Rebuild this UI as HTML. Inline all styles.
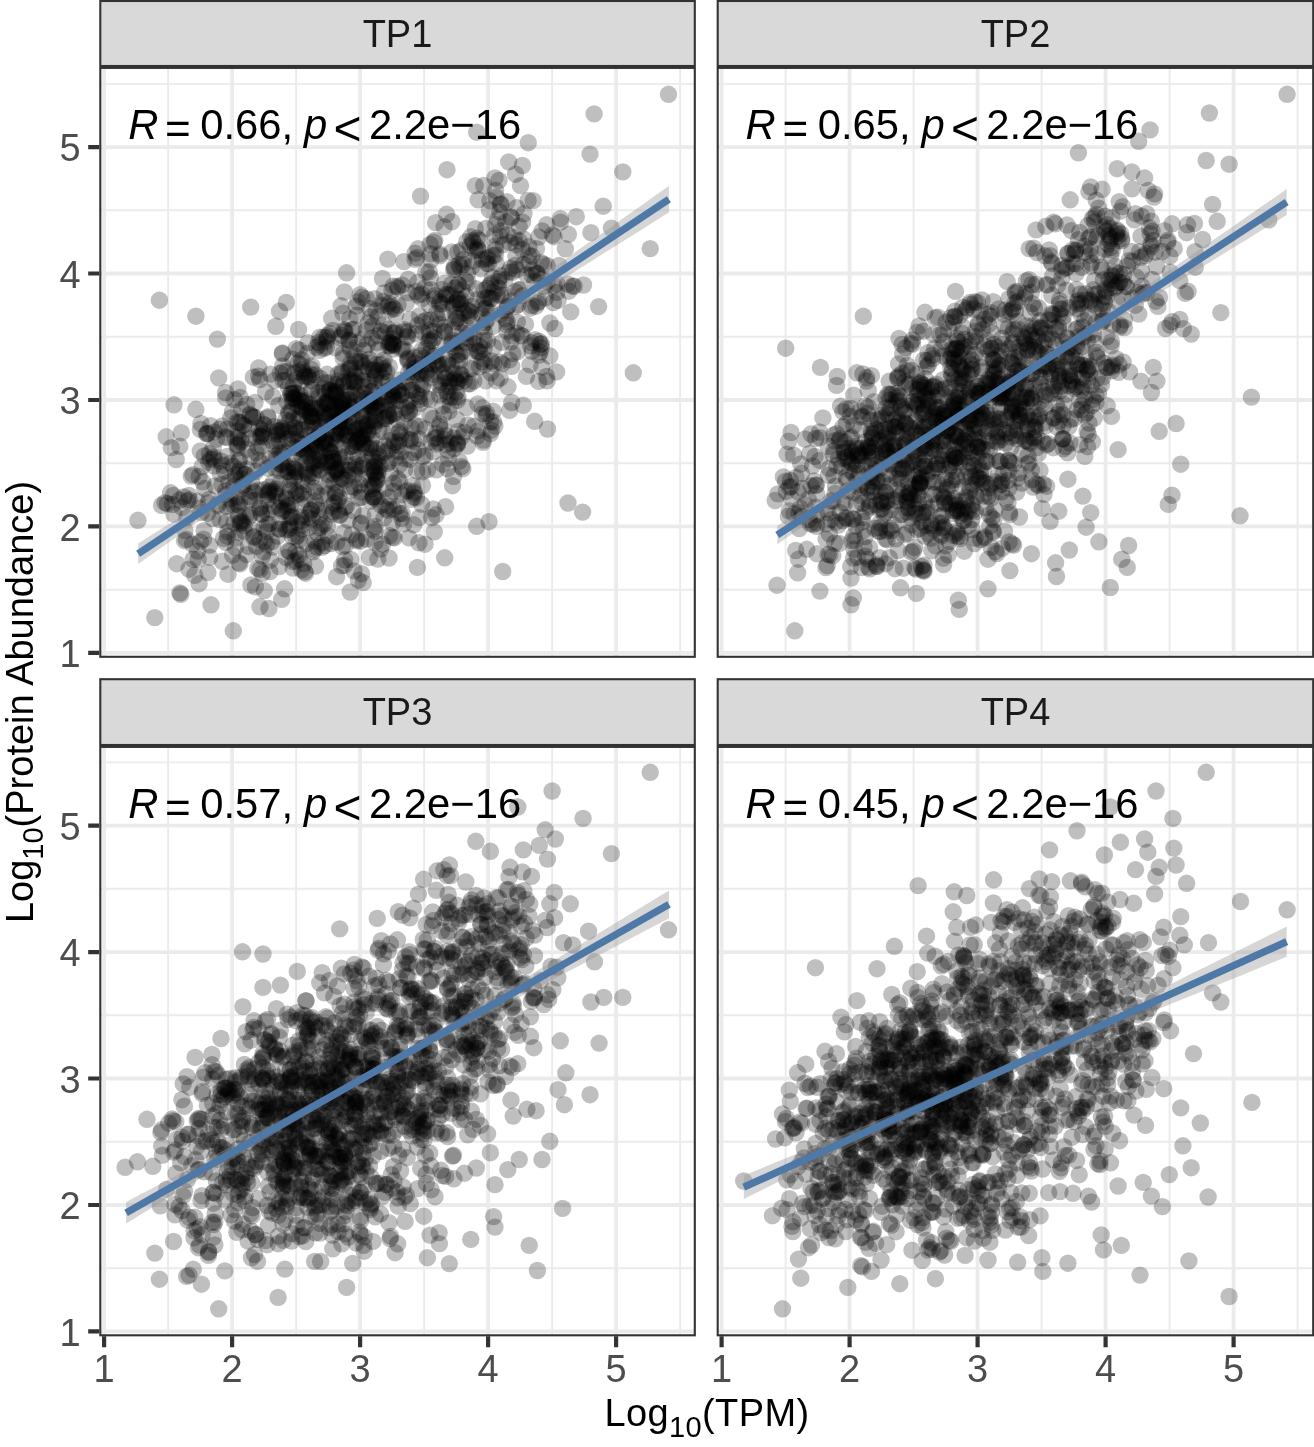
<!DOCTYPE html>
<html lang="en"><head><meta charset="utf-8"><title>Log10(TPM) vs Log10(Protein Abundance)</title>
<style>html,body{margin:0;padding:0;background:#fff}svg{display:block}text{font-family:"Liberation Sans",Arial,Helvetica,sans-serif}.tk{font-size:38px;fill:#4d4d4d}.st{font-size:38px;fill:#1a1a1a}.an{font-size:41.8px;fill:#000}.ti{font-size:38px;fill:#000}.i{font-style:italic}</style></head>
<body>
<svg width="1314" height="1447" viewBox="0 0 1314 1447">
<rect width="1314" height="1447" fill="#fff"/>
<g id="TP1">
<clipPath id="c0"><rect x="100.3" y="67.9" width="594.5" height="588.9"/></clipPath>
<rect x="100.3" y="67.9" width="594.5" height="588.9" fill="#fff"/>
<path d="M168.1 67.9V656.8M100.3 589.7H694.8M296.1 67.9V656.8M100.3 463.2H694.8M424.1 67.9V656.8M100.3 336.8H694.8M552.1 67.9V656.8M100.3 210.3H694.8M680.1 67.9V656.8M100.3 83.9H694.8" stroke="#ebebeb" stroke-width="1.9" fill="none"/>
<path d="M104.1 67.9V656.8M100.3 652.9H694.8M232.1 67.9V656.8M100.3 526.4H694.8M360.1 67.9V656.8M100.3 400H694.8M488.1 67.9V656.8M100.3 273.5H694.8M616.1 67.9V656.8M100.3 147.1H694.8" stroke="#ebebeb" stroke-width="3.8" fill="none"/>
<g clip-path="url(#c0)"><g fill="#000" fill-opacity="0.25">
<circle cx="359.6" cy="484.5" r="8.7"/><circle cx="288.9" cy="429.6" r="8.7"/><circle cx="352.9" cy="406.6" r="8.7"/><circle cx="263.7" cy="551.8" r="8.7"/><circle cx="356.9" cy="399.7" r="8.7"/><circle cx="369.2" cy="448.1" r="8.7"/>
<circle cx="332.7" cy="461.2" r="8.7"/><circle cx="252.3" cy="490.8" r="8.7"/><circle cx="200.3" cy="451" r="8.7"/><circle cx="244.5" cy="474.6" r="8.7"/><circle cx="292.6" cy="401.8" r="8.7"/><circle cx="354.8" cy="391.5" r="8.7"/>
<circle cx="374.6" cy="385.4" r="8.7"/><circle cx="348.6" cy="426.7" r="8.7"/><circle cx="238.2" cy="437.9" r="8.7"/><circle cx="233.8" cy="486" r="8.7"/><circle cx="318.7" cy="509.6" r="8.7"/><circle cx="367.5" cy="424.7" r="8.7"/>
<circle cx="267.6" cy="494.6" r="8.7"/><circle cx="237.5" cy="496.6" r="8.7"/><circle cx="354.7" cy="383.5" r="8.7"/><circle cx="320.2" cy="378.2" r="8.7"/><circle cx="330.4" cy="451.3" r="8.7"/><circle cx="397.2" cy="419.3" r="8.7"/>
<circle cx="389.2" cy="461.7" r="8.7"/><circle cx="261.3" cy="513.8" r="8.7"/><circle cx="293.5" cy="386.1" r="8.7"/><circle cx="270.2" cy="490.4" r="8.7"/><circle cx="230.3" cy="463.2" r="8.7"/><circle cx="374.7" cy="484.7" r="8.7"/>
<circle cx="213.9" cy="457" r="8.7"/><circle cx="419.1" cy="396" r="8.7"/><circle cx="339.3" cy="416.8" r="8.7"/><circle cx="294" cy="466.3" r="8.7"/><circle cx="313.2" cy="420" r="8.7"/><circle cx="327.8" cy="494" r="8.7"/>
<circle cx="279.8" cy="529.1" r="8.7"/><circle cx="438.5" cy="364.1" r="8.7"/><circle cx="279.1" cy="528.9" r="8.7"/><circle cx="263.5" cy="424.2" r="8.7"/><circle cx="272.4" cy="440.8" r="8.7"/><circle cx="361.4" cy="468.2" r="8.7"/>
<circle cx="362.6" cy="380.1" r="8.7"/><circle cx="368.4" cy="432.2" r="8.7"/><circle cx="392.8" cy="445.6" r="8.7"/><circle cx="268" cy="416.7" r="8.7"/><circle cx="249.4" cy="438.1" r="8.7"/><circle cx="328.8" cy="404.3" r="8.7"/>
<circle cx="325.5" cy="438.7" r="8.7"/><circle cx="338.7" cy="380.9" r="8.7"/><circle cx="450.6" cy="397.2" r="8.7"/><circle cx="417.6" cy="325.3" r="8.7"/><circle cx="362.3" cy="436.8" r="8.7"/><circle cx="338.9" cy="428" r="8.7"/>
<circle cx="296.2" cy="399.5" r="8.7"/><circle cx="314.1" cy="468" r="8.7"/><circle cx="348.2" cy="430.9" r="8.7"/><circle cx="295.6" cy="433.5" r="8.7"/><circle cx="344.9" cy="415.3" r="8.7"/><circle cx="274.6" cy="506.4" r="8.7"/>
<circle cx="279.4" cy="440.9" r="8.7"/><circle cx="325" cy="392.8" r="8.7"/><circle cx="311.1" cy="509.8" r="8.7"/><circle cx="261.3" cy="463.3" r="8.7"/><circle cx="381.7" cy="305.2" r="8.7"/><circle cx="316.7" cy="347.1" r="8.7"/>
<circle cx="389" cy="416.1" r="8.7"/><circle cx="378.7" cy="404.3" r="8.7"/><circle cx="332.7" cy="458" r="8.7"/><circle cx="353.6" cy="380.3" r="8.7"/><circle cx="385.7" cy="488.7" r="8.7"/><circle cx="313.5" cy="472.9" r="8.7"/>
<circle cx="319.3" cy="434.5" r="8.7"/><circle cx="308.3" cy="376.2" r="8.7"/><circle cx="412.6" cy="374" r="8.7"/><circle cx="308.3" cy="453.1" r="8.7"/><circle cx="329.5" cy="480.4" r="8.7"/><circle cx="318.8" cy="469.9" r="8.7"/>
<circle cx="388.2" cy="450" r="8.7"/><circle cx="414.1" cy="491.5" r="8.7"/><circle cx="305.7" cy="472.3" r="8.7"/><circle cx="329.5" cy="390.9" r="8.7"/><circle cx="269.2" cy="487.3" r="8.7"/><circle cx="290.1" cy="516.5" r="8.7"/>
<circle cx="276.1" cy="489" r="8.7"/><circle cx="204.4" cy="455.9" r="8.7"/><circle cx="362" cy="414.2" r="8.7"/><circle cx="343.7" cy="403" r="8.7"/><circle cx="339.1" cy="434.8" r="8.7"/><circle cx="249.3" cy="428.8" r="8.7"/>
<circle cx="334.7" cy="404.1" r="8.7"/><circle cx="304.8" cy="453.7" r="8.7"/><circle cx="299.1" cy="349.9" r="8.7"/><circle cx="233.2" cy="466.1" r="8.7"/><circle cx="303.3" cy="372.4" r="8.7"/><circle cx="486.3" cy="259" r="8.7"/>
<circle cx="311.9" cy="444.7" r="8.7"/><circle cx="273.4" cy="482.3" r="8.7"/><circle cx="393.9" cy="345.5" r="8.7"/><circle cx="461" cy="303.3" r="8.7"/><circle cx="320.7" cy="425.9" r="8.7"/><circle cx="311.8" cy="389.9" r="8.7"/>
<circle cx="294.2" cy="393.2" r="8.7"/><circle cx="362.8" cy="515.8" r="8.7"/><circle cx="376.2" cy="407.2" r="8.7"/><circle cx="374.4" cy="472.3" r="8.7"/><circle cx="336.8" cy="492.8" r="8.7"/><circle cx="299.8" cy="394.9" r="8.7"/>
<circle cx="348.8" cy="399.9" r="8.7"/><circle cx="356.6" cy="429.2" r="8.7"/><circle cx="324.5" cy="457" r="8.7"/><circle cx="458.2" cy="431.4" r="8.7"/><circle cx="220" cy="519.6" r="8.7"/><circle cx="372.3" cy="391.4" r="8.7"/>
<circle cx="254.4" cy="492.6" r="8.7"/><circle cx="354" cy="435.8" r="8.7"/><circle cx="340.4" cy="416.3" r="8.7"/><circle cx="337" cy="387.5" r="8.7"/><circle cx="414.8" cy="368.3" r="8.7"/><circle cx="330.8" cy="390.1" r="8.7"/>
<circle cx="336.6" cy="434.1" r="8.7"/><circle cx="240.9" cy="440.3" r="8.7"/><circle cx="334.6" cy="392.1" r="8.7"/><circle cx="416.6" cy="393.6" r="8.7"/><circle cx="325" cy="382.7" r="8.7"/><circle cx="292.3" cy="398" r="8.7"/>
<circle cx="330.4" cy="466.4" r="8.7"/><circle cx="331.7" cy="506.2" r="8.7"/><circle cx="407.1" cy="413.7" r="8.7"/><circle cx="294.3" cy="427.6" r="8.7"/><circle cx="292.7" cy="359.1" r="8.7"/><circle cx="302.6" cy="369.5" r="8.7"/>
<circle cx="289.7" cy="551.5" r="8.7"/><circle cx="292.7" cy="434.3" r="8.7"/><circle cx="405.8" cy="407.8" r="8.7"/><circle cx="220.7" cy="461" r="8.7"/><circle cx="413.8" cy="452.7" r="8.7"/><circle cx="295.3" cy="469.2" r="8.7"/>
<circle cx="334.1" cy="483.1" r="8.7"/><circle cx="333.2" cy="410.2" r="8.7"/><circle cx="221.9" cy="484.5" r="8.7"/><circle cx="470" cy="383.8" r="8.7"/><circle cx="393" cy="344.7" r="8.7"/><circle cx="323.8" cy="337.3" r="8.7"/>
<circle cx="402.2" cy="394.6" r="8.7"/><circle cx="327.5" cy="335.6" r="8.7"/><circle cx="349.3" cy="340.2" r="8.7"/><circle cx="279.5" cy="470.7" r="8.7"/><circle cx="361.7" cy="362.2" r="8.7"/><circle cx="283.8" cy="431.2" r="8.7"/>
<circle cx="325.4" cy="403" r="8.7"/><circle cx="404.3" cy="422.5" r="8.7"/><circle cx="311.1" cy="374.6" r="8.7"/><circle cx="288.2" cy="467.6" r="8.7"/><circle cx="302.2" cy="481.8" r="8.7"/><circle cx="359" cy="466.3" r="8.7"/>
<circle cx="329.5" cy="450.7" r="8.7"/><circle cx="335.1" cy="347.9" r="8.7"/><circle cx="277.7" cy="443.8" r="8.7"/><circle cx="387.8" cy="463.3" r="8.7"/><circle cx="329.6" cy="333.5" r="8.7"/><circle cx="301.6" cy="504.3" r="8.7"/>
<circle cx="334.6" cy="448.6" r="8.7"/><circle cx="252.9" cy="416.7" r="8.7"/><circle cx="356.5" cy="441.2" r="8.7"/><circle cx="236.9" cy="444.5" r="8.7"/><circle cx="238" cy="445.5" r="8.7"/><circle cx="409.9" cy="439.2" r="8.7"/>
<circle cx="339.4" cy="480" r="8.7"/><circle cx="375" cy="473.6" r="8.7"/><circle cx="290.7" cy="445.3" r="8.7"/><circle cx="353.5" cy="418.5" r="8.7"/><circle cx="216.4" cy="439.1" r="8.7"/><circle cx="240.3" cy="397.4" r="8.7"/>
<circle cx="288.6" cy="388" r="8.7"/><circle cx="411.1" cy="367.8" r="8.7"/><circle cx="311.2" cy="369.3" r="8.7"/><circle cx="290.2" cy="490.4" r="8.7"/><circle cx="409.2" cy="410.8" r="8.7"/><circle cx="404.7" cy="469.7" r="8.7"/>
<circle cx="331.7" cy="318.3" r="8.7"/><circle cx="402.2" cy="513.5" r="8.7"/><circle cx="371.1" cy="405.8" r="8.7"/><circle cx="397.8" cy="478.8" r="8.7"/><circle cx="362.7" cy="424.2" r="8.7"/><circle cx="459.2" cy="461.1" r="8.7"/>
<circle cx="322.7" cy="417.9" r="8.7"/><circle cx="344" cy="433.7" r="8.7"/><circle cx="415.2" cy="425.5" r="8.7"/><circle cx="267.5" cy="524.2" r="8.7"/><circle cx="304.9" cy="375.6" r="8.7"/><circle cx="295.8" cy="537" r="8.7"/>
<circle cx="312.5" cy="422.4" r="8.7"/><circle cx="246.7" cy="469.3" r="8.7"/><circle cx="364" cy="430.7" r="8.7"/><circle cx="327.2" cy="403.1" r="8.7"/><circle cx="301.8" cy="401.5" r="8.7"/><circle cx="399.9" cy="513.6" r="8.7"/>
<circle cx="376.8" cy="480.6" r="8.7"/><circle cx="200.4" cy="429.3" r="8.7"/><circle cx="375" cy="466.9" r="8.7"/><circle cx="301.2" cy="364.8" r="8.7"/><circle cx="269.5" cy="523.6" r="8.7"/><circle cx="255" cy="402.5" r="8.7"/>
<circle cx="286.5" cy="498" r="8.7"/><circle cx="369.5" cy="405.8" r="8.7"/><circle cx="281.6" cy="464.8" r="8.7"/><circle cx="299" cy="418.1" r="8.7"/><circle cx="299.3" cy="539.8" r="8.7"/><circle cx="297.3" cy="522" r="8.7"/>
<circle cx="291.4" cy="394" r="8.7"/><circle cx="278.9" cy="434.6" r="8.7"/><circle cx="348.4" cy="420.9" r="8.7"/><circle cx="341.7" cy="465" r="8.7"/><circle cx="306.5" cy="442.7" r="8.7"/><circle cx="341.7" cy="405.6" r="8.7"/>
<circle cx="296.8" cy="378.9" r="8.7"/><circle cx="263" cy="433.1" r="8.7"/><circle cx="297.9" cy="397.6" r="8.7"/><circle cx="321" cy="495.6" r="8.7"/><circle cx="344" cy="532.7" r="8.7"/><circle cx="436.6" cy="437.5" r="8.7"/>
<circle cx="258.9" cy="490.3" r="8.7"/><circle cx="377.5" cy="399.8" r="8.7"/><circle cx="372" cy="338" r="8.7"/><circle cx="319" cy="396.8" r="8.7"/><circle cx="449.2" cy="411.1" r="8.7"/><circle cx="324.7" cy="418.1" r="8.7"/>
<circle cx="259.8" cy="379.6" r="8.7"/><circle cx="288.8" cy="412.1" r="8.7"/><circle cx="373.2" cy="420.3" r="8.7"/><circle cx="261.3" cy="435.7" r="8.7"/><circle cx="336.3" cy="432.9" r="8.7"/><circle cx="315.3" cy="444.1" r="8.7"/>
<circle cx="390.6" cy="342.7" r="8.7"/><circle cx="401.2" cy="394.9" r="8.7"/><circle cx="253.4" cy="377.2" r="8.7"/><circle cx="309.5" cy="513.6" r="8.7"/><circle cx="297" cy="471.4" r="8.7"/><circle cx="342.3" cy="373.2" r="8.7"/>
<circle cx="323.7" cy="388.4" r="8.7"/><circle cx="436.2" cy="313.6" r="8.7"/><circle cx="419.4" cy="438.8" r="8.7"/><circle cx="219.6" cy="429.1" r="8.7"/><circle cx="286.8" cy="401.4" r="8.7"/><circle cx="353.7" cy="329.2" r="8.7"/>
<circle cx="303.8" cy="563.7" r="8.7"/><circle cx="371.5" cy="391.5" r="8.7"/><circle cx="217.8" cy="503.9" r="8.7"/><circle cx="235" cy="437.3" r="8.7"/><circle cx="372.1" cy="439.3" r="8.7"/><circle cx="289.9" cy="485.3" r="8.7"/>
<circle cx="364.2" cy="350.4" r="8.7"/><circle cx="351.9" cy="534.7" r="8.7"/><circle cx="335.4" cy="471" r="8.7"/><circle cx="335.7" cy="390.2" r="8.7"/><circle cx="318.5" cy="392.7" r="8.7"/><circle cx="355.4" cy="464.4" r="8.7"/>
<circle cx="362.9" cy="433.3" r="8.7"/><circle cx="363.7" cy="463.8" r="8.7"/><circle cx="333.2" cy="436.5" r="8.7"/><circle cx="422.2" cy="388" r="8.7"/><circle cx="298.5" cy="371.7" r="8.7"/><circle cx="270.3" cy="458.8" r="8.7"/>
<circle cx="344.9" cy="330" r="8.7"/><circle cx="390.7" cy="472.8" r="8.7"/><circle cx="338.9" cy="423.1" r="8.7"/><circle cx="369.2" cy="363.1" r="8.7"/><circle cx="325.5" cy="440.2" r="8.7"/><circle cx="422.8" cy="332.2" r="8.7"/>
<circle cx="354.6" cy="444.7" r="8.7"/><circle cx="372" cy="456.2" r="8.7"/><circle cx="294.4" cy="373.2" r="8.7"/><circle cx="237.2" cy="422" r="8.7"/><circle cx="414.1" cy="408.6" r="8.7"/><circle cx="376.5" cy="342.5" r="8.7"/>
<circle cx="295.1" cy="428" r="8.7"/><circle cx="406.4" cy="303" r="8.7"/><circle cx="429.8" cy="414.7" r="8.7"/><circle cx="457.1" cy="355.2" r="8.7"/><circle cx="298.1" cy="363.3" r="8.7"/><circle cx="327.2" cy="444.6" r="8.7"/>
<circle cx="300.9" cy="516.7" r="8.7"/><circle cx="332.7" cy="330.4" r="8.7"/><circle cx="281.9" cy="454.2" r="8.7"/><circle cx="179.8" cy="446.3" r="8.7"/><circle cx="297.8" cy="406.1" r="8.7"/><circle cx="394.8" cy="442.4" r="8.7"/>
<circle cx="276.5" cy="459.3" r="8.7"/><circle cx="270.4" cy="509.4" r="8.7"/><circle cx="334.4" cy="503.3" r="8.7"/><circle cx="400.9" cy="452.3" r="8.7"/><circle cx="247.3" cy="449.3" r="8.7"/><circle cx="284.6" cy="452.3" r="8.7"/>
<circle cx="434.8" cy="438.5" r="8.7"/><circle cx="337.7" cy="472.3" r="8.7"/><circle cx="350.1" cy="490.7" r="8.7"/><circle cx="315.9" cy="505.2" r="8.7"/><circle cx="318.5" cy="342.5" r="8.7"/><circle cx="249.6" cy="414.1" r="8.7"/>
<circle cx="322.5" cy="441.8" r="8.7"/><circle cx="330.8" cy="452.9" r="8.7"/><circle cx="324.7" cy="402.8" r="8.7"/><circle cx="374.6" cy="422.4" r="8.7"/><circle cx="291.3" cy="411" r="8.7"/><circle cx="285.4" cy="380.7" r="8.7"/>
<circle cx="326.2" cy="421.3" r="8.7"/><circle cx="312.9" cy="440.1" r="8.7"/><circle cx="317.8" cy="460.6" r="8.7"/><circle cx="325.3" cy="448.7" r="8.7"/><circle cx="366.9" cy="398.5" r="8.7"/><circle cx="289.2" cy="525" r="8.7"/>
<circle cx="328" cy="474.4" r="8.7"/><circle cx="361" cy="397.6" r="8.7"/><circle cx="234.5" cy="399.6" r="8.7"/><circle cx="399.1" cy="380" r="8.7"/><circle cx="265.6" cy="391.9" r="8.7"/><circle cx="446.3" cy="444.5" r="8.7"/>
<circle cx="232.5" cy="411.9" r="8.7"/><circle cx="367.7" cy="430.7" r="8.7"/><circle cx="334.7" cy="421.4" r="8.7"/><circle cx="317.4" cy="418.7" r="8.7"/><circle cx="336.2" cy="432.6" r="8.7"/><circle cx="342" cy="409.2" r="8.7"/>
<circle cx="343.1" cy="400.3" r="8.7"/><circle cx="312.6" cy="427.6" r="8.7"/><circle cx="311.9" cy="407.7" r="8.7"/><circle cx="383.2" cy="301.2" r="8.7"/><circle cx="358.3" cy="439.5" r="8.7"/><circle cx="399" cy="400.4" r="8.7"/>
<circle cx="275" cy="468" r="8.7"/><circle cx="301.7" cy="456.1" r="8.7"/><circle cx="267.8" cy="418" r="8.7"/><circle cx="401.9" cy="494.6" r="8.7"/><circle cx="327.8" cy="405.4" r="8.7"/><circle cx="280.2" cy="373.1" r="8.7"/>
<circle cx="300.5" cy="415.3" r="8.7"/><circle cx="384.6" cy="445.7" r="8.7"/><circle cx="261.8" cy="446.2" r="8.7"/><circle cx="300.5" cy="429.3" r="8.7"/><circle cx="315.2" cy="374.8" r="8.7"/><circle cx="293" cy="454.9" r="8.7"/>
<circle cx="331.5" cy="462.3" r="8.7"/><circle cx="259.3" cy="428.4" r="8.7"/><circle cx="370.6" cy="448" r="8.7"/><circle cx="288.6" cy="529.3" r="8.7"/><circle cx="353.2" cy="427.4" r="8.7"/><circle cx="313" cy="447.8" r="8.7"/>
<circle cx="375" cy="471.8" r="8.7"/><circle cx="493.1" cy="411.2" r="8.7"/><circle cx="339.8" cy="337.6" r="8.7"/><circle cx="342.8" cy="385.4" r="8.7"/><circle cx="334.6" cy="393.6" r="8.7"/><circle cx="315.4" cy="444.9" r="8.7"/>
<circle cx="310.7" cy="464.1" r="8.7"/><circle cx="319.5" cy="433.1" r="8.7"/><circle cx="286.5" cy="499.5" r="8.7"/><circle cx="302.7" cy="448.3" r="8.7"/><circle cx="353" cy="451.9" r="8.7"/><circle cx="310.2" cy="412.8" r="8.7"/>
<circle cx="293.8" cy="398" r="8.7"/><circle cx="319.2" cy="527.5" r="8.7"/><circle cx="441.3" cy="390" r="8.7"/><circle cx="389.6" cy="440.8" r="8.7"/><circle cx="408.1" cy="358" r="8.7"/><circle cx="170.6" cy="492.8" r="8.7"/>
<circle cx="321.2" cy="408" r="8.7"/><circle cx="318.2" cy="452.4" r="8.7"/><circle cx="326.4" cy="341" r="8.7"/><circle cx="280.4" cy="430.4" r="8.7"/><circle cx="255.9" cy="452.5" r="8.7"/><circle cx="445.1" cy="332.4" r="8.7"/>
<circle cx="330.2" cy="443.3" r="8.7"/><circle cx="328.9" cy="382.6" r="8.7"/><circle cx="307.8" cy="455.7" r="8.7"/><circle cx="274.7" cy="380.4" r="8.7"/><circle cx="240.8" cy="422.7" r="8.7"/><circle cx="364.2" cy="393.4" r="8.7"/>
<circle cx="414.3" cy="493.5" r="8.7"/><circle cx="294.5" cy="447.6" r="8.7"/><circle cx="371.8" cy="400.4" r="8.7"/><circle cx="378.9" cy="429.8" r="8.7"/><circle cx="309.9" cy="449.6" r="8.7"/><circle cx="370.9" cy="444.8" r="8.7"/>
<circle cx="283" cy="371.7" r="8.7"/><circle cx="447.5" cy="468.7" r="8.7"/><circle cx="436.4" cy="444" r="8.7"/><circle cx="342" cy="371.5" r="8.7"/><circle cx="274.7" cy="445.9" r="8.7"/><circle cx="339" cy="413.6" r="8.7"/>
<circle cx="362.9" cy="443.1" r="8.7"/><circle cx="279.8" cy="452.5" r="8.7"/><circle cx="237.9" cy="388.9" r="8.7"/><circle cx="435.6" cy="355.5" r="8.7"/><circle cx="348" cy="520.1" r="8.7"/><circle cx="294.5" cy="398.2" r="8.7"/>
<circle cx="348" cy="475.2" r="8.7"/><circle cx="361.7" cy="497.2" r="8.7"/><circle cx="290.7" cy="393.6" r="8.7"/><circle cx="373.8" cy="369.8" r="8.7"/><circle cx="338.7" cy="421.7" r="8.7"/><circle cx="364.5" cy="386.6" r="8.7"/>
<circle cx="253.6" cy="530.5" r="8.7"/><circle cx="407.2" cy="438.9" r="8.7"/><circle cx="292.5" cy="393.3" r="8.7"/><circle cx="319.2" cy="437.3" r="8.7"/><circle cx="363.1" cy="408.7" r="8.7"/><circle cx="306" cy="411.7" r="8.7"/>
<circle cx="302.3" cy="408.7" r="8.7"/><circle cx="327.1" cy="337.5" r="8.7"/><circle cx="296.1" cy="348.6" r="8.7"/><circle cx="395.6" cy="457.6" r="8.7"/><circle cx="291.9" cy="439.3" r="8.7"/><circle cx="209.4" cy="453.8" r="8.7"/>
<circle cx="392" cy="349.4" r="8.7"/><circle cx="282.2" cy="353.7" r="8.7"/><circle cx="399.5" cy="481.5" r="8.7"/><circle cx="283.7" cy="510" r="8.7"/><circle cx="230.8" cy="418" r="8.7"/><circle cx="368.3" cy="384.4" r="8.7"/>
<circle cx="444.2" cy="430.5" r="8.7"/><circle cx="349.7" cy="318.9" r="8.7"/><circle cx="338.3" cy="411.2" r="8.7"/><circle cx="264.5" cy="425.3" r="8.7"/><circle cx="304.2" cy="429.6" r="8.7"/><circle cx="321.5" cy="462.6" r="8.7"/>
<circle cx="344.4" cy="421.7" r="8.7"/><circle cx="272.9" cy="396.6" r="8.7"/><circle cx="324.5" cy="486" r="8.7"/><circle cx="274.9" cy="491.2" r="8.7"/><circle cx="336.3" cy="391.7" r="8.7"/><circle cx="389.6" cy="414.8" r="8.7"/>
<circle cx="208.8" cy="462.2" r="8.7"/><circle cx="319.7" cy="464.9" r="8.7"/><circle cx="339" cy="497.4" r="8.7"/><circle cx="258.7" cy="368" r="8.7"/><circle cx="486" cy="415.7" r="8.7"/><circle cx="388.4" cy="329.1" r="8.7"/>
<circle cx="352.9" cy="510.7" r="8.7"/><circle cx="354.1" cy="382" r="8.7"/><circle cx="363.6" cy="415.6" r="8.7"/><circle cx="409.8" cy="400.7" r="8.7"/><circle cx="349.4" cy="381.9" r="8.7"/><circle cx="346.2" cy="435.8" r="8.7"/>
<circle cx="246.7" cy="404.4" r="8.7"/><circle cx="377.8" cy="474.3" r="8.7"/><circle cx="279.9" cy="483.5" r="8.7"/><circle cx="387.5" cy="410.3" r="8.7"/><circle cx="369.3" cy="359.3" r="8.7"/><circle cx="259.9" cy="508.8" r="8.7"/>
<circle cx="427.5" cy="469.8" r="8.7"/><circle cx="238.9" cy="422.3" r="8.7"/><circle cx="369.4" cy="421.4" r="8.7"/><circle cx="356.2" cy="442.4" r="8.7"/><circle cx="414.4" cy="372.1" r="8.7"/><circle cx="362.6" cy="465.1" r="8.7"/>
<circle cx="285.7" cy="419.7" r="8.7"/><circle cx="305.8" cy="462.2" r="8.7"/><circle cx="361.8" cy="449.2" r="8.7"/><circle cx="375.8" cy="498.5" r="8.7"/><circle cx="368.1" cy="404.3" r="8.7"/><circle cx="278.7" cy="405.4" r="8.7"/>
<circle cx="280.7" cy="427.1" r="8.7"/><circle cx="345" cy="480.2" r="8.7"/><circle cx="354.6" cy="373.5" r="8.7"/><circle cx="485.8" cy="380.8" r="8.7"/><circle cx="357.4" cy="456.6" r="8.7"/><circle cx="288.4" cy="471.6" r="8.7"/>
<circle cx="296.6" cy="431.2" r="8.7"/><circle cx="283.1" cy="380.5" r="8.7"/><circle cx="267.9" cy="499.8" r="8.7"/><circle cx="301.6" cy="359.8" r="8.7"/><circle cx="422.7" cy="385.1" r="8.7"/><circle cx="394.2" cy="392.1" r="8.7"/>
<circle cx="480.8" cy="268.7" r="8.7"/><circle cx="380.2" cy="364.9" r="8.7"/><circle cx="426.4" cy="372" r="8.7"/><circle cx="354.2" cy="408.5" r="8.7"/><circle cx="197.4" cy="501.2" r="8.7"/><circle cx="304.7" cy="402.4" r="8.7"/>
<circle cx="306.5" cy="407.2" r="8.7"/><circle cx="516.8" cy="333.3" r="8.7"/><circle cx="266.7" cy="531.5" r="8.7"/><circle cx="343" cy="313.2" r="8.7"/><circle cx="389.1" cy="506.1" r="8.7"/><circle cx="172.5" cy="504.5" r="8.7"/>
<circle cx="369.5" cy="557.5" r="8.7"/><circle cx="311.7" cy="408.3" r="8.7"/><circle cx="369.9" cy="308.4" r="8.7"/><circle cx="235.5" cy="475.1" r="8.7"/><circle cx="488.5" cy="263.9" r="8.7"/><circle cx="493.8" cy="346.9" r="8.7"/>
<circle cx="453.5" cy="346.8" r="8.7"/><circle cx="429.7" cy="340.2" r="8.7"/><circle cx="357.7" cy="343" r="8.7"/><circle cx="421.9" cy="298.7" r="8.7"/><circle cx="330.8" cy="412.7" r="8.7"/><circle cx="340.7" cy="401.6" r="8.7"/>
<circle cx="487.9" cy="297.4" r="8.7"/><circle cx="382.6" cy="544.2" r="8.7"/><circle cx="266.6" cy="544.3" r="8.7"/><circle cx="408.9" cy="372.2" r="8.7"/><circle cx="319.7" cy="350.3" r="8.7"/><circle cx="347.2" cy="435.3" r="8.7"/>
<circle cx="258.1" cy="447.2" r="8.7"/><circle cx="282.1" cy="428.7" r="8.7"/><circle cx="312.2" cy="380.9" r="8.7"/><circle cx="359.6" cy="428.3" r="8.7"/><circle cx="515.4" cy="291.6" r="8.7"/><circle cx="331.6" cy="514.4" r="8.7"/>
<circle cx="463.9" cy="312.5" r="8.7"/><circle cx="403.7" cy="523.9" r="8.7"/><circle cx="450.6" cy="442.9" r="8.7"/><circle cx="324.1" cy="444.5" r="8.7"/><circle cx="450" cy="294.7" r="8.7"/><circle cx="226.8" cy="437.6" r="8.7"/>
<circle cx="302.8" cy="524.7" r="8.7"/><circle cx="349.4" cy="399.6" r="8.7"/><circle cx="405.5" cy="458.9" r="8.7"/><circle cx="250.4" cy="514.4" r="8.7"/><circle cx="274.9" cy="493.3" r="8.7"/><circle cx="393.4" cy="483.1" r="8.7"/>
<circle cx="388.4" cy="415.8" r="8.7"/><circle cx="409.5" cy="390.1" r="8.7"/><circle cx="241.3" cy="478.7" r="8.7"/><circle cx="373.5" cy="529.3" r="8.7"/><circle cx="349.8" cy="440.5" r="8.7"/><circle cx="326.4" cy="347.1" r="8.7"/>
<circle cx="243.7" cy="425.2" r="8.7"/><circle cx="413.6" cy="441.8" r="8.7"/><circle cx="225.7" cy="542.3" r="8.7"/><circle cx="383.8" cy="324.9" r="8.7"/><circle cx="314.2" cy="488.2" r="8.7"/><circle cx="394.2" cy="308.9" r="8.7"/>
<circle cx="347.1" cy="389" r="8.7"/><circle cx="484.1" cy="349.2" r="8.7"/><circle cx="173.4" cy="495.4" r="8.7"/><circle cx="358.8" cy="498" r="8.7"/><circle cx="201.2" cy="512.6" r="8.7"/><circle cx="471.8" cy="306.2" r="8.7"/>
<circle cx="540.1" cy="351.9" r="8.7"/><circle cx="300.7" cy="406.9" r="8.7"/><circle cx="226.1" cy="494.6" r="8.7"/><circle cx="407.8" cy="359.3" r="8.7"/><circle cx="240.4" cy="523.6" r="8.7"/><circle cx="233.6" cy="505.2" r="8.7"/>
<circle cx="352.2" cy="446.2" r="8.7"/><circle cx="371.3" cy="480.3" r="8.7"/><circle cx="282" cy="511.4" r="8.7"/><circle cx="395.7" cy="314.5" r="8.7"/><circle cx="486.8" cy="319.9" r="8.7"/><circle cx="468.9" cy="310.6" r="8.7"/>
<circle cx="372" cy="488.8" r="8.7"/><circle cx="300.3" cy="448.5" r="8.7"/><circle cx="407.7" cy="406" r="8.7"/><circle cx="308.5" cy="476.9" r="8.7"/><circle cx="378.4" cy="454.2" r="8.7"/><circle cx="490" cy="285.3" r="8.7"/>
<circle cx="336.6" cy="439.8" r="8.7"/><circle cx="410.3" cy="459.6" r="8.7"/><circle cx="309.3" cy="426.9" r="8.7"/><circle cx="405.8" cy="491.4" r="8.7"/><circle cx="204.1" cy="530.6" r="8.7"/><circle cx="511.7" cy="402.5" r="8.7"/>
<circle cx="249.1" cy="516.5" r="8.7"/><circle cx="189.3" cy="499.6" r="8.7"/><circle cx="356.8" cy="395.4" r="8.7"/><circle cx="462.6" cy="333" r="8.7"/><circle cx="501" cy="203.9" r="8.7"/><circle cx="541.4" cy="278.9" r="8.7"/>
<circle cx="377" cy="479.9" r="8.7"/><circle cx="444.9" cy="378.5" r="8.7"/><circle cx="255.4" cy="586.9" r="8.7"/><circle cx="439.6" cy="395" r="8.7"/><circle cx="426.1" cy="320.3" r="8.7"/><circle cx="327.2" cy="403.5" r="8.7"/>
<circle cx="264.3" cy="590.6" r="8.7"/><circle cx="398" cy="304.8" r="8.7"/><circle cx="439.1" cy="442.6" r="8.7"/><circle cx="365.9" cy="447.5" r="8.7"/><circle cx="361.1" cy="438.4" r="8.7"/><circle cx="477.3" cy="238.2" r="8.7"/>
<circle cx="311.2" cy="391.9" r="8.7"/><circle cx="369.3" cy="486.2" r="8.7"/><circle cx="399.7" cy="430.8" r="8.7"/><circle cx="422.5" cy="471.8" r="8.7"/><circle cx="442.7" cy="312.9" r="8.7"/><circle cx="304.8" cy="400.7" r="8.7"/>
<circle cx="296" cy="471.9" r="8.7"/><circle cx="335.8" cy="384.6" r="8.7"/><circle cx="377.2" cy="405.1" r="8.7"/><circle cx="382.6" cy="431.5" r="8.7"/><circle cx="349.2" cy="339.9" r="8.7"/><circle cx="378.6" cy="370.6" r="8.7"/>
<circle cx="378.3" cy="349.6" r="8.7"/><circle cx="389.3" cy="404.1" r="8.7"/><circle cx="431" cy="260.1" r="8.7"/><circle cx="374.3" cy="402.2" r="8.7"/><circle cx="338.2" cy="374.1" r="8.7"/><circle cx="293.5" cy="468.4" r="8.7"/>
<circle cx="378.3" cy="470.8" r="8.7"/><circle cx="337.5" cy="468.3" r="8.7"/><circle cx="341.8" cy="335.4" r="8.7"/><circle cx="398" cy="287.6" r="8.7"/><circle cx="352.2" cy="329.8" r="8.7"/><circle cx="456.1" cy="302.6" r="8.7"/>
<circle cx="319.9" cy="337.1" r="8.7"/><circle cx="409.6" cy="412" r="8.7"/><circle cx="300.2" cy="494.3" r="8.7"/><circle cx="452.5" cy="485.7" r="8.7"/><circle cx="454.7" cy="269.2" r="8.7"/><circle cx="426.5" cy="398.3" r="8.7"/>
<circle cx="469.2" cy="332.9" r="8.7"/><circle cx="315.5" cy="409" r="8.7"/><circle cx="419.4" cy="315.6" r="8.7"/><circle cx="349.7" cy="368.5" r="8.7"/><circle cx="393" cy="413.9" r="8.7"/><circle cx="228" cy="574.2" r="8.7"/>
<circle cx="448.5" cy="458.4" r="8.7"/><circle cx="507.3" cy="321.8" r="8.7"/><circle cx="382.4" cy="363.9" r="8.7"/><circle cx="360.3" cy="358.7" r="8.7"/><circle cx="420.2" cy="403.4" r="8.7"/><circle cx="457.2" cy="360.9" r="8.7"/>
<circle cx="327.4" cy="420" r="8.7"/><circle cx="207.9" cy="572.6" r="8.7"/><circle cx="376.2" cy="420.7" r="8.7"/><circle cx="417.8" cy="374.2" r="8.7"/><circle cx="298" cy="441.5" r="8.7"/><circle cx="326.7" cy="433.8" r="8.7"/>
<circle cx="297.9" cy="535.4" r="8.7"/><circle cx="477.4" cy="299.6" r="8.7"/><circle cx="440" cy="423.6" r="8.7"/><circle cx="397.7" cy="506.4" r="8.7"/><circle cx="290.2" cy="479.9" r="8.7"/><circle cx="446.9" cy="391.3" r="8.7"/>
<circle cx="277.5" cy="536.1" r="8.7"/><circle cx="338.3" cy="510.8" r="8.7"/><circle cx="394.5" cy="413.6" r="8.7"/><circle cx="457.7" cy="252.3" r="8.7"/><circle cx="336" cy="469.3" r="8.7"/><circle cx="243.5" cy="425.5" r="8.7"/>
<circle cx="307.7" cy="474.1" r="8.7"/><circle cx="444.1" cy="372.8" r="8.7"/><circle cx="340.6" cy="401.9" r="8.7"/><circle cx="465.5" cy="337.8" r="8.7"/><circle cx="546.7" cy="224.7" r="8.7"/><circle cx="376.6" cy="448.6" r="8.7"/>
<circle cx="360.1" cy="294.7" r="8.7"/><circle cx="237.3" cy="448.1" r="8.7"/><circle cx="445.7" cy="435.7" r="8.7"/><circle cx="301.9" cy="444.2" r="8.7"/><circle cx="448" cy="450.6" r="8.7"/><circle cx="453.6" cy="269.3" r="8.7"/>
<circle cx="202.1" cy="466.7" r="8.7"/><circle cx="225.7" cy="397.9" r="8.7"/><circle cx="350.1" cy="364.1" r="8.7"/><circle cx="404.4" cy="381.6" r="8.7"/><circle cx="375.9" cy="374.1" r="8.7"/><circle cx="279.2" cy="566.5" r="8.7"/>
<circle cx="384.1" cy="371.5" r="8.7"/><circle cx="507.9" cy="386.8" r="8.7"/><circle cx="209.6" cy="545.1" r="8.7"/><circle cx="406.2" cy="382.7" r="8.7"/><circle cx="477.9" cy="430.9" r="8.7"/><circle cx="538.9" cy="341.2" r="8.7"/>
<circle cx="269.2" cy="492.7" r="8.7"/><circle cx="543.5" cy="264.3" r="8.7"/><circle cx="207.1" cy="433.6" r="8.7"/><circle cx="350.2" cy="446.6" r="8.7"/><circle cx="387.8" cy="259.1" r="8.7"/><circle cx="492.6" cy="277.4" r="8.7"/>
<circle cx="298.4" cy="493" r="8.7"/><circle cx="277.4" cy="431.5" r="8.7"/><circle cx="357.8" cy="301.8" r="8.7"/><circle cx="409" cy="537.9" r="8.7"/><circle cx="389" cy="342.6" r="8.7"/><circle cx="457.4" cy="381.9" r="8.7"/>
<circle cx="484.3" cy="332.2" r="8.7"/><circle cx="439.8" cy="324.2" r="8.7"/><circle cx="320.2" cy="470" r="8.7"/><circle cx="453.6" cy="437.9" r="8.7"/><circle cx="256.3" cy="436.8" r="8.7"/><circle cx="286.4" cy="371.7" r="8.7"/>
<circle cx="373.9" cy="496.8" r="8.7"/><circle cx="377.7" cy="496.9" r="8.7"/><circle cx="401.6" cy="349.3" r="8.7"/><circle cx="387.8" cy="399.7" r="8.7"/><circle cx="267.9" cy="468" r="8.7"/><circle cx="308.5" cy="435.1" r="8.7"/>
<circle cx="335.3" cy="495.6" r="8.7"/><circle cx="374.9" cy="531.3" r="8.7"/><circle cx="373.4" cy="497.6" r="8.7"/><circle cx="356.4" cy="306.2" r="8.7"/><circle cx="371.6" cy="404.8" r="8.7"/><circle cx="436.5" cy="469.8" r="8.7"/>
<circle cx="454.1" cy="397" r="8.7"/><circle cx="279.6" cy="523.3" r="8.7"/><circle cx="239.2" cy="505.6" r="8.7"/><circle cx="202.8" cy="481.8" r="8.7"/><circle cx="368.4" cy="369.1" r="8.7"/><circle cx="483.4" cy="304.2" r="8.7"/>
<circle cx="310" cy="404.2" r="8.7"/><circle cx="362.7" cy="372.5" r="8.7"/><circle cx="388.3" cy="345.8" r="8.7"/><circle cx="412.5" cy="485.4" r="8.7"/><circle cx="217.7" cy="505.7" r="8.7"/><circle cx="350.3" cy="486.5" r="8.7"/>
<circle cx="407.9" cy="360.7" r="8.7"/><circle cx="336.6" cy="576.7" r="8.7"/><circle cx="398.1" cy="390.1" r="8.7"/><circle cx="325" cy="510.6" r="8.7"/><circle cx="510.7" cy="301.1" r="8.7"/><circle cx="332.8" cy="420.7" r="8.7"/>
<circle cx="411.4" cy="428" r="8.7"/><circle cx="277.9" cy="430.6" r="8.7"/><circle cx="414.5" cy="357.3" r="8.7"/><circle cx="375.3" cy="415.8" r="8.7"/><circle cx="410.4" cy="440.4" r="8.7"/><circle cx="375.5" cy="364.8" r="8.7"/>
<circle cx="237.8" cy="431.1" r="8.7"/><circle cx="446.2" cy="377.8" r="8.7"/><circle cx="366" cy="425.9" r="8.7"/><circle cx="361.4" cy="492" r="8.7"/><circle cx="390.2" cy="345.4" r="8.7"/><circle cx="463.1" cy="264.5" r="8.7"/>
<circle cx="341.8" cy="448.9" r="8.7"/><circle cx="188.8" cy="495.4" r="8.7"/><circle cx="241.2" cy="442.2" r="8.7"/><circle cx="343.2" cy="353.6" r="8.7"/><circle cx="418" cy="282.2" r="8.7"/><circle cx="398.5" cy="445.2" r="8.7"/>
<circle cx="436" cy="514.8" r="8.7"/><circle cx="308.1" cy="342.7" r="8.7"/><circle cx="392.9" cy="396.6" r="8.7"/><circle cx="314.9" cy="459.8" r="8.7"/><circle cx="324.1" cy="524.1" r="8.7"/><circle cx="323.4" cy="412.9" r="8.7"/>
<circle cx="374.2" cy="465.8" r="8.7"/><circle cx="363.2" cy="582.6" r="8.7"/><circle cx="288.8" cy="414" r="8.7"/><circle cx="340.6" cy="417.9" r="8.7"/><circle cx="445.5" cy="506.7" r="8.7"/><circle cx="439.8" cy="426.3" r="8.7"/>
<circle cx="376.4" cy="477.3" r="8.7"/><circle cx="416.4" cy="497.9" r="8.7"/><circle cx="355.6" cy="430.5" r="8.7"/><circle cx="392.3" cy="394.1" r="8.7"/><circle cx="419.4" cy="371.7" r="8.7"/><circle cx="369.2" cy="402.1" r="8.7"/>
<circle cx="432.1" cy="340.8" r="8.7"/><circle cx="330.9" cy="543.5" r="8.7"/><circle cx="254.9" cy="500.3" r="8.7"/><circle cx="392.7" cy="343.4" r="8.7"/><circle cx="434.1" cy="337.9" r="8.7"/><circle cx="411.3" cy="499.4" r="8.7"/>
<circle cx="343.2" cy="358.2" r="8.7"/><circle cx="399.7" cy="464.7" r="8.7"/><circle cx="354.1" cy="487" r="8.7"/><circle cx="302.1" cy="529.4" r="8.7"/><circle cx="377.7" cy="462.5" r="8.7"/><circle cx="393.2" cy="338.8" r="8.7"/>
<circle cx="319.9" cy="344.7" r="8.7"/><circle cx="311.9" cy="365.9" r="8.7"/><circle cx="305.1" cy="499.3" r="8.7"/><circle cx="372.2" cy="469.6" r="8.7"/><circle cx="382" cy="377.3" r="8.7"/><circle cx="420.4" cy="355.6" r="8.7"/>
<circle cx="453.1" cy="304.2" r="8.7"/><circle cx="464.4" cy="432.1" r="8.7"/><circle cx="393.8" cy="395.9" r="8.7"/><circle cx="473.4" cy="242.2" r="8.7"/><circle cx="398.8" cy="441.3" r="8.7"/><circle cx="384.8" cy="418.3" r="8.7"/>
<circle cx="227.2" cy="456.4" r="8.7"/><circle cx="386.3" cy="418.6" r="8.7"/><circle cx="507.8" cy="234.8" r="8.7"/><circle cx="511.8" cy="366.3" r="8.7"/><circle cx="451.7" cy="343.2" r="8.7"/><circle cx="294" cy="478.3" r="8.7"/>
<circle cx="241.6" cy="409.7" r="8.7"/><circle cx="345.3" cy="456.9" r="8.7"/><circle cx="343.3" cy="405.5" r="8.7"/><circle cx="226.5" cy="521.8" r="8.7"/><circle cx="408.1" cy="331.4" r="8.7"/><circle cx="430.8" cy="319.9" r="8.7"/>
<circle cx="295" cy="476.1" r="8.7"/><circle cx="439.1" cy="384.9" r="8.7"/><circle cx="293.4" cy="418.4" r="8.7"/><circle cx="295.9" cy="490.6" r="8.7"/><circle cx="307.7" cy="484.3" r="8.7"/><circle cx="397.2" cy="450.9" r="8.7"/>
<circle cx="355.5" cy="376.1" r="8.7"/><circle cx="445.4" cy="344.6" r="8.7"/><circle cx="493" cy="326.2" r="8.7"/><circle cx="422.6" cy="456.2" r="8.7"/><circle cx="318.9" cy="438" r="8.7"/><circle cx="424.8" cy="287.9" r="8.7"/>
<circle cx="312.9" cy="462.4" r="8.7"/><circle cx="362.7" cy="479.2" r="8.7"/><circle cx="327" cy="374.3" r="8.7"/><circle cx="466.1" cy="296.1" r="8.7"/><circle cx="324" cy="348.3" r="8.7"/><circle cx="528.8" cy="255.1" r="8.7"/>
<circle cx="446.6" cy="214.3" r="8.7"/><circle cx="400.9" cy="435" r="8.7"/><circle cx="340.5" cy="477.3" r="8.7"/><circle cx="380.7" cy="405.3" r="8.7"/><circle cx="187.6" cy="501" r="8.7"/><circle cx="222.4" cy="425.9" r="8.7"/>
<circle cx="425.1" cy="428.9" r="8.7"/><circle cx="360" cy="436.6" r="8.7"/><circle cx="384.9" cy="332.6" r="8.7"/><circle cx="494.8" cy="235.1" r="8.7"/><circle cx="263.4" cy="437.2" r="8.7"/><circle cx="384.4" cy="292.6" r="8.7"/>
<circle cx="418.1" cy="248.6" r="8.7"/><circle cx="238.8" cy="516.4" r="8.7"/><circle cx="276.1" cy="456" r="8.7"/><circle cx="364.1" cy="366.4" r="8.7"/><circle cx="457.7" cy="444.2" r="8.7"/><circle cx="199.1" cy="476.5" r="8.7"/>
<circle cx="428.1" cy="363.8" r="8.7"/><circle cx="482.3" cy="326.9" r="8.7"/><circle cx="354.7" cy="469" r="8.7"/><circle cx="421.4" cy="364.9" r="8.7"/><circle cx="286.9" cy="471.5" r="8.7"/><circle cx="444.7" cy="439.4" r="8.7"/>
<circle cx="195.8" cy="409.3" r="8.7"/><circle cx="375.4" cy="377.2" r="8.7"/><circle cx="416.8" cy="257.5" r="8.7"/><circle cx="264.4" cy="541.2" r="8.7"/><circle cx="439.6" cy="304" r="8.7"/><circle cx="457.4" cy="299" r="8.7"/>
<circle cx="325.8" cy="441.9" r="8.7"/><circle cx="314.5" cy="416.5" r="8.7"/><circle cx="301" cy="381.4" r="8.7"/><circle cx="250.7" cy="456.9" r="8.7"/><circle cx="179.6" cy="500" r="8.7"/><circle cx="384.6" cy="452.2" r="8.7"/>
<circle cx="394.6" cy="333" r="8.7"/><circle cx="376.1" cy="310.9" r="8.7"/><circle cx="373.1" cy="456.9" r="8.7"/><circle cx="191.2" cy="476.1" r="8.7"/><circle cx="434.8" cy="295.6" r="8.7"/><circle cx="328.1" cy="415.1" r="8.7"/>
<circle cx="319.1" cy="453.6" r="8.7"/><circle cx="307.7" cy="353.1" r="8.7"/><circle cx="509.6" cy="410.4" r="8.7"/><circle cx="310.4" cy="415.4" r="8.7"/><circle cx="351.2" cy="367.7" r="8.7"/><circle cx="384.1" cy="360.2" r="8.7"/>
<circle cx="343.3" cy="408.6" r="8.7"/><circle cx="402.8" cy="347.9" r="8.7"/><circle cx="327.8" cy="462.5" r="8.7"/><circle cx="560.3" cy="218.7" r="8.7"/><circle cx="343.9" cy="382.3" r="8.7"/><circle cx="452.3" cy="340.6" r="8.7"/>
<circle cx="320.2" cy="459.9" r="8.7"/><circle cx="239.7" cy="459.7" r="8.7"/><circle cx="540.4" cy="344.3" r="8.7"/><circle cx="303.4" cy="492.4" r="8.7"/><circle cx="404.1" cy="329.5" r="8.7"/><circle cx="568.8" cy="291.2" r="8.7"/>
<circle cx="455" cy="351.1" r="8.7"/><circle cx="384.6" cy="398.9" r="8.7"/><circle cx="384.6" cy="391.8" r="8.7"/><circle cx="333.5" cy="473.7" r="8.7"/><circle cx="312.1" cy="476.8" r="8.7"/><circle cx="389.2" cy="303.3" r="8.7"/>
<circle cx="315.1" cy="500.9" r="8.7"/><circle cx="335.6" cy="416.3" r="8.7"/><circle cx="250" cy="415.5" r="8.7"/><circle cx="282.6" cy="352.9" r="8.7"/><circle cx="344.6" cy="331.6" r="8.7"/><circle cx="340" cy="421.2" r="8.7"/>
<circle cx="395" cy="386.3" r="8.7"/><circle cx="229.8" cy="499" r="8.7"/><circle cx="512.1" cy="335.8" r="8.7"/><circle cx="339.4" cy="456.1" r="8.7"/><circle cx="412.1" cy="389.9" r="8.7"/><circle cx="227.6" cy="428.9" r="8.7"/>
<circle cx="296.8" cy="392.9" r="8.7"/><circle cx="344.8" cy="507.4" r="8.7"/><circle cx="362.7" cy="338.9" r="8.7"/><circle cx="554" cy="285.7" r="8.7"/><circle cx="182.3" cy="507.5" r="8.7"/><circle cx="270.4" cy="374.1" r="8.7"/>
<circle cx="333.5" cy="458.8" r="8.7"/><circle cx="183.9" cy="496.9" r="8.7"/><circle cx="422.6" cy="321.8" r="8.7"/><circle cx="348.2" cy="465.4" r="8.7"/><circle cx="380.9" cy="331.1" r="8.7"/><circle cx="533.2" cy="200.6" r="8.7"/>
<circle cx="354.5" cy="355.9" r="8.7"/><circle cx="346.5" cy="470.4" r="8.7"/><circle cx="554.9" cy="328.5" r="8.7"/><circle cx="397.1" cy="286.3" r="8.7"/><circle cx="442.6" cy="464.2" r="8.7"/><circle cx="383.7" cy="368.9" r="8.7"/>
<circle cx="354" cy="570.9" r="8.7"/><circle cx="374.6" cy="410.6" r="8.7"/><circle cx="558.1" cy="300.3" r="8.7"/><circle cx="477" cy="350.5" r="8.7"/><circle cx="491.3" cy="430.2" r="8.7"/><circle cx="317.6" cy="437.7" r="8.7"/>
<circle cx="391.1" cy="389.1" r="8.7"/><circle cx="363.5" cy="443" r="8.7"/><circle cx="341.1" cy="305.8" r="8.7"/><circle cx="391.9" cy="434.1" r="8.7"/><circle cx="361.2" cy="416" r="8.7"/><circle cx="348.8" cy="411.5" r="8.7"/>
<circle cx="372.8" cy="325.8" r="8.7"/><circle cx="439.8" cy="253.9" r="8.7"/><circle cx="426.8" cy="373.7" r="8.7"/><circle cx="387.7" cy="381.7" r="8.7"/><circle cx="491.6" cy="361" r="8.7"/><circle cx="311.1" cy="416.4" r="8.7"/>
<circle cx="350.9" cy="350" r="8.7"/><circle cx="343.5" cy="329.9" r="8.7"/><circle cx="484.8" cy="298.3" r="8.7"/><circle cx="334" cy="461.5" r="8.7"/><circle cx="440.9" cy="382" r="8.7"/><circle cx="272.9" cy="547" r="8.7"/>
<circle cx="350.1" cy="406" r="8.7"/><circle cx="262.8" cy="430.1" r="8.7"/><circle cx="370.3" cy="380.6" r="8.7"/><circle cx="304.7" cy="376.8" r="8.7"/><circle cx="257.7" cy="568.4" r="8.7"/><circle cx="457.4" cy="400.3" r="8.7"/>
<circle cx="318.1" cy="407.5" r="8.7"/><circle cx="374.7" cy="408" r="8.7"/><circle cx="433.9" cy="242.1" r="8.7"/><circle cx="382.5" cy="278.5" r="8.7"/><circle cx="387.8" cy="510.3" r="8.7"/><circle cx="418.1" cy="295.1" r="8.7"/>
<circle cx="469.1" cy="339.2" r="8.7"/><circle cx="345.3" cy="545.5" r="8.7"/><circle cx="374.6" cy="462" r="8.7"/><circle cx="346.4" cy="506.2" r="8.7"/><circle cx="349.5" cy="346.7" r="8.7"/><circle cx="227.9" cy="531.8" r="8.7"/>
<circle cx="282.7" cy="365.9" r="8.7"/><circle cx="412" cy="390" r="8.7"/><circle cx="454.1" cy="448.7" r="8.7"/><circle cx="457.6" cy="442.5" r="8.7"/><circle cx="289.4" cy="421.4" r="8.7"/><circle cx="322" cy="547.3" r="8.7"/>
<circle cx="276.7" cy="434.1" r="8.7"/><circle cx="398.7" cy="390.9" r="8.7"/><circle cx="306.6" cy="410.5" r="8.7"/><circle cx="491.7" cy="298.5" r="8.7"/><circle cx="329.3" cy="389.9" r="8.7"/><circle cx="430.5" cy="377.8" r="8.7"/>
<circle cx="410.2" cy="319.3" r="8.7"/><circle cx="414.9" cy="363.3" r="8.7"/><circle cx="317" cy="547.1" r="8.7"/><circle cx="258.7" cy="376.1" r="8.7"/><circle cx="367.2" cy="344.9" r="8.7"/><circle cx="461.9" cy="436.7" r="8.7"/>
<circle cx="365.8" cy="434.9" r="8.7"/><circle cx="373.3" cy="496.8" r="8.7"/><circle cx="312.1" cy="518.9" r="8.7"/><circle cx="395.7" cy="401.3" r="8.7"/><circle cx="342.8" cy="398.9" r="8.7"/><circle cx="340.9" cy="432.6" r="8.7"/>
<circle cx="254.4" cy="536.4" r="8.7"/><circle cx="260.7" cy="436.5" r="8.7"/><circle cx="274.1" cy="426.4" r="8.7"/><circle cx="335.9" cy="469.9" r="8.7"/><circle cx="399" cy="432.6" r="8.7"/><circle cx="251.6" cy="481.8" r="8.7"/>
<circle cx="171.3" cy="447.6" r="8.7"/><circle cx="356.9" cy="382.3" r="8.7"/><circle cx="370.8" cy="317" r="8.7"/><circle cx="389" cy="558" r="8.7"/><circle cx="379.7" cy="456.6" r="8.7"/><circle cx="317.6" cy="533" r="8.7"/>
<circle cx="477.9" cy="403.9" r="8.7"/><circle cx="444.5" cy="327.5" r="8.7"/><circle cx="386.7" cy="371.8" r="8.7"/><circle cx="545.4" cy="297.9" r="8.7"/><circle cx="283.1" cy="463.1" r="8.7"/><circle cx="306.9" cy="421.7" r="8.7"/>
<circle cx="394.3" cy="537.8" r="8.7"/><circle cx="263.8" cy="433.9" r="8.7"/><circle cx="378.2" cy="335.6" r="8.7"/><circle cx="204.7" cy="488.4" r="8.7"/><circle cx="308.2" cy="377.1" r="8.7"/><circle cx="303.2" cy="449.7" r="8.7"/>
<circle cx="311.2" cy="416.6" r="8.7"/><circle cx="393" cy="344.3" r="8.7"/><circle cx="260.2" cy="507.4" r="8.7"/><circle cx="313.1" cy="551.9" r="8.7"/><circle cx="433.2" cy="418.5" r="8.7"/><circle cx="429.3" cy="369.6" r="8.7"/>
<circle cx="485.4" cy="322.8" r="8.7"/><circle cx="439.9" cy="301.9" r="8.7"/><circle cx="253.1" cy="417.1" r="8.7"/><circle cx="351.3" cy="393.6" r="8.7"/><circle cx="385.8" cy="508.7" r="8.7"/><circle cx="308.1" cy="517.5" r="8.7"/>
<circle cx="242.8" cy="485.4" r="8.7"/><circle cx="429.7" cy="399.3" r="8.7"/><circle cx="393" cy="399.4" r="8.7"/><circle cx="356.9" cy="540.8" r="8.7"/><circle cx="532.1" cy="351.3" r="8.7"/><circle cx="430.9" cy="441.7" r="8.7"/>
<circle cx="342.1" cy="478.4" r="8.7"/><circle cx="225.1" cy="436.8" r="8.7"/><circle cx="277.1" cy="496" r="8.7"/><circle cx="335.2" cy="406.3" r="8.7"/><circle cx="518.1" cy="304.6" r="8.7"/><circle cx="264.1" cy="528" r="8.7"/>
<circle cx="418" cy="449.7" r="8.7"/><circle cx="370.3" cy="419.2" r="8.7"/><circle cx="456.4" cy="392.1" r="8.7"/><circle cx="319.3" cy="516.9" r="8.7"/><circle cx="279.7" cy="508" r="8.7"/><circle cx="340" cy="515.4" r="8.7"/>
<circle cx="259.3" cy="460.3" r="8.7"/><circle cx="393.4" cy="332.9" r="8.7"/><circle cx="350.1" cy="380.3" r="8.7"/><circle cx="290.2" cy="527.6" r="8.7"/><circle cx="373.9" cy="426.4" r="8.7"/><circle cx="419.4" cy="399.6" r="8.7"/>
<circle cx="355" cy="474.7" r="8.7"/><circle cx="486.8" cy="413.5" r="8.7"/><circle cx="448" cy="396.1" r="8.7"/><circle cx="327.6" cy="401.7" r="8.7"/><circle cx="255.8" cy="471.6" r="8.7"/><circle cx="352.7" cy="422.3" r="8.7"/>
<circle cx="381.7" cy="382.4" r="8.7"/><circle cx="268.5" cy="492" r="8.7"/><circle cx="348.5" cy="369.9" r="8.7"/><circle cx="336.2" cy="395.4" r="8.7"/><circle cx="222.4" cy="465.2" r="8.7"/><circle cx="520.9" cy="335.4" r="8.7"/>
<circle cx="458.7" cy="284.8" r="8.7"/><circle cx="299.9" cy="559.1" r="8.7"/><circle cx="547.2" cy="265.7" r="8.7"/><circle cx="510.5" cy="268.3" r="8.7"/><circle cx="403.8" cy="261.6" r="8.7"/><circle cx="495.2" cy="246.1" r="8.7"/>
<circle cx="355.9" cy="362" r="8.7"/><circle cx="475.3" cy="250.2" r="8.7"/><circle cx="455.6" cy="314.5" r="8.7"/><circle cx="432.9" cy="356.5" r="8.7"/><circle cx="408.2" cy="279.2" r="8.7"/><circle cx="505" cy="279.6" r="8.7"/>
<circle cx="462.2" cy="351.7" r="8.7"/><circle cx="430.6" cy="253.8" r="8.7"/><circle cx="465.6" cy="280.7" r="8.7"/><circle cx="437.7" cy="319" r="8.7"/><circle cx="440.1" cy="255.7" r="8.7"/><circle cx="391.4" cy="309.7" r="8.7"/>
<circle cx="526.6" cy="274.9" r="8.7"/><circle cx="498.5" cy="288" r="8.7"/><circle cx="469.1" cy="315.5" r="8.7"/><circle cx="519.2" cy="226.3" r="8.7"/><circle cx="368.4" cy="323.1" r="8.7"/><circle cx="495.4" cy="255.1" r="8.7"/>
<circle cx="389.3" cy="366.7" r="8.7"/><circle cx="460.2" cy="267.3" r="8.7"/><circle cx="500.3" cy="236.4" r="8.7"/><circle cx="478.3" cy="249.8" r="8.7"/><circle cx="407.4" cy="337.3" r="8.7"/><circle cx="497" cy="294.8" r="8.7"/>
<circle cx="472.5" cy="240.4" r="8.7"/><circle cx="484.2" cy="340.4" r="8.7"/><circle cx="522.5" cy="295.6" r="8.7"/><circle cx="392" cy="290.2" r="8.7"/><circle cx="496.2" cy="263.3" r="8.7"/><circle cx="556.7" cy="283.5" r="8.7"/>
<circle cx="437.7" cy="365.9" r="8.7"/><circle cx="509" cy="271.9" r="8.7"/><circle cx="483.7" cy="185.5" r="8.7"/><circle cx="467.8" cy="310.4" r="8.7"/><circle cx="507" cy="201.8" r="8.7"/><circle cx="463.5" cy="259.1" r="8.7"/>
<circle cx="445.4" cy="297.1" r="8.7"/><circle cx="498.7" cy="278.9" r="8.7"/><circle cx="500.1" cy="378.1" r="8.7"/><circle cx="434.4" cy="374.2" r="8.7"/><circle cx="554.1" cy="236.7" r="8.7"/><circle cx="522.3" cy="249.5" r="8.7"/>
<circle cx="470.3" cy="245.4" r="8.7"/><circle cx="448.1" cy="361.2" r="8.7"/><circle cx="541.4" cy="343.8" r="8.7"/><circle cx="436.3" cy="361.3" r="8.7"/><circle cx="430.4" cy="277.8" r="8.7"/><circle cx="510.3" cy="242.5" r="8.7"/>
<circle cx="473" cy="261" r="8.7"/><circle cx="523.6" cy="238.9" r="8.7"/><circle cx="444.6" cy="283.2" r="8.7"/><circle cx="434.8" cy="240.4" r="8.7"/><circle cx="462.1" cy="290" r="8.7"/><circle cx="516.1" cy="244.7" r="8.7"/>
<circle cx="498.8" cy="281.5" r="8.7"/><circle cx="469.9" cy="352.1" r="8.7"/><circle cx="388" cy="305.9" r="8.7"/><circle cx="395.6" cy="331.2" r="8.7"/><circle cx="483.7" cy="290.1" r="8.7"/><circle cx="429.2" cy="271.8" r="8.7"/>
<circle cx="511.4" cy="217.8" r="8.7"/><circle cx="560.5" cy="222.2" r="8.7"/><circle cx="489.3" cy="209.9" r="8.7"/><circle cx="472" cy="266.3" r="8.7"/><circle cx="515.2" cy="306.4" r="8.7"/><circle cx="507.6" cy="307.1" r="8.7"/>
<circle cx="416" cy="291.5" r="8.7"/><circle cx="366.3" cy="298.6" r="8.7"/><circle cx="505.8" cy="318.8" r="8.7"/><circle cx="501" cy="295.5" r="8.7"/><circle cx="451.5" cy="284.4" r="8.7"/><circle cx="359.5" cy="361.1" r="8.7"/>
<circle cx="515.2" cy="265.3" r="8.7"/><circle cx="476.1" cy="288.8" r="8.7"/><circle cx="574.2" cy="286.2" r="8.7"/><circle cx="541.2" cy="347.6" r="8.7"/><circle cx="475.3" cy="228.7" r="8.7"/><circle cx="517" cy="269.5" r="8.7"/>
<circle cx="459.8" cy="322.3" r="8.7"/><circle cx="470.3" cy="312.4" r="8.7"/><circle cx="559.1" cy="265.4" r="8.7"/><circle cx="553.3" cy="302.5" r="8.7"/><circle cx="366.6" cy="330" r="8.7"/><circle cx="534.8" cy="281.6" r="8.7"/>
<circle cx="542.2" cy="230.9" r="8.7"/><circle cx="536.5" cy="248.7" r="8.7"/><circle cx="453.7" cy="372.7" r="8.7"/><circle cx="501" cy="314.5" r="8.7"/><circle cx="361.9" cy="297.3" r="8.7"/><circle cx="449.4" cy="386.9" r="8.7"/>
<circle cx="490.8" cy="283.4" r="8.7"/><circle cx="532.1" cy="275.2" r="8.7"/><circle cx="444.4" cy="331.2" r="8.7"/><circle cx="481.3" cy="314.9" r="8.7"/><circle cx="300.9" cy="401" r="8.7"/><circle cx="497.8" cy="219.2" r="8.7"/>
<circle cx="520.1" cy="289.8" r="8.7"/><circle cx="377.9" cy="316.8" r="8.7"/><circle cx="499" cy="180.4" r="8.7"/><circle cx="536.6" cy="273.6" r="8.7"/><circle cx="530.3" cy="308.1" r="8.7"/><circle cx="512.8" cy="353.6" r="8.7"/>
<circle cx="485.8" cy="228.5" r="8.7"/><circle cx="406.2" cy="351.5" r="8.7"/><circle cx="523.4" cy="264.4" r="8.7"/><circle cx="408.1" cy="292.5" r="8.7"/><circle cx="458" cy="284.4" r="8.7"/><circle cx="503.6" cy="295" r="8.7"/>
<circle cx="443" cy="364.4" r="8.7"/><circle cx="565.4" cy="248.8" r="8.7"/><circle cx="460" cy="374" r="8.7"/><circle cx="570.7" cy="311.9" r="8.7"/><circle cx="477.6" cy="247.8" r="8.7"/><circle cx="461.6" cy="250.1" r="8.7"/>
<circle cx="495.6" cy="190.5" r="8.7"/><circle cx="458.3" cy="318.1" r="8.7"/><circle cx="442" cy="289.5" r="8.7"/><circle cx="482.4" cy="259.4" r="8.7"/><circle cx="496.1" cy="197.2" r="8.7"/><circle cx="455.4" cy="377.6" r="8.7"/>
<circle cx="470.8" cy="236.8" r="8.7"/><circle cx="484" cy="358.8" r="8.7"/><circle cx="503.4" cy="244.6" r="8.7"/><circle cx="528.1" cy="200.5" r="8.7"/><circle cx="356.7" cy="315.2" r="8.7"/><circle cx="420.9" cy="373.9" r="8.7"/>
<circle cx="415.1" cy="253.1" r="8.7"/><circle cx="482.3" cy="414.1" r="8.7"/><circle cx="457.5" cy="341.7" r="8.7"/><circle cx="446.1" cy="294.3" r="8.7"/><circle cx="442.4" cy="406.1" r="8.7"/><circle cx="568.4" cy="234.3" r="8.7"/>
<circle cx="478" cy="250.7" r="8.7"/><circle cx="524" cy="213.8" r="8.7"/><circle cx="490.2" cy="298.4" r="8.7"/><circle cx="372.9" cy="370.1" r="8.7"/><circle cx="454.4" cy="266.8" r="8.7"/><circle cx="522.6" cy="222.1" r="8.7"/>
<circle cx="458.9" cy="264.6" r="8.7"/><circle cx="447.1" cy="295" r="8.7"/><circle cx="499.8" cy="211.9" r="8.7"/><circle cx="538.7" cy="301.3" r="8.7"/><circle cx="492.7" cy="255.6" r="8.7"/><circle cx="426" cy="271.9" r="8.7"/>
<circle cx="465.7" cy="342.6" r="8.7"/><circle cx="487.9" cy="257.8" r="8.7"/><circle cx="470.2" cy="368.5" r="8.7"/><circle cx="535.1" cy="339.8" r="8.7"/><circle cx="466.7" cy="241.7" r="8.7"/><circle cx="522.6" cy="336" r="8.7"/>
<circle cx="529.1" cy="262.7" r="8.7"/><circle cx="538.7" cy="237" r="8.7"/><circle cx="516.7" cy="207.6" r="8.7"/><circle cx="505.8" cy="221.9" r="8.7"/><circle cx="392.2" cy="306.8" r="8.7"/><circle cx="493.4" cy="292.5" r="8.7"/>
<circle cx="456.2" cy="318.4" r="8.7"/><circle cx="393.3" cy="286.2" r="8.7"/><circle cx="466.2" cy="327.5" r="8.7"/><circle cx="429.2" cy="330.2" r="8.7"/><circle cx="507.7" cy="306.1" r="8.7"/><circle cx="421.6" cy="294.1" r="8.7"/>
<circle cx="514.2" cy="237.4" r="8.7"/><circle cx="495.6" cy="249.3" r="8.7"/><circle cx="518.5" cy="289.7" r="8.7"/><circle cx="451.9" cy="221.7" r="8.7"/><circle cx="453.2" cy="306.6" r="8.7"/><circle cx="468" cy="282.4" r="8.7"/>
<circle cx="482" cy="361.5" r="8.7"/><circle cx="515.9" cy="256.3" r="8.7"/><circle cx="452.7" cy="329.9" r="8.7"/><circle cx="583.5" cy="285" r="8.7"/><circle cx="420.4" cy="384" r="8.7"/><circle cx="531.6" cy="305.6" r="8.7"/>
<circle cx="450.3" cy="382.2" r="8.7"/><circle cx="519.1" cy="240.8" r="8.7"/><circle cx="506.9" cy="331.1" r="8.7"/><circle cx="552.4" cy="235" r="8.7"/><circle cx="442.4" cy="303.9" r="8.7"/><circle cx="567.4" cy="284" r="8.7"/>
<circle cx="382.2" cy="420" r="8.7"/><circle cx="485" cy="308.7" r="8.7"/><circle cx="487.7" cy="340.6" r="8.7"/><circle cx="494.1" cy="363.6" r="8.7"/><circle cx="506.6" cy="324.5" r="8.7"/><circle cx="556.6" cy="292.4" r="8.7"/>
<circle cx="510.9" cy="216.9" r="8.7"/><circle cx="500.3" cy="204.5" r="8.7"/><circle cx="455.3" cy="287.9" r="8.7"/><circle cx="434.2" cy="298.8" r="8.7"/><circle cx="537.6" cy="302.9" r="8.7"/><circle cx="501.2" cy="230.7" r="8.7"/>
<circle cx="479.5" cy="366.8" r="8.7"/><circle cx="479.4" cy="240.1" r="8.7"/><circle cx="486.7" cy="263.3" r="8.7"/><circle cx="430.1" cy="244.4" r="8.7"/><circle cx="428.7" cy="342" r="8.7"/><circle cx="402.1" cy="284.9" r="8.7"/>
<circle cx="374.9" cy="298.7" r="8.7"/><circle cx="455.5" cy="321.5" r="8.7"/><circle cx="501.9" cy="342.3" r="8.7"/><circle cx="489.9" cy="200.7" r="8.7"/><circle cx="532" cy="256.2" r="8.7"/><circle cx="529" cy="246.7" r="8.7"/>
<circle cx="537.2" cy="273.3" r="8.7"/><circle cx="495.7" cy="224.6" r="8.7"/><circle cx="429.4" cy="304.9" r="8.7"/><circle cx="422.1" cy="349.9" r="8.7"/><circle cx="429.7" cy="353.5" r="8.7"/><circle cx="490.2" cy="312.1" r="8.7"/>
<circle cx="407" cy="336.3" r="8.7"/><circle cx="501.5" cy="275.8" r="8.7"/><circle cx="541.1" cy="262.8" r="8.7"/><circle cx="520.5" cy="185.6" r="8.7"/><circle cx="415.1" cy="259.4" r="8.7"/><circle cx="544.1" cy="286.4" r="8.7"/>
<circle cx="447.5" cy="363.7" r="8.7"/><circle cx="467.5" cy="273.8" r="8.7"/><circle cx="332.4" cy="395.1" r="8.7"/><circle cx="444.1" cy="226.8" r="8.7"/><circle cx="403.9" cy="331.7" r="8.7"/><circle cx="401.9" cy="518.3" r="8.7"/>
<circle cx="305.6" cy="469.9" r="8.7"/><circle cx="339.1" cy="458.9" r="8.7"/><circle cx="373.3" cy="485.5" r="8.7"/><circle cx="360.7" cy="523.8" r="8.7"/><circle cx="301.6" cy="569.7" r="8.7"/><circle cx="324.7" cy="545.5" r="8.7"/>
<circle cx="192.5" cy="544.1" r="8.7"/><circle cx="315.5" cy="566.1" r="8.7"/><circle cx="336.7" cy="542.2" r="8.7"/><circle cx="298.6" cy="555" r="8.7"/><circle cx="263.5" cy="489.7" r="8.7"/><circle cx="240" cy="563.9" r="8.7"/>
<circle cx="186.8" cy="517.7" r="8.7"/><circle cx="301.4" cy="520.8" r="8.7"/><circle cx="356.9" cy="539.2" r="8.7"/><circle cx="198.2" cy="559.3" r="8.7"/><circle cx="344.5" cy="565.4" r="8.7"/><circle cx="421.7" cy="504.3" r="8.7"/>
<circle cx="223.5" cy="538.5" r="8.7"/><circle cx="286.3" cy="529.8" r="8.7"/><circle cx="174" cy="514.2" r="8.7"/><circle cx="287.6" cy="505.1" r="8.7"/><circle cx="314.9" cy="541.1" r="8.7"/><circle cx="393.3" cy="491.3" r="8.7"/>
<circle cx="309.4" cy="527.3" r="8.7"/><circle cx="291.6" cy="517.4" r="8.7"/><circle cx="269.9" cy="571.6" r="8.7"/><circle cx="286.7" cy="510.7" r="8.7"/><circle cx="422.4" cy="485.5" r="8.7"/><circle cx="239" cy="532.4" r="8.7"/>
<circle cx="392.6" cy="537.2" r="8.7"/><circle cx="261.7" cy="514.6" r="8.7"/><circle cx="239.6" cy="501.7" r="8.7"/><circle cx="306.5" cy="543.7" r="8.7"/><circle cx="408" cy="490.5" r="8.7"/><circle cx="227.3" cy="536.2" r="8.7"/>
<circle cx="235.5" cy="547.7" r="8.7"/><circle cx="250.9" cy="585" r="8.7"/><circle cx="262.3" cy="556" r="8.7"/><circle cx="370.5" cy="501.2" r="8.7"/><circle cx="256.5" cy="546.3" r="8.7"/><circle cx="414" cy="497.1" r="8.7"/>
<circle cx="232.6" cy="555" r="8.7"/><circle cx="366.6" cy="539.2" r="8.7"/><circle cx="358.4" cy="580.1" r="8.7"/><circle cx="419.1" cy="517.6" r="8.7"/><circle cx="305.5" cy="573.2" r="8.7"/><circle cx="339.6" cy="514.5" r="8.7"/>
<circle cx="361.6" cy="573.7" r="8.7"/><circle cx="338" cy="500.8" r="8.7"/><circle cx="194.8" cy="575.3" r="8.7"/><circle cx="244.3" cy="531.1" r="8.7"/><circle cx="248.4" cy="546.6" r="8.7"/><circle cx="304.7" cy="571.6" r="8.7"/>
<circle cx="253.6" cy="537.2" r="8.7"/><circle cx="286.3" cy="557.5" r="8.7"/><circle cx="425" cy="544.2" r="8.7"/><circle cx="292.2" cy="536.7" r="8.7"/><circle cx="335.1" cy="492.6" r="8.7"/><circle cx="259.9" cy="606.8" r="8.7"/>
<circle cx="350.7" cy="559.4" r="8.7"/><circle cx="311.3" cy="510.5" r="8.7"/><circle cx="179.9" cy="592.9" r="8.7"/><circle cx="184.5" cy="540.7" r="8.7"/><circle cx="184.9" cy="530.5" r="8.7"/><circle cx="193.1" cy="559.3" r="8.7"/>
<circle cx="418.9" cy="542.8" r="8.7"/><circle cx="322" cy="542.8" r="8.7"/><circle cx="431.7" cy="517.6" r="8.7"/><circle cx="375.4" cy="514.2" r="8.7"/><circle cx="309.8" cy="446.5" r="8.7"/><circle cx="295.5" cy="560.8" r="8.7"/>
<circle cx="380" cy="465.9" r="8.7"/><circle cx="293.1" cy="568" r="8.7"/><circle cx="413.8" cy="524.8" r="8.7"/><circle cx="270.2" cy="560.2" r="8.7"/><circle cx="384.1" cy="517.8" r="8.7"/><circle cx="349.3" cy="470.3" r="8.7"/>
<circle cx="200.3" cy="541.9" r="8.7"/><circle cx="315.9" cy="491.9" r="8.7"/><circle cx="209.8" cy="557.3" r="8.7"/><circle cx="235.3" cy="538.1" r="8.7"/><circle cx="292.9" cy="561.7" r="8.7"/><circle cx="244.2" cy="525.6" r="8.7"/>
<circle cx="321.4" cy="525.8" r="8.7"/><circle cx="344.8" cy="559.8" r="8.7"/><circle cx="288.5" cy="550.8" r="8.7"/><circle cx="341.6" cy="565.8" r="8.7"/><circle cx="284.6" cy="588.8" r="8.7"/><circle cx="342.5" cy="546.7" r="8.7"/>
<circle cx="281.5" cy="501.3" r="8.7"/><circle cx="374.9" cy="542.4" r="8.7"/><circle cx="296.1" cy="495.2" r="8.7"/><circle cx="375.2" cy="526.4" r="8.7"/><circle cx="392.3" cy="522.9" r="8.7"/><circle cx="377.8" cy="559.1" r="8.7"/>
<circle cx="222.4" cy="561.3" r="8.7"/><circle cx="393.4" cy="509.3" r="8.7"/><circle cx="361.2" cy="522.9" r="8.7"/><circle cx="280.5" cy="463.7" r="8.7"/><circle cx="295.9" cy="551.8" r="8.7"/><circle cx="239" cy="562.7" r="8.7"/>
<circle cx="259.9" cy="539.3" r="8.7"/><circle cx="225.6" cy="490.8" r="8.7"/><circle cx="360.5" cy="541.2" r="8.7"/><circle cx="249.8" cy="499.6" r="8.7"/><circle cx="240.1" cy="469.5" r="8.7"/><circle cx="340.6" cy="428.5" r="8.7"/>
<circle cx="389.4" cy="497.1" r="8.7"/><circle cx="207.5" cy="513.2" r="8.7"/><circle cx="380.4" cy="549.1" r="8.7"/><circle cx="271.7" cy="541.6" r="8.7"/><circle cx="292" cy="516.1" r="8.7"/><circle cx="246.7" cy="554.6" r="8.7"/>
<circle cx="313.6" cy="549.5" r="8.7"/><circle cx="267.2" cy="513" r="8.7"/><circle cx="286.9" cy="507.3" r="8.7"/><circle cx="333.3" cy="511.5" r="8.7"/><circle cx="327.7" cy="526.8" r="8.7"/><circle cx="381.1" cy="505.2" r="8.7"/>
<circle cx="443.6" cy="414.3" r="8.7"/><circle cx="328.2" cy="535.7" r="8.7"/><circle cx="199.1" cy="583.7" r="8.7"/><circle cx="249.2" cy="496.6" r="8.7"/><circle cx="389.6" cy="535.7" r="8.7"/><circle cx="259.9" cy="569.7" r="8.7"/>
<circle cx="290.5" cy="505.1" r="8.7"/><circle cx="197.6" cy="551.1" r="8.7"/><circle cx="241.4" cy="520.9" r="8.7"/><circle cx="200.9" cy="423.5" r="8.7"/><circle cx="237.5" cy="504" r="8.7"/><circle cx="256.4" cy="417.6" r="8.7"/>
<circle cx="234.2" cy="522.9" r="8.7"/><circle cx="186.4" cy="539.3" r="8.7"/><circle cx="213.9" cy="459.1" r="8.7"/><circle cx="210.3" cy="459.2" r="8.7"/><circle cx="164.9" cy="502.6" r="8.7"/><circle cx="224.6" cy="471" r="8.7"/>
<circle cx="226.8" cy="506" r="8.7"/><circle cx="239.2" cy="471.8" r="8.7"/><circle cx="203.5" cy="539.2" r="8.7"/><circle cx="206.5" cy="433.8" r="8.7"/><circle cx="209.3" cy="499.2" r="8.7"/><circle cx="262.3" cy="573.3" r="8.7"/>
<circle cx="230.7" cy="506.6" r="8.7"/><circle cx="228.9" cy="482" r="8.7"/><circle cx="242.6" cy="522.8" r="8.7"/><circle cx="198.9" cy="508.3" r="8.7"/><circle cx="287.1" cy="438.6" r="8.7"/><circle cx="176.2" cy="459.5" r="8.7"/>
<circle cx="192.9" cy="474.7" r="8.7"/><circle cx="238.7" cy="461.1" r="8.7"/><circle cx="212.8" cy="518.6" r="8.7"/><circle cx="213.3" cy="448" r="8.7"/><circle cx="235.8" cy="478.2" r="8.7"/><circle cx="220.2" cy="473.6" r="8.7"/>
<circle cx="210.6" cy="425.7" r="8.7"/><circle cx="243.2" cy="485" r="8.7"/><circle cx="240.1" cy="521.7" r="8.7"/><circle cx="283.9" cy="469.4" r="8.7"/><circle cx="214.1" cy="431.9" r="8.7"/><circle cx="215.1" cy="485.9" r="8.7"/>
<circle cx="167.4" cy="503.7" r="8.7"/><circle cx="245.7" cy="515.3" r="8.7"/><circle cx="245.4" cy="474.4" r="8.7"/><circle cx="208.1" cy="433.1" r="8.7"/><circle cx="213.8" cy="465.8" r="8.7"/><circle cx="242.2" cy="488.9" r="8.7"/>
<circle cx="208.3" cy="503" r="8.7"/><circle cx="482.5" cy="407.7" r="8.7"/><circle cx="415.9" cy="333.8" r="8.7"/><circle cx="460" cy="304.1" r="8.7"/><circle cx="419.4" cy="426.3" r="8.7"/><circle cx="457.6" cy="300.2" r="8.7"/>
<circle cx="517.7" cy="351.7" r="8.7"/><circle cx="525.5" cy="324.4" r="8.7"/><circle cx="509.4" cy="359.9" r="8.7"/><circle cx="467.4" cy="446.1" r="8.7"/><circle cx="461.5" cy="375.2" r="8.7"/><circle cx="483.3" cy="440" r="8.7"/>
<circle cx="431.1" cy="289.7" r="8.7"/><circle cx="535.9" cy="306.2" r="8.7"/><circle cx="517.3" cy="322.1" r="8.7"/><circle cx="484.7" cy="364.6" r="8.7"/><circle cx="474.2" cy="343.7" r="8.7"/><circle cx="549.8" cy="323" r="8.7"/>
<circle cx="451.7" cy="252" r="8.7"/><circle cx="429.7" cy="335.9" r="8.7"/><circle cx="496.4" cy="380.8" r="8.7"/><circle cx="532.2" cy="270.1" r="8.7"/><circle cx="434.2" cy="364.6" r="8.7"/><circle cx="479.5" cy="352" r="8.7"/>
<circle cx="473.8" cy="337" r="8.7"/><circle cx="457.4" cy="382.1" r="8.7"/><circle cx="505.2" cy="310.5" r="8.7"/><circle cx="499.4" cy="361.9" r="8.7"/><circle cx="493.6" cy="422" r="8.7"/><circle cx="541.7" cy="367.1" r="8.7"/>
<circle cx="526.4" cy="376.3" r="8.7"/><circle cx="490.5" cy="433.6" r="8.7"/><circle cx="466.4" cy="407.5" r="8.7"/><circle cx="460.9" cy="299.8" r="8.7"/><circle cx="468" cy="424.9" r="8.7"/><circle cx="453.6" cy="476.5" r="8.7"/>
<circle cx="490.8" cy="372.7" r="8.7"/><circle cx="451.3" cy="365.6" r="8.7"/><circle cx="416.6" cy="470.7" r="8.7"/><circle cx="490.6" cy="421.7" r="8.7"/><circle cx="530" cy="364.9" r="8.7"/><circle cx="474.3" cy="426.1" r="8.7"/>
<circle cx="426.1" cy="348.5" r="8.7"/><circle cx="424.2" cy="358.1" r="8.7"/><circle cx="461.6" cy="466.7" r="8.7"/><circle cx="538.6" cy="381.4" r="8.7"/><circle cx="460.8" cy="378.2" r="8.7"/><circle cx="472.5" cy="368.9" r="8.7"/>
<circle cx="547.2" cy="281.7" r="8.7"/><circle cx="424.9" cy="455.7" r="8.7"/><circle cx="510.8" cy="342" r="8.7"/><circle cx="479.7" cy="346.3" r="8.7"/><circle cx="456.9" cy="419.6" r="8.7"/><circle cx="433.2" cy="451.8" r="8.7"/>
<circle cx="502.2" cy="363.9" r="8.7"/><circle cx="467.9" cy="383.9" r="8.7"/><circle cx="450.4" cy="405.1" r="8.7"/><circle cx="456.8" cy="444.3" r="8.7"/><circle cx="458" cy="397" r="8.7"/><circle cx="487.3" cy="288.2" r="8.7"/>
<circle cx="547.1" cy="380.9" r="8.7"/><circle cx="471.5" cy="317.3" r="8.7"/><circle cx="448.9" cy="380.9" r="8.7"/><circle cx="464.3" cy="380.7" r="8.7"/><circle cx="530.6" cy="345.9" r="8.7"/><circle cx="459.5" cy="361.2" r="8.7"/>
<circle cx="539" cy="355.1" r="8.7"/><circle cx="477.2" cy="436.1" r="8.7"/><circle cx="512.2" cy="272.3" r="8.7"/><circle cx="367.8" cy="401" r="8.7"/><circle cx="478.2" cy="352" r="8.7"/><circle cx="473.8" cy="381" r="8.7"/>
<circle cx="462.9" cy="468.7" r="8.7"/><circle cx="483" cy="442.3" r="8.7"/><circle cx="436.5" cy="433.6" r="8.7"/><circle cx="494.9" cy="426.1" r="8.7"/><circle cx="486.2" cy="308.3" r="8.7"/><circle cx="459.8" cy="354.4" r="8.7"/>
<circle cx="455" cy="380.2" r="8.7"/><circle cx="531.2" cy="342.6" r="8.7"/><circle cx="434" cy="331" r="8.7"/><circle cx="668.5" cy="94.3" r="8.7"/><circle cx="594.1" cy="113.9" r="8.7"/><circle cx="476.7" cy="132.2" r="8.7"/>
<circle cx="528.3" cy="142.7" r="8.7"/><circle cx="590" cy="154.1" r="8.7"/><circle cx="508.7" cy="161.9" r="8.7"/><circle cx="522.4" cy="165.5" r="8.7"/><circle cx="515.5" cy="174.2" r="8.7"/><circle cx="447" cy="169.7" r="8.7"/>
<circle cx="622.8" cy="171.9" r="8.7"/><circle cx="495" cy="177.9" r="8.7"/><circle cx="475.3" cy="185.6" r="8.7"/><circle cx="420.5" cy="196.1" r="8.7"/><circle cx="478.1" cy="199.8" r="8.7"/><circle cx="603.2" cy="206.2" r="8.7"/>
<circle cx="435.6" cy="222.6" r="8.7"/><circle cx="611.4" cy="228.1" r="8.7"/><circle cx="590.9" cy="232.7" r="8.7"/><circle cx="650.2" cy="248.6" r="8.7"/><circle cx="576.3" cy="216.7" r="8.7"/><circle cx="572.6" cy="286.1" r="8.7"/>
<circle cx="598.6" cy="306.6" r="8.7"/><circle cx="633.3" cy="372.8" r="8.7"/><circle cx="568" cy="503" r="8.7"/><circle cx="582.6" cy="512.1" r="8.7"/><circle cx="502.7" cy="571.5" r="8.7"/><circle cx="489" cy="521.7" r="8.7"/>
<circle cx="476.7" cy="526.3" r="8.7"/><circle cx="523.3" cy="405.3" r="8.7"/><circle cx="534.7" cy="421.3" r="8.7"/><circle cx="547.5" cy="429" r="8.7"/><circle cx="556.6" cy="371.9" r="8.7"/><circle cx="546.6" cy="376.5" r="8.7"/>
<circle cx="549.8" cy="356" r="8.7"/><circle cx="159.4" cy="300.2" r="8.7"/><circle cx="195.9" cy="316.2" r="8.7"/><circle cx="217.4" cy="339.1" r="8.7"/><circle cx="250.7" cy="307.1" r="8.7"/><circle cx="286.3" cy="302.5" r="8.7"/>
<circle cx="279.5" cy="311.2" r="8.7"/><circle cx="275.8" cy="326.3" r="8.7"/><circle cx="298.6" cy="329.5" r="8.7"/><circle cx="346.6" cy="272.8" r="8.7"/><circle cx="344.3" cy="292" r="8.7"/><circle cx="174" cy="404.8" r="8.7"/>
<circle cx="218.7" cy="377.9" r="8.7"/><circle cx="225.6" cy="392.5" r="8.7"/><circle cx="166.2" cy="436.8" r="8.7"/><circle cx="181.3" cy="432.7" r="8.7"/><circle cx="137.9" cy="520.3" r="8.7"/><circle cx="161.6" cy="505.3" r="8.7"/>
<circle cx="154.8" cy="617.6" r="8.7"/><circle cx="233.3" cy="630.8" r="8.7"/><circle cx="180.8" cy="594.3" r="8.7"/><circle cx="211" cy="604.8" r="8.7"/><circle cx="268.9" cy="608.5" r="8.7"/><circle cx="281.7" cy="599.3" r="8.7"/>
<circle cx="176.7" cy="563.7" r="8.7"/><circle cx="189" cy="569.2" r="8.7"/><circle cx="350.2" cy="592" r="8.7"/><circle cx="444.7" cy="557.8" r="8.7"/><circle cx="417.4" cy="567.4" r="8.7"/><circle cx="433.3" cy="508.9" r="8.7"/>
<circle cx="434.2" cy="531.8" r="8.7"/>
</g>
<polygon points="138.2,543.4 151.5,535.1 164.7,526.7 178,518.4 191.3,510 204.5,501.6 217.8,493.3 231.1,484.9 244.3,476.5 257.6,468.1 270.9,459.6 284.1,451.2 297.4,442.7 310.7,434.1 323.9,425.5 337.2,416.9 350.5,408.2 363.7,399.4 377,390.5 390.3,381.5 403.6,372.5 416.8,363.3 430.1,354.2 443.4,345 456.6,335.7 469.9,326.4 483.2,317.1 496.4,307.8 509.7,298.5 523,289.1 536.2,279.8 549.5,270.4 562.8,261 576,251.6 589.3,242.3 602.6,232.9 615.8,223.5 629.1,214.1 642.4,204.7 655.6,195.3 668.9,185.9 668.9,212.5 655.6,220.8 642.4,229.2 629.1,237.5 615.8,245.8 602.6,254.1 589.3,262.5 576,270.8 562.8,279.2 549.5,287.5 536.2,295.9 523,304.3 509.7,312.6 496.4,321 483.2,329.4 469.9,337.9 456.6,346.3 443.4,354.8 430.1,363.3 416.8,371.8 403.6,380.4 390.3,389.1 377,397.9 363.7,406.7 350.5,415.6 337.2,424.6 323.9,433.7 310.7,442.8 297.4,452 284.1,461.3 270.9,470.5 257.6,479.8 244.3,489.1 231.1,498.4 217.8,507.8 204.5,517.1 191.3,526.5 178,535.9 164.7,545.2 151.5,554.6 138.2,564" fill="#999" fill-opacity="0.4"/>
<line x1="138.2" y1="553.7" x2="668.9" y2="199.2" stroke="#4e79a7" stroke-width="7.3"/>
</g>
<text class="an"><tspan x="128.2" y="139" class="i">R</tspan><tspan x="165" y="143.8" font-size="44px">=</tspan><tspan x="200.2" y="139">0.66,</tspan><tspan x="304" y="139" class="i">p</tspan><tspan x="333.6" y="144.8" font-size="48px">&lt;</tspan><tspan x="368.9" y="139">2.2e−16</tspan></text>
<rect x="100.3" y="67.9" width="594.5" height="588.9" fill="none" stroke="#333" stroke-width="2.1"/>
<rect x="100.3" y="1" width="594.5" height="65" fill="#d9d9d9" stroke="#333" stroke-width="2.1"/>
<text class="st" x="397.5" y="46.5" text-anchor="middle">TP1</text>
<text class="tk" x="80.6" y="667.2" text-anchor="end">1</text>
<text class="tk" x="80.6" y="540.7" text-anchor="end">2</text>
<text class="tk" x="80.6" y="414.3" text-anchor="end">3</text>
<text class="tk" x="80.6" y="287.8" text-anchor="end">4</text>
<text class="tk" x="80.6" y="161.4" text-anchor="end">5</text>
<path d="M99.2 652.9h-11M99.2 526.4h-11M99.2 400h-11M99.2 273.5h-11M99.2 147.1h-11" stroke="#333" stroke-width="4.2" fill="none"/>
</g>
<g id="TP2">
<clipPath id="c1"><rect x="717.7" y="67.9" width="595.5" height="588.9"/></clipPath>
<rect x="717.7" y="67.9" width="595.5" height="588.9" fill="#fff"/>
<path d="M785.6 67.9V656.8M717.7 589.7H1313.2M913.6 67.9V656.8M717.7 463.2H1313.2M1041.6 67.9V656.8M717.7 336.8H1313.2M1169.6 67.9V656.8M717.7 210.3H1313.2M1297.6 67.9V656.8M717.7 83.9H1313.2" stroke="#ebebeb" stroke-width="1.9" fill="none"/>
<path d="M721.6 67.9V656.8M717.7 652.9H1313.2M849.6 67.9V656.8M717.7 526.4H1313.2M977.6 67.9V656.8M717.7 400H1313.2M1105.6 67.9V656.8M717.7 273.5H1313.2M1233.6 67.9V656.8M717.7 147.1H1313.2" stroke="#ebebeb" stroke-width="3.8" fill="none"/>
<g clip-path="url(#c1)"><g fill="#000" fill-opacity="0.25">
<circle cx="973.7" cy="309" r="8.7"/><circle cx="997" cy="367.9" r="8.7"/><circle cx="997" cy="460.4" r="8.7"/><circle cx="1029.1" cy="462.7" r="8.7"/><circle cx="926" cy="444.6" r="8.7"/><circle cx="980.2" cy="393.3" r="8.7"/>
<circle cx="953.3" cy="535.3" r="8.7"/><circle cx="867.5" cy="413.5" r="8.7"/><circle cx="941.1" cy="493.9" r="8.7"/><circle cx="853.6" cy="558.1" r="8.7"/><circle cx="926.3" cy="466.1" r="8.7"/><circle cx="943.2" cy="379.7" r="8.7"/>
<circle cx="1067.6" cy="452.9" r="8.7"/><circle cx="1068.8" cy="385.5" r="8.7"/><circle cx="985.2" cy="428.7" r="8.7"/><circle cx="841.6" cy="466.9" r="8.7"/><circle cx="791" cy="432.5" r="8.7"/><circle cx="925.6" cy="455.6" r="8.7"/>
<circle cx="881.1" cy="430.8" r="8.7"/><circle cx="914.4" cy="451.2" r="8.7"/><circle cx="1001.8" cy="481.6" r="8.7"/><circle cx="999.5" cy="421.9" r="8.7"/><circle cx="970.2" cy="423.4" r="8.7"/><circle cx="994.7" cy="424.4" r="8.7"/>
<circle cx="921.5" cy="476.6" r="8.7"/><circle cx="1005.9" cy="397.1" r="8.7"/><circle cx="980.5" cy="471.7" r="8.7"/><circle cx="1020.2" cy="415" r="8.7"/><circle cx="928.1" cy="405.6" r="8.7"/><circle cx="971.5" cy="364.7" r="8.7"/>
<circle cx="1006.4" cy="420.6" r="8.7"/><circle cx="954.6" cy="456.2" r="8.7"/><circle cx="937.8" cy="417.6" r="8.7"/><circle cx="954.5" cy="379" r="8.7"/><circle cx="820" cy="437.6" r="8.7"/><circle cx="935" cy="468.4" r="8.7"/>
<circle cx="876.9" cy="478.2" r="8.7"/><circle cx="870.3" cy="476.8" r="8.7"/><circle cx="887.2" cy="413.9" r="8.7"/><circle cx="888.1" cy="438" r="8.7"/><circle cx="1025.5" cy="440.6" r="8.7"/><circle cx="1010.1" cy="398.2" r="8.7"/>
<circle cx="981.2" cy="367.3" r="8.7"/><circle cx="934.4" cy="450" r="8.7"/><circle cx="925.3" cy="394.5" r="8.7"/><circle cx="887.8" cy="457.1" r="8.7"/><circle cx="894.2" cy="499.8" r="8.7"/><circle cx="937.3" cy="429.6" r="8.7"/>
<circle cx="853.9" cy="492.6" r="8.7"/><circle cx="900.2" cy="472.7" r="8.7"/><circle cx="924.7" cy="501.3" r="8.7"/><circle cx="947.1" cy="415.6" r="8.7"/><circle cx="896.4" cy="401.5" r="8.7"/><circle cx="964.7" cy="379.7" r="8.7"/>
<circle cx="889" cy="415.2" r="8.7"/><circle cx="885.1" cy="512.2" r="8.7"/><circle cx="991.2" cy="498.1" r="8.7"/><circle cx="934.8" cy="348.5" r="8.7"/><circle cx="969.5" cy="390.6" r="8.7"/><circle cx="868.3" cy="488.8" r="8.7"/>
<circle cx="982.3" cy="413.7" r="8.7"/><circle cx="955.7" cy="458.1" r="8.7"/><circle cx="898.6" cy="469.3" r="8.7"/><circle cx="942.2" cy="455.8" r="8.7"/><circle cx="987.4" cy="383.5" r="8.7"/><circle cx="931.6" cy="451.2" r="8.7"/>
<circle cx="898.7" cy="400.8" r="8.7"/><circle cx="993.2" cy="530.9" r="8.7"/><circle cx="940" cy="414.1" r="8.7"/><circle cx="1033.9" cy="350.5" r="8.7"/><circle cx="950.7" cy="367.5" r="8.7"/><circle cx="888" cy="394.2" r="8.7"/>
<circle cx="974.8" cy="433.1" r="8.7"/><circle cx="950" cy="387.3" r="8.7"/><circle cx="942.6" cy="439.1" r="8.7"/><circle cx="905.5" cy="423.5" r="8.7"/><circle cx="964.8" cy="367" r="8.7"/><circle cx="946.2" cy="397" r="8.7"/>
<circle cx="868.1" cy="445.4" r="8.7"/><circle cx="989.5" cy="394.2" r="8.7"/><circle cx="901.5" cy="478.3" r="8.7"/><circle cx="874.3" cy="428.4" r="8.7"/><circle cx="885.9" cy="408" r="8.7"/><circle cx="969.6" cy="389" r="8.7"/>
<circle cx="852" cy="451.4" r="8.7"/><circle cx="1009.8" cy="382.4" r="8.7"/><circle cx="974.5" cy="429.2" r="8.7"/><circle cx="865.4" cy="441.7" r="8.7"/><circle cx="958.9" cy="356.9" r="8.7"/><circle cx="1022.3" cy="436.2" r="8.7"/>
<circle cx="917.5" cy="389.8" r="8.7"/><circle cx="907" cy="370.8" r="8.7"/><circle cx="939.6" cy="441.6" r="8.7"/><circle cx="988.2" cy="496" r="8.7"/><circle cx="890.8" cy="408.5" r="8.7"/><circle cx="950.9" cy="426.8" r="8.7"/>
<circle cx="965.4" cy="427.8" r="8.7"/><circle cx="953.6" cy="322.3" r="8.7"/><circle cx="950.6" cy="462.9" r="8.7"/><circle cx="933.7" cy="414.6" r="8.7"/><circle cx="1048.2" cy="443.7" r="8.7"/><circle cx="1017.8" cy="478.2" r="8.7"/>
<circle cx="840.1" cy="438.7" r="8.7"/><circle cx="944.9" cy="388.4" r="8.7"/><circle cx="956.2" cy="505.2" r="8.7"/><circle cx="1015" cy="389.1" r="8.7"/><circle cx="1088.3" cy="434.4" r="8.7"/><circle cx="882.3" cy="415.1" r="8.7"/>
<circle cx="1035.3" cy="426.7" r="8.7"/><circle cx="1069.2" cy="307.5" r="8.7"/><circle cx="844.1" cy="451.9" r="8.7"/><circle cx="969.9" cy="346.2" r="8.7"/><circle cx="954.8" cy="311.3" r="8.7"/><circle cx="880.4" cy="501.8" r="8.7"/>
<circle cx="981.7" cy="371.1" r="8.7"/><circle cx="899.1" cy="395.8" r="8.7"/><circle cx="873.5" cy="433.9" r="8.7"/><circle cx="951.9" cy="480.2" r="8.7"/><circle cx="953.7" cy="349.5" r="8.7"/><circle cx="1039.4" cy="415.7" r="8.7"/>
<circle cx="980" cy="311.2" r="8.7"/><circle cx="964" cy="398.4" r="8.7"/><circle cx="943.8" cy="413" r="8.7"/><circle cx="998.1" cy="364.4" r="8.7"/><circle cx="894.7" cy="450" r="8.7"/><circle cx="1012.4" cy="309.7" r="8.7"/>
<circle cx="959.3" cy="437.3" r="8.7"/><circle cx="934.1" cy="439.6" r="8.7"/><circle cx="902.9" cy="430.8" r="8.7"/><circle cx="1010.1" cy="311.5" r="8.7"/><circle cx="988.2" cy="314.5" r="8.7"/><circle cx="1018.5" cy="381.8" r="8.7"/>
<circle cx="1017.6" cy="370.5" r="8.7"/><circle cx="871.1" cy="431" r="8.7"/><circle cx="983.7" cy="496.1" r="8.7"/><circle cx="906.7" cy="502.1" r="8.7"/><circle cx="964" cy="406.6" r="8.7"/><circle cx="953.3" cy="510.5" r="8.7"/>
<circle cx="963.6" cy="439.6" r="8.7"/><circle cx="886.5" cy="435.5" r="8.7"/><circle cx="822.9" cy="417.9" r="8.7"/><circle cx="941.3" cy="348.6" r="8.7"/><circle cx="846.9" cy="457.2" r="8.7"/><circle cx="859.9" cy="410.9" r="8.7"/>
<circle cx="918.6" cy="399.9" r="8.7"/><circle cx="1011.2" cy="437.1" r="8.7"/><circle cx="863.6" cy="530" r="8.7"/><circle cx="993.4" cy="419.2" r="8.7"/><circle cx="995.2" cy="372.7" r="8.7"/><circle cx="905.8" cy="424.1" r="8.7"/>
<circle cx="899" cy="422.1" r="8.7"/><circle cx="1003.7" cy="344.1" r="8.7"/><circle cx="997.2" cy="369.7" r="8.7"/><circle cx="972.5" cy="457.8" r="8.7"/><circle cx="1021.3" cy="420.8" r="8.7"/><circle cx="922.1" cy="413.7" r="8.7"/>
<circle cx="917.3" cy="394.9" r="8.7"/><circle cx="959.4" cy="414.8" r="8.7"/><circle cx="1069.6" cy="374.5" r="8.7"/><circle cx="954.8" cy="434.3" r="8.7"/><circle cx="923.9" cy="385.3" r="8.7"/><circle cx="974.5" cy="439.7" r="8.7"/>
<circle cx="917" cy="404.4" r="8.7"/><circle cx="986.6" cy="449.1" r="8.7"/><circle cx="967.4" cy="374" r="8.7"/><circle cx="886.4" cy="500.4" r="8.7"/><circle cx="1015.7" cy="406.4" r="8.7"/><circle cx="913.7" cy="461.1" r="8.7"/>
<circle cx="828.4" cy="475.2" r="8.7"/><circle cx="861.4" cy="567.5" r="8.7"/><circle cx="1070.8" cy="419.5" r="8.7"/><circle cx="905.6" cy="446.2" r="8.7"/><circle cx="925.2" cy="435.7" r="8.7"/><circle cx="979.8" cy="479" r="8.7"/>
<circle cx="1038.4" cy="453.4" r="8.7"/><circle cx="968.8" cy="428.6" r="8.7"/><circle cx="1068.8" cy="369.1" r="8.7"/><circle cx="1028" cy="455.6" r="8.7"/><circle cx="890" cy="463.8" r="8.7"/><circle cx="840.5" cy="406.1" r="8.7"/>
<circle cx="916.5" cy="421.4" r="8.7"/><circle cx="853.7" cy="425.4" r="8.7"/><circle cx="952.8" cy="470.7" r="8.7"/><circle cx="862.3" cy="503.2" r="8.7"/><circle cx="919.5" cy="435.2" r="8.7"/><circle cx="861.2" cy="485" r="8.7"/>
<circle cx="958.1" cy="436.6" r="8.7"/><circle cx="883.1" cy="503.2" r="8.7"/><circle cx="954.2" cy="403" r="8.7"/><circle cx="1006.5" cy="433.2" r="8.7"/><circle cx="846.5" cy="423.7" r="8.7"/><circle cx="963.6" cy="410.6" r="8.7"/>
<circle cx="919.8" cy="482.6" r="8.7"/><circle cx="915.8" cy="487.6" r="8.7"/><circle cx="902.2" cy="373.4" r="8.7"/><circle cx="998.9" cy="475" r="8.7"/><circle cx="912" cy="387.6" r="8.7"/><circle cx="869.7" cy="505.6" r="8.7"/>
<circle cx="853.7" cy="395.1" r="8.7"/><circle cx="957.1" cy="409.3" r="8.7"/><circle cx="966.4" cy="497.5" r="8.7"/><circle cx="971.8" cy="519.6" r="8.7"/><circle cx="955.5" cy="501.9" r="8.7"/><circle cx="912.5" cy="344.2" r="8.7"/>
<circle cx="1026" cy="416.8" r="8.7"/><circle cx="954.6" cy="446.7" r="8.7"/><circle cx="868.4" cy="447.9" r="8.7"/><circle cx="1056.4" cy="344.8" r="8.7"/><circle cx="943.1" cy="419.1" r="8.7"/><circle cx="897.6" cy="489.5" r="8.7"/>
<circle cx="1105" cy="289.8" r="8.7"/><circle cx="861.2" cy="448.2" r="8.7"/><circle cx="968.9" cy="471.7" r="8.7"/><circle cx="910.8" cy="343.3" r="8.7"/><circle cx="815.9" cy="507.2" r="8.7"/><circle cx="947.3" cy="430.8" r="8.7"/>
<circle cx="875.7" cy="465.4" r="8.7"/><circle cx="944.3" cy="424.1" r="8.7"/><circle cx="866.3" cy="465.1" r="8.7"/><circle cx="980.6" cy="383.3" r="8.7"/><circle cx="989.2" cy="391.3" r="8.7"/><circle cx="957.7" cy="510.3" r="8.7"/>
<circle cx="919.1" cy="389.6" r="8.7"/><circle cx="889.8" cy="399.9" r="8.7"/><circle cx="932.2" cy="416.9" r="8.7"/><circle cx="960.2" cy="538.5" r="8.7"/><circle cx="861.3" cy="455.4" r="8.7"/><circle cx="1003.6" cy="393.1" r="8.7"/>
<circle cx="968.1" cy="435.9" r="8.7"/><circle cx="965.7" cy="476.7" r="8.7"/><circle cx="905.3" cy="387.3" r="8.7"/><circle cx="993.9" cy="344.5" r="8.7"/><circle cx="1059.6" cy="376.3" r="8.7"/><circle cx="910" cy="494.9" r="8.7"/>
<circle cx="881" cy="492.8" r="8.7"/><circle cx="1069" cy="426.5" r="8.7"/><circle cx="960.7" cy="512.5" r="8.7"/><circle cx="1012.3" cy="409.2" r="8.7"/><circle cx="958.7" cy="363.2" r="8.7"/><circle cx="905.5" cy="347.9" r="8.7"/>
<circle cx="916.6" cy="433.5" r="8.7"/><circle cx="850.3" cy="416.1" r="8.7"/><circle cx="902.1" cy="344.4" r="8.7"/><circle cx="981.6" cy="413" r="8.7"/><circle cx="834.5" cy="440.7" r="8.7"/><circle cx="874.7" cy="491.9" r="8.7"/>
<circle cx="919.8" cy="383.6" r="8.7"/><circle cx="977.5" cy="447" r="8.7"/><circle cx="925.4" cy="434.1" r="8.7"/><circle cx="1018.6" cy="351.4" r="8.7"/><circle cx="870.1" cy="450.9" r="8.7"/><circle cx="955.7" cy="396.9" r="8.7"/>
<circle cx="973.4" cy="465.7" r="8.7"/><circle cx="962.2" cy="383.2" r="8.7"/><circle cx="943" cy="427.1" r="8.7"/><circle cx="999.4" cy="398.1" r="8.7"/><circle cx="991.3" cy="348.7" r="8.7"/><circle cx="974.9" cy="301.8" r="8.7"/>
<circle cx="975.1" cy="414.9" r="8.7"/><circle cx="889.3" cy="485.7" r="8.7"/><circle cx="856.3" cy="465.1" r="8.7"/><circle cx="920.7" cy="383.4" r="8.7"/><circle cx="849.2" cy="448.2" r="8.7"/><circle cx="957" cy="479.4" r="8.7"/>
<circle cx="880.2" cy="509.7" r="8.7"/><circle cx="914.9" cy="420.8" r="8.7"/><circle cx="956" cy="462.5" r="8.7"/><circle cx="959.3" cy="414.8" r="8.7"/><circle cx="1009" cy="488" r="8.7"/><circle cx="859.9" cy="458.3" r="8.7"/>
<circle cx="932.4" cy="440.5" r="8.7"/><circle cx="878.4" cy="420.8" r="8.7"/><circle cx="896.4" cy="433.3" r="8.7"/><circle cx="942.2" cy="423.5" r="8.7"/><circle cx="983.2" cy="482.5" r="8.7"/><circle cx="924" cy="445.5" r="8.7"/>
<circle cx="909" cy="507.8" r="8.7"/><circle cx="972.7" cy="484.3" r="8.7"/><circle cx="898.1" cy="377.9" r="8.7"/><circle cx="859.9" cy="487.5" r="8.7"/><circle cx="903.3" cy="439.6" r="8.7"/><circle cx="994.7" cy="481.8" r="8.7"/>
<circle cx="902.1" cy="514.3" r="8.7"/><circle cx="998.5" cy="384.1" r="8.7"/><circle cx="945.6" cy="478.6" r="8.7"/><circle cx="1012.4" cy="405.7" r="8.7"/><circle cx="990.5" cy="397.5" r="8.7"/><circle cx="872" cy="491.6" r="8.7"/>
<circle cx="960" cy="461.8" r="8.7"/><circle cx="1025.1" cy="398" r="8.7"/><circle cx="926.9" cy="366.6" r="8.7"/><circle cx="884.8" cy="429.5" r="8.7"/><circle cx="893.7" cy="426.9" r="8.7"/><circle cx="865.4" cy="406.1" r="8.7"/>
<circle cx="958.9" cy="395.5" r="8.7"/><circle cx="970" cy="462.9" r="8.7"/><circle cx="954.4" cy="400.8" r="8.7"/><circle cx="920" cy="426.5" r="8.7"/><circle cx="968.4" cy="444.3" r="8.7"/><circle cx="953.5" cy="419.2" r="8.7"/>
<circle cx="1052.8" cy="314.1" r="8.7"/><circle cx="990.9" cy="484.4" r="8.7"/><circle cx="987.3" cy="340.8" r="8.7"/><circle cx="929.6" cy="420.9" r="8.7"/><circle cx="936.7" cy="420.4" r="8.7"/><circle cx="974.9" cy="411.9" r="8.7"/>
<circle cx="1023.3" cy="409.2" r="8.7"/><circle cx="1012.2" cy="363.2" r="8.7"/><circle cx="892" cy="394.1" r="8.7"/><circle cx="956.2" cy="439.6" r="8.7"/><circle cx="977.9" cy="418.4" r="8.7"/><circle cx="926.4" cy="440.5" r="8.7"/>
<circle cx="885.8" cy="442.8" r="8.7"/><circle cx="931.5" cy="390.4" r="8.7"/><circle cx="954" cy="362.8" r="8.7"/><circle cx="1003.4" cy="384" r="8.7"/><circle cx="979.8" cy="443.1" r="8.7"/><circle cx="921.7" cy="431.7" r="8.7"/>
<circle cx="972.1" cy="504.5" r="8.7"/><circle cx="943.1" cy="440.5" r="8.7"/><circle cx="1010.9" cy="447.8" r="8.7"/><circle cx="895.9" cy="426.7" r="8.7"/><circle cx="975.1" cy="354.4" r="8.7"/><circle cx="979.7" cy="417.7" r="8.7"/>
<circle cx="951.3" cy="373.7" r="8.7"/><circle cx="996.8" cy="435.8" r="8.7"/><circle cx="913.1" cy="401.7" r="8.7"/><circle cx="946.9" cy="430.6" r="8.7"/><circle cx="1022.2" cy="396.8" r="8.7"/><circle cx="889.7" cy="407.3" r="8.7"/>
<circle cx="861.1" cy="417.1" r="8.7"/><circle cx="869.4" cy="500.4" r="8.7"/><circle cx="996.5" cy="441" r="8.7"/><circle cx="913.8" cy="476" r="8.7"/><circle cx="850.4" cy="438.1" r="8.7"/><circle cx="958.6" cy="403.7" r="8.7"/>
<circle cx="906.8" cy="467.2" r="8.7"/><circle cx="934.7" cy="494.1" r="8.7"/><circle cx="857.5" cy="464.3" r="8.7"/><circle cx="1000.5" cy="439.8" r="8.7"/><circle cx="967.2" cy="416.3" r="8.7"/><circle cx="915.3" cy="509.1" r="8.7"/>
<circle cx="932.2" cy="471.1" r="8.7"/><circle cx="872.2" cy="481.2" r="8.7"/><circle cx="1004.7" cy="326" r="8.7"/><circle cx="835.5" cy="486.1" r="8.7"/><circle cx="917.8" cy="513.3" r="8.7"/><circle cx="846.8" cy="480.4" r="8.7"/>
<circle cx="978.2" cy="464.5" r="8.7"/><circle cx="948.8" cy="454.8" r="8.7"/><circle cx="1035.4" cy="420.7" r="8.7"/><circle cx="934.4" cy="432.1" r="8.7"/><circle cx="811.1" cy="434" r="8.7"/><circle cx="893.2" cy="419.7" r="8.7"/>
<circle cx="931" cy="448.1" r="8.7"/><circle cx="924.3" cy="408.7" r="8.7"/><circle cx="963.6" cy="380.9" r="8.7"/><circle cx="980" cy="406.9" r="8.7"/><circle cx="944.1" cy="526.8" r="8.7"/><circle cx="964.8" cy="339.2" r="8.7"/>
<circle cx="956.1" cy="348.5" r="8.7"/><circle cx="811" cy="485.9" r="8.7"/><circle cx="965.4" cy="441.1" r="8.7"/><circle cx="971.3" cy="370" r="8.7"/><circle cx="931.8" cy="387" r="8.7"/><circle cx="801.5" cy="473.3" r="8.7"/>
<circle cx="940.4" cy="407.3" r="8.7"/><circle cx="924.1" cy="388.3" r="8.7"/><circle cx="936.1" cy="444" r="8.7"/><circle cx="850.9" cy="408.4" r="8.7"/><circle cx="950.6" cy="465.8" r="8.7"/><circle cx="1026.9" cy="395.7" r="8.7"/>
<circle cx="918.7" cy="458.9" r="8.7"/><circle cx="944.5" cy="450.1" r="8.7"/><circle cx="933.6" cy="334.4" r="8.7"/><circle cx="886.3" cy="454.7" r="8.7"/><circle cx="976.2" cy="391.5" r="8.7"/><circle cx="952.2" cy="407" r="8.7"/>
<circle cx="1019.8" cy="402.8" r="8.7"/><circle cx="872.2" cy="437" r="8.7"/><circle cx="908.2" cy="465.3" r="8.7"/><circle cx="916.1" cy="569.1" r="8.7"/><circle cx="898.1" cy="423.5" r="8.7"/><circle cx="888.8" cy="474" r="8.7"/>
<circle cx="907.2" cy="434.2" r="8.7"/><circle cx="994.3" cy="366.1" r="8.7"/><circle cx="867.8" cy="447.4" r="8.7"/><circle cx="1005.7" cy="443" r="8.7"/><circle cx="890" cy="528.2" r="8.7"/><circle cx="919.7" cy="483" r="8.7"/>
<circle cx="883.8" cy="445.1" r="8.7"/><circle cx="903.5" cy="468.9" r="8.7"/><circle cx="862.6" cy="416.1" r="8.7"/><circle cx="847.8" cy="490.9" r="8.7"/><circle cx="947.7" cy="359.2" r="8.7"/><circle cx="1004.5" cy="314.4" r="8.7"/>
<circle cx="1019.1" cy="419" r="8.7"/><circle cx="956.8" cy="348.6" r="8.7"/><circle cx="990.1" cy="419.7" r="8.7"/><circle cx="954.7" cy="408.2" r="8.7"/><circle cx="874" cy="401.7" r="8.7"/><circle cx="886.9" cy="451.8" r="8.7"/>
<circle cx="976.9" cy="409.5" r="8.7"/><circle cx="1010.8" cy="380" r="8.7"/><circle cx="1021.7" cy="453.7" r="8.7"/><circle cx="938" cy="414.3" r="8.7"/><circle cx="931.5" cy="525.5" r="8.7"/><circle cx="984.5" cy="346.3" r="8.7"/>
<circle cx="977" cy="386.8" r="8.7"/><circle cx="978.2" cy="323.3" r="8.7"/><circle cx="999.2" cy="461.6" r="8.7"/><circle cx="941.2" cy="536.1" r="8.7"/><circle cx="898.4" cy="446.6" r="8.7"/><circle cx="953.4" cy="408.6" r="8.7"/>
<circle cx="981.3" cy="447.4" r="8.7"/><circle cx="924.9" cy="466" r="8.7"/><circle cx="858.1" cy="455.8" r="8.7"/><circle cx="978.8" cy="438.8" r="8.7"/><circle cx="931.9" cy="441.5" r="8.7"/><circle cx="988.2" cy="404" r="8.7"/>
<circle cx="1018.8" cy="409" r="8.7"/><circle cx="892" cy="465" r="8.7"/><circle cx="919.8" cy="381.8" r="8.7"/><circle cx="987" cy="431" r="8.7"/><circle cx="887.7" cy="433.8" r="8.7"/><circle cx="981.4" cy="406.2" r="8.7"/>
<circle cx="889.9" cy="394.3" r="8.7"/><circle cx="944.9" cy="503.6" r="8.7"/><circle cx="1008.4" cy="327.7" r="8.7"/><circle cx="881.3" cy="418.2" r="8.7"/><circle cx="860.1" cy="429.8" r="8.7"/><circle cx="1014.5" cy="357.8" r="8.7"/>
<circle cx="1008.5" cy="460.2" r="8.7"/><circle cx="932.1" cy="355.4" r="8.7"/><circle cx="1010.6" cy="462.6" r="8.7"/><circle cx="936.5" cy="409.7" r="8.7"/><circle cx="997.2" cy="442.7" r="8.7"/><circle cx="983.5" cy="436.7" r="8.7"/>
<circle cx="924.4" cy="466.4" r="8.7"/><circle cx="935.2" cy="317.8" r="8.7"/><circle cx="1034.3" cy="328.4" r="8.7"/><circle cx="923.9" cy="461" r="8.7"/><circle cx="962.3" cy="422.6" r="8.7"/><circle cx="936.1" cy="407.3" r="8.7"/>
<circle cx="978.5" cy="427.6" r="8.7"/><circle cx="909.6" cy="427.1" r="8.7"/><circle cx="843.8" cy="448.8" r="8.7"/><circle cx="889.2" cy="381.3" r="8.7"/><circle cx="1079.8" cy="444.6" r="8.7"/><circle cx="929.1" cy="401.5" r="8.7"/>
<circle cx="882.8" cy="452.6" r="8.7"/><circle cx="953" cy="455.9" r="8.7"/><circle cx="953.6" cy="423.2" r="8.7"/><circle cx="949.9" cy="392.7" r="8.7"/><circle cx="951.9" cy="376.3" r="8.7"/><circle cx="925.4" cy="378.8" r="8.7"/>
<circle cx="1008.6" cy="348.6" r="8.7"/><circle cx="969.6" cy="398.3" r="8.7"/><circle cx="988.9" cy="440.9" r="8.7"/><circle cx="913.2" cy="443.2" r="8.7"/><circle cx="927.3" cy="399" r="8.7"/><circle cx="961" cy="391.2" r="8.7"/>
<circle cx="1000.3" cy="408.2" r="8.7"/><circle cx="962.9" cy="369.8" r="8.7"/><circle cx="915.4" cy="453.9" r="8.7"/><circle cx="950.7" cy="485.8" r="8.7"/><circle cx="1058.3" cy="373" r="8.7"/><circle cx="961.8" cy="443.2" r="8.7"/>
<circle cx="1068.7" cy="358.2" r="8.7"/><circle cx="882.3" cy="461" r="8.7"/><circle cx="1095.9" cy="395.5" r="8.7"/><circle cx="913.3" cy="499.7" r="8.7"/><circle cx="957.1" cy="341.1" r="8.7"/><circle cx="1120.3" cy="325.1" r="8.7"/>
<circle cx="954.8" cy="316.8" r="8.7"/><circle cx="1079.5" cy="368.7" r="8.7"/><circle cx="1081.9" cy="405.5" r="8.7"/><circle cx="1096.6" cy="355.4" r="8.7"/><circle cx="816.8" cy="514.5" r="8.7"/><circle cx="852.5" cy="518.8" r="8.7"/>
<circle cx="900.5" cy="587.8" r="8.7"/><circle cx="870.3" cy="420.1" r="8.7"/><circle cx="924.2" cy="411.7" r="8.7"/><circle cx="851.5" cy="436.8" r="8.7"/><circle cx="1114.7" cy="287.9" r="8.7"/><circle cx="995.8" cy="393.4" r="8.7"/>
<circle cx="1008.6" cy="470.7" r="8.7"/><circle cx="1090.4" cy="265.8" r="8.7"/><circle cx="865.3" cy="511.4" r="8.7"/><circle cx="894.8" cy="456" r="8.7"/><circle cx="931.2" cy="523.4" r="8.7"/><circle cx="1009.3" cy="512.3" r="8.7"/>
<circle cx="834.1" cy="475.9" r="8.7"/><circle cx="826.7" cy="523.9" r="8.7"/><circle cx="942.6" cy="459.8" r="8.7"/><circle cx="1040.6" cy="400.8" r="8.7"/><circle cx="993.7" cy="381.6" r="8.7"/><circle cx="866.5" cy="381" r="8.7"/>
<circle cx="1026.6" cy="402" r="8.7"/><circle cx="802.6" cy="488.4" r="8.7"/><circle cx="928.6" cy="364.3" r="8.7"/><circle cx="938.3" cy="395.4" r="8.7"/><circle cx="869.6" cy="547.7" r="8.7"/><circle cx="1026.3" cy="440.7" r="8.7"/>
<circle cx="1000.2" cy="419.2" r="8.7"/><circle cx="1080.1" cy="294" r="8.7"/><circle cx="1019.4" cy="517" r="8.7"/><circle cx="967.2" cy="308.1" r="8.7"/><circle cx="1040.1" cy="320.8" r="8.7"/><circle cx="1038.7" cy="308" r="8.7"/>
<circle cx="1011.5" cy="377.2" r="8.7"/><circle cx="968.3" cy="526.2" r="8.7"/><circle cx="942.6" cy="484.7" r="8.7"/><circle cx="937" cy="482.2" r="8.7"/><circle cx="897" cy="417.9" r="8.7"/><circle cx="920.9" cy="467.6" r="8.7"/>
<circle cx="898.4" cy="496.8" r="8.7"/><circle cx="1024.7" cy="297.1" r="8.7"/><circle cx="943" cy="527.9" r="8.7"/><circle cx="1029" cy="345.5" r="8.7"/><circle cx="909.4" cy="384" r="8.7"/><circle cx="1033.2" cy="437" r="8.7"/>
<circle cx="1091.7" cy="405.5" r="8.7"/><circle cx="1012.7" cy="373.8" r="8.7"/><circle cx="1029" cy="334.2" r="8.7"/><circle cx="1026.8" cy="414.9" r="8.7"/><circle cx="982.4" cy="449.8" r="8.7"/><circle cx="934.3" cy="386.9" r="8.7"/>
<circle cx="1119.9" cy="281.9" r="8.7"/><circle cx="994.4" cy="359.6" r="8.7"/><circle cx="959.1" cy="378.9" r="8.7"/><circle cx="876.4" cy="429.6" r="8.7"/><circle cx="918.8" cy="474.3" r="8.7"/><circle cx="1088.9" cy="191.6" r="8.7"/>
<circle cx="1108.8" cy="280" r="8.7"/><circle cx="791.5" cy="498.6" r="8.7"/><circle cx="943" cy="514.7" r="8.7"/><circle cx="852.5" cy="463.4" r="8.7"/><circle cx="1072.7" cy="249.7" r="8.7"/><circle cx="944.7" cy="502.1" r="8.7"/>
<circle cx="876.2" cy="566.4" r="8.7"/><circle cx="1116.8" cy="301.3" r="8.7"/><circle cx="1049.7" cy="394.2" r="8.7"/><circle cx="1122.7" cy="297.3" r="8.7"/><circle cx="959.7" cy="501.3" r="8.7"/><circle cx="911.4" cy="370.5" r="8.7"/>
<circle cx="1009.6" cy="432.3" r="8.7"/><circle cx="1073.3" cy="349" r="8.7"/><circle cx="869.7" cy="507.4" r="8.7"/><circle cx="1031.3" cy="398.3" r="8.7"/><circle cx="938" cy="317.3" r="8.7"/><circle cx="947.6" cy="430" r="8.7"/>
<circle cx="908.2" cy="492.6" r="8.7"/><circle cx="853.6" cy="473.5" r="8.7"/><circle cx="890.6" cy="509.5" r="8.7"/><circle cx="1044" cy="391.1" r="8.7"/><circle cx="982.3" cy="479.5" r="8.7"/><circle cx="827.3" cy="565.6" r="8.7"/>
<circle cx="982.1" cy="464.4" r="8.7"/><circle cx="952.5" cy="412.2" r="8.7"/><circle cx="871.5" cy="473.8" r="8.7"/><circle cx="1170" cy="325.1" r="8.7"/><circle cx="846.1" cy="408.9" r="8.7"/><circle cx="976.5" cy="496.6" r="8.7"/>
<circle cx="978.5" cy="477.9" r="8.7"/><circle cx="1010.6" cy="362" r="8.7"/><circle cx="1031.3" cy="292.3" r="8.7"/><circle cx="941.3" cy="523" r="8.7"/><circle cx="1000.3" cy="461.3" r="8.7"/><circle cx="954.2" cy="454.6" r="8.7"/>
<circle cx="1103.9" cy="362.9" r="8.7"/><circle cx="868.2" cy="390.2" r="8.7"/><circle cx="1062.2" cy="438.7" r="8.7"/><circle cx="1087.4" cy="340.3" r="8.7"/><circle cx="871.7" cy="433.6" r="8.7"/><circle cx="1014" cy="463.7" r="8.7"/>
<circle cx="914.9" cy="513.7" r="8.7"/><circle cx="953" cy="404.6" r="8.7"/><circle cx="856.5" cy="504.1" r="8.7"/><circle cx="966.1" cy="500.5" r="8.7"/><circle cx="1001.3" cy="393.1" r="8.7"/><circle cx="1032.3" cy="373.7" r="8.7"/>
<circle cx="978.5" cy="325" r="8.7"/><circle cx="1007.1" cy="384.9" r="8.7"/><circle cx="919" cy="451" r="8.7"/><circle cx="1016.8" cy="492.1" r="8.7"/><circle cx="986" cy="393.7" r="8.7"/><circle cx="955" cy="316.4" r="8.7"/>
<circle cx="1011.3" cy="412.9" r="8.7"/><circle cx="862.9" cy="374" r="8.7"/><circle cx="1037.5" cy="336.9" r="8.7"/><circle cx="927.9" cy="352.7" r="8.7"/><circle cx="969.1" cy="451.2" r="8.7"/><circle cx="924.9" cy="396.5" r="8.7"/>
<circle cx="1064.1" cy="404.4" r="8.7"/><circle cx="1006.9" cy="417.6" r="8.7"/><circle cx="948.7" cy="328.8" r="8.7"/><circle cx="1052.3" cy="339.6" r="8.7"/><circle cx="908.1" cy="508.3" r="8.7"/><circle cx="1068.3" cy="347.1" r="8.7"/>
<circle cx="1031.5" cy="335.6" r="8.7"/><circle cx="998.9" cy="393.5" r="8.7"/><circle cx="868.4" cy="407.2" r="8.7"/><circle cx="1034.5" cy="308.1" r="8.7"/><circle cx="958.1" cy="457.1" r="8.7"/><circle cx="924.9" cy="312.3" r="8.7"/>
<circle cx="869.5" cy="473.2" r="8.7"/><circle cx="1065.5" cy="394.5" r="8.7"/><circle cx="805.1" cy="439" r="8.7"/><circle cx="873.7" cy="477.1" r="8.7"/><circle cx="889.2" cy="432" r="8.7"/><circle cx="928.4" cy="480.8" r="8.7"/>
<circle cx="969.2" cy="420.2" r="8.7"/><circle cx="1054" cy="417.8" r="8.7"/><circle cx="1104.2" cy="320.7" r="8.7"/><circle cx="955.5" cy="291.4" r="8.7"/><circle cx="1037" cy="437" r="8.7"/><circle cx="889" cy="428.9" r="8.7"/>
<circle cx="1066" cy="446.6" r="8.7"/><circle cx="935.4" cy="545.9" r="8.7"/><circle cx="858.8" cy="452.9" r="8.7"/><circle cx="1031.2" cy="398.5" r="8.7"/><circle cx="844.5" cy="442.3" r="8.7"/><circle cx="869.8" cy="568.9" r="8.7"/>
<circle cx="960.6" cy="403.7" r="8.7"/><circle cx="977.2" cy="407.1" r="8.7"/><circle cx="1022.5" cy="358.2" r="8.7"/><circle cx="897.5" cy="377.9" r="8.7"/><circle cx="974.3" cy="393.8" r="8.7"/><circle cx="1082" cy="377.7" r="8.7"/>
<circle cx="879.8" cy="557.7" r="8.7"/><circle cx="1008.6" cy="460.6" r="8.7"/><circle cx="1018.9" cy="473.1" r="8.7"/><circle cx="1003.6" cy="405.2" r="8.7"/><circle cx="904" cy="422.3" r="8.7"/><circle cx="1143.7" cy="292.5" r="8.7"/>
<circle cx="859.1" cy="474.3" r="8.7"/><circle cx="897.2" cy="478.8" r="8.7"/><circle cx="957.2" cy="509.3" r="8.7"/><circle cx="876.5" cy="444" r="8.7"/><circle cx="985.9" cy="461.2" r="8.7"/><circle cx="950.8" cy="503.2" r="8.7"/>
<circle cx="906.6" cy="496.9" r="8.7"/><circle cx="912.1" cy="461.7" r="8.7"/><circle cx="1037.5" cy="366.4" r="8.7"/><circle cx="1014.2" cy="429.4" r="8.7"/><circle cx="1032.1" cy="479.7" r="8.7"/><circle cx="836.5" cy="385.4" r="8.7"/>
<circle cx="1111.1" cy="345.9" r="8.7"/><circle cx="1015.2" cy="291.8" r="8.7"/><circle cx="1146.6" cy="292.8" r="8.7"/><circle cx="1057.6" cy="285.2" r="8.7"/><circle cx="794.4" cy="514" r="8.7"/><circle cx="998.8" cy="378.8" r="8.7"/>
<circle cx="893.4" cy="446.4" r="8.7"/><circle cx="1124.4" cy="327.6" r="8.7"/><circle cx="1080.7" cy="303.5" r="8.7"/><circle cx="1044" cy="494.3" r="8.7"/><circle cx="922.7" cy="414.2" r="8.7"/><circle cx="982.5" cy="329.5" r="8.7"/>
<circle cx="1008.9" cy="298.7" r="8.7"/><circle cx="1003.5" cy="389.9" r="8.7"/><circle cx="1003.2" cy="429.8" r="8.7"/><circle cx="1076.5" cy="329.1" r="8.7"/><circle cx="943.7" cy="341.7" r="8.7"/><circle cx="913.5" cy="404.5" r="8.7"/>
<circle cx="927.1" cy="360.5" r="8.7"/><circle cx="851.9" cy="540.9" r="8.7"/><circle cx="993.3" cy="301.7" r="8.7"/><circle cx="978.3" cy="393.3" r="8.7"/><circle cx="872.4" cy="437.8" r="8.7"/><circle cx="968.4" cy="420.9" r="8.7"/>
<circle cx="1059.2" cy="421.2" r="8.7"/><circle cx="884.5" cy="477" r="8.7"/><circle cx="1031.9" cy="373.4" r="8.7"/><circle cx="954.1" cy="358.1" r="8.7"/><circle cx="1054.3" cy="392.8" r="8.7"/><circle cx="856.1" cy="526" r="8.7"/>
<circle cx="936.4" cy="464.4" r="8.7"/><circle cx="921.6" cy="486.2" r="8.7"/><circle cx="958.2" cy="398" r="8.7"/><circle cx="946.2" cy="410" r="8.7"/><circle cx="985.9" cy="383.1" r="8.7"/><circle cx="946" cy="441.3" r="8.7"/>
<circle cx="916.9" cy="374.3" r="8.7"/><circle cx="1030.1" cy="312.7" r="8.7"/><circle cx="1031.8" cy="284.5" r="8.7"/><circle cx="923.3" cy="411.3" r="8.7"/><circle cx="788.5" cy="441.3" r="8.7"/><circle cx="938.4" cy="407.8" r="8.7"/>
<circle cx="963" cy="444.8" r="8.7"/><circle cx="893.5" cy="444.7" r="8.7"/><circle cx="1048.3" cy="366.1" r="8.7"/><circle cx="844.6" cy="458.5" r="8.7"/><circle cx="924.9" cy="426.8" r="8.7"/><circle cx="1050.2" cy="255.7" r="8.7"/>
<circle cx="1026.5" cy="374.4" r="8.7"/><circle cx="936" cy="384.2" r="8.7"/><circle cx="960.8" cy="417.2" r="8.7"/><circle cx="833.9" cy="450.9" r="8.7"/><circle cx="850.8" cy="566.5" r="8.7"/><circle cx="1041" cy="368.7" r="8.7"/>
<circle cx="798.9" cy="512.8" r="8.7"/><circle cx="970" cy="488.1" r="8.7"/><circle cx="977.6" cy="386.6" r="8.7"/><circle cx="1078.1" cy="328.2" r="8.7"/><circle cx="992.3" cy="333" r="8.7"/><circle cx="970.1" cy="302.4" r="8.7"/>
<circle cx="916.9" cy="476.7" r="8.7"/><circle cx="990.8" cy="380.7" r="8.7"/><circle cx="1062.1" cy="308.8" r="8.7"/><circle cx="989.2" cy="379.2" r="8.7"/><circle cx="901.2" cy="406" r="8.7"/><circle cx="964.2" cy="346.1" r="8.7"/>
<circle cx="874.8" cy="528.3" r="8.7"/><circle cx="1040.3" cy="409.3" r="8.7"/><circle cx="954.2" cy="359.5" r="8.7"/><circle cx="1013" cy="394" r="8.7"/><circle cx="872.9" cy="486.8" r="8.7"/><circle cx="1027.6" cy="464" r="8.7"/>
<circle cx="1000.2" cy="484.7" r="8.7"/><circle cx="1089" cy="423.1" r="8.7"/><circle cx="829.4" cy="533.8" r="8.7"/><circle cx="932.8" cy="358.6" r="8.7"/><circle cx="907.2" cy="439.2" r="8.7"/><circle cx="977.6" cy="302.4" r="8.7"/>
<circle cx="1040.4" cy="384.1" r="8.7"/><circle cx="1001.5" cy="491.8" r="8.7"/><circle cx="1053.2" cy="418.1" r="8.7"/><circle cx="941" cy="390" r="8.7"/><circle cx="982.7" cy="357.6" r="8.7"/><circle cx="1053.2" cy="447.7" r="8.7"/>
<circle cx="867.8" cy="452.8" r="8.7"/><circle cx="970.5" cy="451.5" r="8.7"/><circle cx="955.5" cy="457.9" r="8.7"/><circle cx="975" cy="538.3" r="8.7"/><circle cx="986.5" cy="412.5" r="8.7"/><circle cx="1012.3" cy="343.6" r="8.7"/>
<circle cx="1033" cy="415.7" r="8.7"/><circle cx="994.8" cy="509.9" r="8.7"/><circle cx="934" cy="386" r="8.7"/><circle cx="871.6" cy="453.3" r="8.7"/><circle cx="956.7" cy="476.9" r="8.7"/><circle cx="895.2" cy="427" r="8.7"/>
<circle cx="1027.2" cy="397.7" r="8.7"/><circle cx="1009.1" cy="542" r="8.7"/><circle cx="871.3" cy="446.7" r="8.7"/><circle cx="1111.5" cy="416.4" r="8.7"/><circle cx="956.8" cy="338.3" r="8.7"/><circle cx="945.9" cy="545.5" r="8.7"/>
<circle cx="903.1" cy="455.8" r="8.7"/><circle cx="864" cy="546.6" r="8.7"/><circle cx="1053.9" cy="314.9" r="8.7"/><circle cx="959.2" cy="365.3" r="8.7"/><circle cx="911.5" cy="428.6" r="8.7"/><circle cx="944.4" cy="415.6" r="8.7"/>
<circle cx="1036.1" cy="229.9" r="8.7"/><circle cx="1063.2" cy="342" r="8.7"/><circle cx="959.8" cy="351.6" r="8.7"/><circle cx="896.6" cy="500.9" r="8.7"/><circle cx="943.2" cy="356" r="8.7"/><circle cx="971.2" cy="476.6" r="8.7"/>
<circle cx="1058.7" cy="330.3" r="8.7"/><circle cx="1068.3" cy="253.8" r="8.7"/><circle cx="835.8" cy="522.1" r="8.7"/><circle cx="912.5" cy="340" r="8.7"/><circle cx="898.6" cy="363.9" r="8.7"/><circle cx="1019" cy="357.2" r="8.7"/>
<circle cx="966.8" cy="396.4" r="8.7"/><circle cx="1016.9" cy="438.9" r="8.7"/><circle cx="898.6" cy="375.9" r="8.7"/><circle cx="1009.8" cy="358.7" r="8.7"/><circle cx="812.6" cy="465.9" r="8.7"/><circle cx="1052.8" cy="389.1" r="8.7"/>
<circle cx="907.3" cy="365.5" r="8.7"/><circle cx="1057.7" cy="414.7" r="8.7"/><circle cx="923.6" cy="360.2" r="8.7"/><circle cx="906.9" cy="533.2" r="8.7"/><circle cx="937.4" cy="463.8" r="8.7"/><circle cx="1021.8" cy="373.2" r="8.7"/>
<circle cx="1081.3" cy="389.8" r="8.7"/><circle cx="810.3" cy="523.7" r="8.7"/><circle cx="816.5" cy="526.4" r="8.7"/><circle cx="959.6" cy="342.7" r="8.7"/><circle cx="904.2" cy="459.8" r="8.7"/><circle cx="1012" cy="406.1" r="8.7"/>
<circle cx="887.1" cy="450.6" r="8.7"/><circle cx="941.9" cy="464.9" r="8.7"/><circle cx="1096" cy="402.7" r="8.7"/><circle cx="977.2" cy="455.8" r="8.7"/><circle cx="938" cy="468.3" r="8.7"/><circle cx="997.6" cy="418.5" r="8.7"/>
<circle cx="1049.7" cy="333.8" r="8.7"/><circle cx="1055.1" cy="223.8" r="8.7"/><circle cx="948.8" cy="422.6" r="8.7"/><circle cx="951.2" cy="440.6" r="8.7"/><circle cx="1077.4" cy="342.9" r="8.7"/><circle cx="950.7" cy="357.9" r="8.7"/>
<circle cx="1048.1" cy="368.3" r="8.7"/><circle cx="1110.9" cy="280.4" r="8.7"/><circle cx="955.6" cy="436" r="8.7"/><circle cx="981.8" cy="419.1" r="8.7"/><circle cx="982" cy="300" r="8.7"/><circle cx="951.3" cy="353.8" r="8.7"/>
<circle cx="917.4" cy="405.4" r="8.7"/><circle cx="885.8" cy="492.7" r="8.7"/><circle cx="1077.5" cy="364.3" r="8.7"/><circle cx="900.8" cy="407.7" r="8.7"/><circle cx="885.9" cy="397.8" r="8.7"/><circle cx="1042.1" cy="508.4" r="8.7"/>
<circle cx="843" cy="426.8" r="8.7"/><circle cx="1020.7" cy="401.4" r="8.7"/><circle cx="1024.2" cy="342.8" r="8.7"/><circle cx="1063.1" cy="439.1" r="8.7"/><circle cx="944.1" cy="498.2" r="8.7"/><circle cx="1013" cy="364.3" r="8.7"/>
<circle cx="896.7" cy="396.8" r="8.7"/><circle cx="854" cy="549.3" r="8.7"/><circle cx="828.3" cy="446.4" r="8.7"/><circle cx="909.2" cy="492.3" r="8.7"/><circle cx="947.3" cy="487.4" r="8.7"/><circle cx="932" cy="494.3" r="8.7"/>
<circle cx="1089.6" cy="373.2" r="8.7"/><circle cx="957" cy="533.1" r="8.7"/><circle cx="894.9" cy="451.7" r="8.7"/><circle cx="919.1" cy="325.9" r="8.7"/><circle cx="1043.3" cy="484.2" r="8.7"/><circle cx="946.1" cy="322.2" r="8.7"/>
<circle cx="1092.9" cy="399.2" r="8.7"/><circle cx="860.1" cy="495.4" r="8.7"/><circle cx="1041" cy="326.9" r="8.7"/><circle cx="881.3" cy="499.9" r="8.7"/><circle cx="1017" cy="378.7" r="8.7"/><circle cx="1013.6" cy="342.4" r="8.7"/>
<circle cx="903.9" cy="411.3" r="8.7"/><circle cx="1006" cy="498.7" r="8.7"/><circle cx="1084.7" cy="365.9" r="8.7"/><circle cx="1101.6" cy="384.4" r="8.7"/><circle cx="998.8" cy="309" r="8.7"/><circle cx="914.9" cy="445.8" r="8.7"/>
<circle cx="1053.7" cy="222.2" r="8.7"/><circle cx="879.6" cy="440.5" r="8.7"/><circle cx="1087.1" cy="431.1" r="8.7"/><circle cx="977.4" cy="446.6" r="8.7"/><circle cx="912.5" cy="401.6" r="8.7"/><circle cx="923.5" cy="331.2" r="8.7"/>
<circle cx="976.8" cy="480.3" r="8.7"/><circle cx="904.6" cy="443.7" r="8.7"/><circle cx="992.9" cy="359.4" r="8.7"/><circle cx="1045.7" cy="425.9" r="8.7"/><circle cx="1037.2" cy="393.2" r="8.7"/><circle cx="928.1" cy="426.5" r="8.7"/>
<circle cx="1035" cy="430" r="8.7"/><circle cx="933.5" cy="482.3" r="8.7"/><circle cx="865.1" cy="536.6" r="8.7"/><circle cx="1030" cy="420.2" r="8.7"/><circle cx="971" cy="420.2" r="8.7"/><circle cx="1104.6" cy="302.9" r="8.7"/>
<circle cx="1068" cy="338.5" r="8.7"/><circle cx="930.6" cy="507.6" r="8.7"/><circle cx="978.3" cy="398.6" r="8.7"/><circle cx="905" cy="381.8" r="8.7"/><circle cx="866.7" cy="377.8" r="8.7"/><circle cx="1031.5" cy="470.1" r="8.7"/>
<circle cx="984.8" cy="319.2" r="8.7"/><circle cx="909.2" cy="463" r="8.7"/><circle cx="1053.3" cy="385.9" r="8.7"/><circle cx="1074.5" cy="388.5" r="8.7"/><circle cx="933.6" cy="397.2" r="8.7"/><circle cx="842.1" cy="503" r="8.7"/>
<circle cx="1109" cy="235.3" r="8.7"/><circle cx="1029" cy="332" r="8.7"/><circle cx="995" cy="390.8" r="8.7"/><circle cx="1008.4" cy="480.2" r="8.7"/><circle cx="1174.2" cy="248.6" r="8.7"/><circle cx="991.7" cy="428.9" r="8.7"/>
<circle cx="959.7" cy="315.5" r="8.7"/><circle cx="1001.5" cy="396.5" r="8.7"/><circle cx="1057" cy="426.8" r="8.7"/><circle cx="1012.8" cy="333.5" r="8.7"/><circle cx="815.7" cy="438.5" r="8.7"/><circle cx="1044.9" cy="407.2" r="8.7"/>
<circle cx="1012.1" cy="411.8" r="8.7"/><circle cx="956.3" cy="511.1" r="8.7"/><circle cx="1027.6" cy="429.5" r="8.7"/><circle cx="1027.9" cy="350.1" r="8.7"/><circle cx="989.1" cy="450.8" r="8.7"/><circle cx="1026.4" cy="280.9" r="8.7"/>
<circle cx="966.8" cy="447.8" r="8.7"/><circle cx="1042.6" cy="328.4" r="8.7"/><circle cx="943.5" cy="332.8" r="8.7"/><circle cx="991.2" cy="348.5" r="8.7"/><circle cx="997.9" cy="347.4" r="8.7"/><circle cx="902.3" cy="468.4" r="8.7"/>
<circle cx="1084.9" cy="398.7" r="8.7"/><circle cx="961.3" cy="377.7" r="8.7"/><circle cx="952.3" cy="434.7" r="8.7"/><circle cx="1028.6" cy="442" r="8.7"/><circle cx="1007.9" cy="392.7" r="8.7"/><circle cx="1056.5" cy="404.5" r="8.7"/>
<circle cx="908.6" cy="483" r="8.7"/><circle cx="962.9" cy="326.9" r="8.7"/><circle cx="1033.5" cy="427" r="8.7"/><circle cx="934.4" cy="422.6" r="8.7"/><circle cx="1007.2" cy="281.6" r="8.7"/><circle cx="1051.1" cy="313.8" r="8.7"/>
<circle cx="1022.9" cy="336.8" r="8.7"/><circle cx="939" cy="455.8" r="8.7"/><circle cx="1085.7" cy="293.7" r="8.7"/><circle cx="1001.8" cy="484.2" r="8.7"/><circle cx="952.5" cy="369.6" r="8.7"/><circle cx="999" cy="437.3" r="8.7"/>
<circle cx="1044.8" cy="334.1" r="8.7"/><circle cx="927.2" cy="387.8" r="8.7"/><circle cx="960.4" cy="453.1" r="8.7"/><circle cx="1040" cy="470.4" r="8.7"/><circle cx="1078.5" cy="364.8" r="8.7"/><circle cx="842.9" cy="411.7" r="8.7"/>
<circle cx="1027.4" cy="425.8" r="8.7"/><circle cx="1187.5" cy="224.8" r="8.7"/><circle cx="959.5" cy="383.8" r="8.7"/><circle cx="954" cy="498.6" r="8.7"/><circle cx="988.1" cy="350.1" r="8.7"/><circle cx="1108.3" cy="311.4" r="8.7"/>
<circle cx="978.1" cy="393.7" r="8.7"/><circle cx="998.9" cy="355.8" r="8.7"/><circle cx="970.1" cy="304.5" r="8.7"/><circle cx="1030.4" cy="443.2" r="8.7"/><circle cx="987.2" cy="461.5" r="8.7"/><circle cx="1015.1" cy="385.9" r="8.7"/>
<circle cx="1063.3" cy="448.9" r="8.7"/><circle cx="1097.8" cy="293.6" r="8.7"/><circle cx="872.6" cy="459.4" r="8.7"/><circle cx="961.4" cy="368.2" r="8.7"/><circle cx="1025.7" cy="342.6" r="8.7"/><circle cx="956.7" cy="348.7" r="8.7"/>
<circle cx="929.3" cy="398.9" r="8.7"/><circle cx="1042.8" cy="364.3" r="8.7"/><circle cx="909.7" cy="499.8" r="8.7"/><circle cx="902.7" cy="354.1" r="8.7"/><circle cx="968.6" cy="362" r="8.7"/><circle cx="936.7" cy="421.8" r="8.7"/>
<circle cx="1011.8" cy="393.3" r="8.7"/><circle cx="923.4" cy="427.9" r="8.7"/><circle cx="989.2" cy="384.7" r="8.7"/><circle cx="910.2" cy="436.9" r="8.7"/><circle cx="1082.2" cy="365.2" r="8.7"/><circle cx="993.6" cy="374.8" r="8.7"/>
<circle cx="855.2" cy="446.5" r="8.7"/><circle cx="989.3" cy="514.6" r="8.7"/><circle cx="905.8" cy="412.4" r="8.7"/><circle cx="971.6" cy="360.1" r="8.7"/><circle cx="1017.6" cy="384.1" r="8.7"/><circle cx="882.5" cy="482.2" r="8.7"/>
<circle cx="1156.6" cy="266.3" r="8.7"/><circle cx="1066.4" cy="290.1" r="8.7"/><circle cx="949.1" cy="428.1" r="8.7"/><circle cx="1005.1" cy="310.2" r="8.7"/><circle cx="1111.9" cy="275.6" r="8.7"/><circle cx="982.2" cy="390" r="8.7"/>
<circle cx="900" cy="479.8" r="8.7"/><circle cx="969.3" cy="373.9" r="8.7"/><circle cx="985.4" cy="483.2" r="8.7"/><circle cx="956.8" cy="531" r="8.7"/><circle cx="1024.7" cy="338.3" r="8.7"/><circle cx="897" cy="393.1" r="8.7"/>
<circle cx="894.6" cy="463.6" r="8.7"/><circle cx="847.1" cy="518.6" r="8.7"/><circle cx="895.1" cy="444.5" r="8.7"/><circle cx="871.5" cy="457.6" r="8.7"/><circle cx="1074.2" cy="418.3" r="8.7"/><circle cx="996" cy="381" r="8.7"/>
<circle cx="951.7" cy="348.7" r="8.7"/><circle cx="880" cy="531.6" r="8.7"/><circle cx="993.3" cy="371.9" r="8.7"/><circle cx="840.3" cy="512.6" r="8.7"/><circle cx="1162.1" cy="251.5" r="8.7"/><circle cx="809.1" cy="519.6" r="8.7"/>
<circle cx="1165.6" cy="328.5" r="8.7"/><circle cx="1046.8" cy="444.8" r="8.7"/><circle cx="972.6" cy="369.1" r="8.7"/><circle cx="1077.1" cy="304.2" r="8.7"/><circle cx="1095.6" cy="306.4" r="8.7"/><circle cx="832.9" cy="501.1" r="8.7"/>
<circle cx="948.9" cy="469.2" r="8.7"/><circle cx="978.1" cy="447.5" r="8.7"/><circle cx="1021.7" cy="371.3" r="8.7"/><circle cx="963.6" cy="508.7" r="8.7"/><circle cx="975.4" cy="494.9" r="8.7"/><circle cx="993.6" cy="360.1" r="8.7"/>
<circle cx="953.8" cy="421.7" r="8.7"/><circle cx="964.3" cy="551.2" r="8.7"/><circle cx="842.7" cy="520.7" r="8.7"/><circle cx="922.4" cy="404.6" r="8.7"/><circle cx="1049.9" cy="320.5" r="8.7"/><circle cx="1155.7" cy="301.2" r="8.7"/>
<circle cx="1017.8" cy="321.1" r="8.7"/><circle cx="905.3" cy="409.7" r="8.7"/><circle cx="922.4" cy="447.8" r="8.7"/><circle cx="836.9" cy="465.3" r="8.7"/><circle cx="1004.5" cy="531.2" r="8.7"/><circle cx="1056.7" cy="364.9" r="8.7"/>
<circle cx="816.6" cy="493.8" r="8.7"/><circle cx="1044" cy="422.9" r="8.7"/><circle cx="920.2" cy="386.1" r="8.7"/><circle cx="898.3" cy="550.6" r="8.7"/><circle cx="800.2" cy="508.1" r="8.7"/><circle cx="885.6" cy="450" r="8.7"/>
<circle cx="926.2" cy="512.3" r="8.7"/><circle cx="975.7" cy="336.6" r="8.7"/><circle cx="1038.2" cy="417.4" r="8.7"/><circle cx="1090.3" cy="248.9" r="8.7"/><circle cx="957.6" cy="414.8" r="8.7"/><circle cx="1044.9" cy="255.8" r="8.7"/>
<circle cx="831" cy="500.8" r="8.7"/><circle cx="1008" cy="502.4" r="8.7"/><circle cx="831.3" cy="519.6" r="8.7"/><circle cx="877.3" cy="481.5" r="8.7"/><circle cx="1070.9" cy="347.7" r="8.7"/><circle cx="990.9" cy="415.2" r="8.7"/>
<circle cx="1142" cy="294" r="8.7"/><circle cx="1112.9" cy="365.2" r="8.7"/><circle cx="809.5" cy="453.7" r="8.7"/><circle cx="1057.3" cy="369.8" r="8.7"/><circle cx="998.6" cy="432.1" r="8.7"/><circle cx="1050.1" cy="521.4" r="8.7"/>
<circle cx="997.2" cy="383.3" r="8.7"/><circle cx="1096.2" cy="352.1" r="8.7"/><circle cx="1028.4" cy="388.2" r="8.7"/><circle cx="917.1" cy="332.2" r="8.7"/><circle cx="1026" cy="362.5" r="8.7"/><circle cx="1017.4" cy="328.7" r="8.7"/>
<circle cx="900" cy="514.9" r="8.7"/><circle cx="1015.6" cy="411" r="8.7"/><circle cx="965.4" cy="310.7" r="8.7"/><circle cx="1047.5" cy="284.9" r="8.7"/><circle cx="998.8" cy="397" r="8.7"/><circle cx="925.9" cy="448.7" r="8.7"/>
<circle cx="918.5" cy="495.1" r="8.7"/><circle cx="877.5" cy="419.1" r="8.7"/><circle cx="1072.9" cy="384.7" r="8.7"/><circle cx="1111.8" cy="283.8" r="8.7"/><circle cx="1051.2" cy="261.8" r="8.7"/><circle cx="1000.5" cy="364.9" r="8.7"/>
<circle cx="1051.2" cy="373.4" r="8.7"/><circle cx="1075.8" cy="250" r="8.7"/><circle cx="1155" cy="252.2" r="8.7"/><circle cx="1104.2" cy="227.3" r="8.7"/><circle cx="1048.7" cy="358.2" r="8.7"/><circle cx="1063.1" cy="322.4" r="8.7"/>
<circle cx="1062.7" cy="367.5" r="8.7"/><circle cx="1094.3" cy="294.7" r="8.7"/><circle cx="1078.7" cy="300.1" r="8.7"/><circle cx="1066.8" cy="337.8" r="8.7"/><circle cx="1037" cy="252.5" r="8.7"/><circle cx="1035.1" cy="385.6" r="8.7"/>
<circle cx="1091.2" cy="301.2" r="8.7"/><circle cx="1058.7" cy="382.6" r="8.7"/><circle cx="1131.6" cy="251.5" r="8.7"/><circle cx="1065.7" cy="268.2" r="8.7"/><circle cx="1139.4" cy="251.6" r="8.7"/><circle cx="1025.6" cy="293.5" r="8.7"/>
<circle cx="1126.8" cy="286.6" r="8.7"/><circle cx="1150.7" cy="244.2" r="8.7"/><circle cx="988.4" cy="324.5" r="8.7"/><circle cx="1122.6" cy="206.6" r="8.7"/><circle cx="1063.3" cy="438.6" r="8.7"/><circle cx="1105.2" cy="216.3" r="8.7"/>
<circle cx="1140.7" cy="257.3" r="8.7"/><circle cx="1037.5" cy="352" r="8.7"/><circle cx="1153.9" cy="197" r="8.7"/><circle cx="1112.3" cy="250.1" r="8.7"/><circle cx="1092.3" cy="218.7" r="8.7"/><circle cx="1132.4" cy="261.1" r="8.7"/>
<circle cx="1019.6" cy="346.9" r="8.7"/><circle cx="1067.2" cy="267.2" r="8.7"/><circle cx="1088.8" cy="238.2" r="8.7"/><circle cx="1076.9" cy="302" r="8.7"/><circle cx="1070.6" cy="379.9" r="8.7"/><circle cx="1076.6" cy="289.5" r="8.7"/>
<circle cx="1152.1" cy="231.1" r="8.7"/><circle cx="1104.4" cy="229.6" r="8.7"/><circle cx="1035.8" cy="349.4" r="8.7"/><circle cx="990.4" cy="316.5" r="8.7"/><circle cx="1138" cy="292.6" r="8.7"/><circle cx="962.8" cy="307.2" r="8.7"/>
<circle cx="1090.3" cy="236.8" r="8.7"/><circle cx="1167.7" cy="242.2" r="8.7"/><circle cx="1106.3" cy="296.9" r="8.7"/><circle cx="1002" cy="338.1" r="8.7"/><circle cx="1028.9" cy="279.6" r="8.7"/><circle cx="1106.4" cy="367.6" r="8.7"/>
<circle cx="1114.4" cy="276.1" r="8.7"/><circle cx="1106.7" cy="336.9" r="8.7"/><circle cx="1096.2" cy="200.2" r="8.7"/><circle cx="1051.9" cy="263.5" r="8.7"/><circle cx="1032.4" cy="303.7" r="8.7"/><circle cx="1060.6" cy="309.3" r="8.7"/>
<circle cx="1003.8" cy="398.1" r="8.7"/><circle cx="991.2" cy="312.8" r="8.7"/><circle cx="1016.9" cy="421.4" r="8.7"/><circle cx="1073" cy="375.8" r="8.7"/><circle cx="1079.7" cy="232.5" r="8.7"/><circle cx="1083.7" cy="336.7" r="8.7"/>
<circle cx="1049.2" cy="249.9" r="8.7"/><circle cx="1051.8" cy="295.3" r="8.7"/><circle cx="1044.4" cy="366.1" r="8.7"/><circle cx="1029.2" cy="248.6" r="8.7"/><circle cx="1090.1" cy="255.2" r="8.7"/><circle cx="1153.2" cy="240.4" r="8.7"/>
<circle cx="1084.5" cy="320.7" r="8.7"/><circle cx="1063.2" cy="316.5" r="8.7"/><circle cx="1098.7" cy="208.2" r="8.7"/><circle cx="976" cy="341.4" r="8.7"/><circle cx="1015.1" cy="303.2" r="8.7"/><circle cx="1108.1" cy="244" r="8.7"/>
<circle cx="1058.6" cy="326.6" r="8.7"/><circle cx="1195" cy="251.6" r="8.7"/><circle cx="1067.7" cy="253.5" r="8.7"/><circle cx="1115.5" cy="272" r="8.7"/><circle cx="1119.2" cy="282.3" r="8.7"/><circle cx="1059.8" cy="313.8" r="8.7"/>
<circle cx="1188.1" cy="291.3" r="8.7"/><circle cx="1091.3" cy="263" r="8.7"/><circle cx="1120.4" cy="211.1" r="8.7"/><circle cx="975.4" cy="331.4" r="8.7"/><circle cx="1034" cy="339.9" r="8.7"/><circle cx="1059.7" cy="391.2" r="8.7"/>
<circle cx="1110.9" cy="238.1" r="8.7"/><circle cx="1101" cy="303.8" r="8.7"/><circle cx="1110.7" cy="255.9" r="8.7"/><circle cx="1039.9" cy="376.8" r="8.7"/><circle cx="1121.6" cy="240.9" r="8.7"/><circle cx="1076.2" cy="386.6" r="8.7"/>
<circle cx="1059.5" cy="300.5" r="8.7"/><circle cx="1075.9" cy="263.7" r="8.7"/><circle cx="1017.8" cy="301.6" r="8.7"/><circle cx="1089.9" cy="299.8" r="8.7"/><circle cx="1116.3" cy="233.6" r="8.7"/><circle cx="1048.6" cy="354.9" r="8.7"/>
<circle cx="1110.3" cy="287.5" r="8.7"/><circle cx="1135.3" cy="305.2" r="8.7"/><circle cx="1097.2" cy="255" r="8.7"/><circle cx="962.1" cy="348.4" r="8.7"/><circle cx="1118.3" cy="240.7" r="8.7"/><circle cx="1141.9" cy="286.3" r="8.7"/>
<circle cx="1077.6" cy="308.7" r="8.7"/><circle cx="1073.1" cy="263.5" r="8.7"/><circle cx="1123.2" cy="282.3" r="8.7"/><circle cx="1172.1" cy="223.8" r="8.7"/><circle cx="1151.2" cy="221.3" r="8.7"/><circle cx="1027.6" cy="349.1" r="8.7"/>
<circle cx="1071.5" cy="230.7" r="8.7"/><circle cx="1093.6" cy="304" r="8.7"/><circle cx="1094.3" cy="216.8" r="8.7"/><circle cx="1015.4" cy="293.5" r="8.7"/><circle cx="1134.3" cy="219.8" r="8.7"/><circle cx="1127.5" cy="265.8" r="8.7"/>
<circle cx="1135.5" cy="213.7" r="8.7"/><circle cx="1015.2" cy="371.5" r="8.7"/><circle cx="1119.2" cy="201.6" r="8.7"/><circle cx="1107.3" cy="224.8" r="8.7"/><circle cx="1075.6" cy="250.6" r="8.7"/><circle cx="1040.4" cy="328.2" r="8.7"/>
<circle cx="1094.6" cy="280.5" r="8.7"/><circle cx="1106" cy="291.9" r="8.7"/><circle cx="1145.1" cy="255.6" r="8.7"/><circle cx="1015.5" cy="312" r="8.7"/><circle cx="1120" cy="327.1" r="8.7"/><circle cx="1168" cy="240.2" r="8.7"/>
<circle cx="1061.8" cy="277.9" r="8.7"/><circle cx="1141.4" cy="271.1" r="8.7"/><circle cx="1071.5" cy="356.5" r="8.7"/><circle cx="1116.9" cy="230" r="8.7"/><circle cx="1109.8" cy="240.6" r="8.7"/><circle cx="1110" cy="228.3" r="8.7"/>
<circle cx="1125.9" cy="286.9" r="8.7"/><circle cx="1111.9" cy="217.4" r="8.7"/><circle cx="1164.5" cy="230.6" r="8.7"/><circle cx="1111.6" cy="370.9" r="8.7"/><circle cx="1097.8" cy="234.9" r="8.7"/><circle cx="1047.1" cy="339" r="8.7"/>
<circle cx="1146.8" cy="213.6" r="8.7"/><circle cx="1146.3" cy="253.3" r="8.7"/><circle cx="1129.2" cy="260.5" r="8.7"/><circle cx="1150.2" cy="233.9" r="8.7"/><circle cx="1149.3" cy="227.8" r="8.7"/><circle cx="1116.8" cy="236.5" r="8.7"/>
<circle cx="1169.8" cy="256.2" r="8.7"/><circle cx="1096.5" cy="214.4" r="8.7"/><circle cx="1013.1" cy="308.4" r="8.7"/><circle cx="1033.8" cy="248.2" r="8.7"/><circle cx="1093.5" cy="289.8" r="8.7"/><circle cx="1026.2" cy="326" r="8.7"/>
<circle cx="1170.3" cy="272.1" r="8.7"/><circle cx="1141.6" cy="216.1" r="8.7"/><circle cx="1046.2" cy="284.7" r="8.7"/><circle cx="961.8" cy="333.2" r="8.7"/><circle cx="1034.3" cy="346.9" r="8.7"/><circle cx="1121.8" cy="238.5" r="8.7"/>
<circle cx="1045.8" cy="226.3" r="8.7"/><circle cx="1141" cy="236.2" r="8.7"/><circle cx="1048.2" cy="319.6" r="8.7"/><circle cx="1088.4" cy="315.9" r="8.7"/><circle cx="1078.3" cy="336.6" r="8.7"/><circle cx="1040.8" cy="345.4" r="8.7"/>
<circle cx="1117.8" cy="231.4" r="8.7"/><circle cx="899" cy="338.5" r="8.7"/><circle cx="1090" cy="332.5" r="8.7"/><circle cx="1148.2" cy="190.4" r="8.7"/><circle cx="1014" cy="329.2" r="8.7"/><circle cx="1116.7" cy="285.8" r="8.7"/>
<circle cx="1151.9" cy="279.5" r="8.7"/><circle cx="1061.7" cy="270" r="8.7"/><circle cx="1027.5" cy="365.1" r="8.7"/><circle cx="1085.6" cy="300" r="8.7"/><circle cx="1062" cy="265.5" r="8.7"/><circle cx="971.2" cy="340.5" r="8.7"/>
<circle cx="1102.2" cy="270.1" r="8.7"/><circle cx="1040.6" cy="354" r="8.7"/><circle cx="967.9" cy="354.5" r="8.7"/><circle cx="1094.6" cy="221.9" r="8.7"/><circle cx="1119" cy="364.8" r="8.7"/><circle cx="1036.4" cy="284.3" r="8.7"/>
<circle cx="1136" cy="276.9" r="8.7"/><circle cx="1101.8" cy="321.5" r="8.7"/><circle cx="1034" cy="401.8" r="8.7"/><circle cx="1084.9" cy="246.1" r="8.7"/><circle cx="1120.7" cy="233.6" r="8.7"/><circle cx="1001.1" cy="396.8" r="8.7"/>
<circle cx="951" cy="317.3" r="8.7"/><circle cx="1055.6" cy="328.1" r="8.7"/><circle cx="1088" cy="225.4" r="8.7"/><circle cx="1151.4" cy="246.5" r="8.7"/><circle cx="1066.9" cy="225" r="8.7"/><circle cx="1115.1" cy="266.4" r="8.7"/>
<circle cx="940" cy="334.6" r="8.7"/><circle cx="1132.3" cy="298.1" r="8.7"/><circle cx="1102.5" cy="309.7" r="8.7"/><circle cx="1066.8" cy="351.8" r="8.7"/><circle cx="1018" cy="291.5" r="8.7"/><circle cx="1074.6" cy="253.5" r="8.7"/>
<circle cx="1159.5" cy="297.5" r="8.7"/><circle cx="1119.5" cy="273.1" r="8.7"/><circle cx="1082.7" cy="326.9" r="8.7"/><circle cx="1069.5" cy="375.9" r="8.7"/><circle cx="1052.8" cy="275.9" r="8.7"/><circle cx="1195.2" cy="267.2" r="8.7"/>
<circle cx="1103.4" cy="279.8" r="8.7"/><circle cx="1007.7" cy="382.4" r="8.7"/><circle cx="1076.1" cy="273.4" r="8.7"/><circle cx="1105.4" cy="249.4" r="8.7"/><circle cx="1096.5" cy="238.8" r="8.7"/><circle cx="1084.8" cy="252.2" r="8.7"/>
<circle cx="1100.8" cy="267" r="8.7"/><circle cx="1111.2" cy="247.5" r="8.7"/><circle cx="1081.8" cy="267.2" r="8.7"/><circle cx="1157.9" cy="306.4" r="8.7"/><circle cx="967" cy="433.4" r="8.7"/><circle cx="1105.8" cy="231.7" r="8.7"/>
<circle cx="987.6" cy="420.7" r="8.7"/><circle cx="1097" cy="378.1" r="8.7"/><circle cx="1132" cy="188.8" r="8.7"/><circle cx="1138.8" cy="314.1" r="8.7"/><circle cx="1112.6" cy="324.9" r="8.7"/><circle cx="919.3" cy="485" r="8.7"/>
<circle cx="996.7" cy="553.5" r="8.7"/><circle cx="887" cy="501.7" r="8.7"/><circle cx="925.9" cy="525.6" r="8.7"/><circle cx="1014" cy="421.4" r="8.7"/><circle cx="832.7" cy="555.9" r="8.7"/><circle cx="947.1" cy="489.7" r="8.7"/>
<circle cx="972.3" cy="529.6" r="8.7"/><circle cx="974.5" cy="425.3" r="8.7"/><circle cx="924.9" cy="536" r="8.7"/><circle cx="920.1" cy="483.4" r="8.7"/><circle cx="931" cy="538.2" r="8.7"/><circle cx="914.7" cy="547.3" r="8.7"/>
<circle cx="795.7" cy="550.5" r="8.7"/><circle cx="944.8" cy="529.5" r="8.7"/><circle cx="984.7" cy="536.7" r="8.7"/><circle cx="994" cy="519.7" r="8.7"/><circle cx="886.9" cy="530.8" r="8.7"/><circle cx="894.4" cy="524.6" r="8.7"/>
<circle cx="920.1" cy="528.3" r="8.7"/><circle cx="813.1" cy="524.4" r="8.7"/><circle cx="839.3" cy="543.4" r="8.7"/><circle cx="910" cy="493.5" r="8.7"/><circle cx="911.6" cy="524.9" r="8.7"/><circle cx="789.3" cy="511" r="8.7"/>
<circle cx="943.6" cy="564.6" r="8.7"/><circle cx="922.9" cy="570.3" r="8.7"/><circle cx="879.9" cy="523.1" r="8.7"/><circle cx="838.4" cy="525" r="8.7"/><circle cx="1021.9" cy="483.1" r="8.7"/><circle cx="924" cy="565.1" r="8.7"/>
<circle cx="845.1" cy="502.9" r="8.7"/><circle cx="933.7" cy="529.2" r="8.7"/><circle cx="885.5" cy="563.7" r="8.7"/><circle cx="1009.9" cy="514.7" r="8.7"/><circle cx="993.1" cy="532.4" r="8.7"/><circle cx="1003.2" cy="473.7" r="8.7"/>
<circle cx="872.1" cy="469.4" r="8.7"/><circle cx="984.5" cy="538.1" r="8.7"/><circle cx="992" cy="517.8" r="8.7"/><circle cx="995.4" cy="551.5" r="8.7"/><circle cx="878.9" cy="531" r="8.7"/><circle cx="927.2" cy="473.8" r="8.7"/>
<circle cx="885.5" cy="538.8" r="8.7"/><circle cx="943.4" cy="558.2" r="8.7"/><circle cx="975.7" cy="475.5" r="8.7"/><circle cx="1012.2" cy="544" r="8.7"/><circle cx="868.3" cy="567.1" r="8.7"/><circle cx="894.9" cy="568.7" r="8.7"/>
<circle cx="922.5" cy="522" r="8.7"/><circle cx="949.1" cy="504" r="8.7"/><circle cx="884.1" cy="514.5" r="8.7"/><circle cx="965.5" cy="513.5" r="8.7"/><circle cx="949.3" cy="541.5" r="8.7"/><circle cx="970.9" cy="414" r="8.7"/>
<circle cx="911.3" cy="552.2" r="8.7"/><circle cx="953.1" cy="513.6" r="8.7"/><circle cx="1002.3" cy="548.2" r="8.7"/><circle cx="825.9" cy="567.5" r="8.7"/><circle cx="926.7" cy="509" r="8.7"/><circle cx="853.9" cy="535.9" r="8.7"/>
<circle cx="920.4" cy="482.9" r="8.7"/><circle cx="867.7" cy="559.1" r="8.7"/><circle cx="857.6" cy="557.2" r="8.7"/><circle cx="808.2" cy="499.1" r="8.7"/><circle cx="917.1" cy="529.7" r="8.7"/><circle cx="938.3" cy="503.2" r="8.7"/>
<circle cx="924" cy="571.2" r="8.7"/><circle cx="940.8" cy="534.3" r="8.7"/><circle cx="879.5" cy="527.8" r="8.7"/><circle cx="928.7" cy="533.9" r="8.7"/><circle cx="903.4" cy="568.2" r="8.7"/><circle cx="921.3" cy="478.7" r="8.7"/>
<circle cx="798.2" cy="491.9" r="8.7"/><circle cx="895.9" cy="538.9" r="8.7"/><circle cx="1036.6" cy="484.2" r="8.7"/><circle cx="975.4" cy="511.6" r="8.7"/><circle cx="968.3" cy="508.4" r="8.7"/><circle cx="891.6" cy="530.5" r="8.7"/>
<circle cx="991.1" cy="547.3" r="8.7"/><circle cx="974.5" cy="543.5" r="8.7"/><circle cx="876.7" cy="564.6" r="8.7"/><circle cx="917.6" cy="494.5" r="8.7"/><circle cx="943.6" cy="496.7" r="8.7"/><circle cx="923.6" cy="512.2" r="8.7"/>
<circle cx="923.8" cy="569.7" r="8.7"/><circle cx="931.8" cy="550.7" r="8.7"/><circle cx="957.6" cy="536.3" r="8.7"/><circle cx="887.3" cy="539.7" r="8.7"/><circle cx="863" cy="521.8" r="8.7"/><circle cx="806.8" cy="549.3" r="8.7"/>
<circle cx="906.9" cy="512" r="8.7"/><circle cx="911" cy="517.8" r="8.7"/><circle cx="855.1" cy="540.6" r="8.7"/><circle cx="969.4" cy="491.6" r="8.7"/><circle cx="912.7" cy="486.2" r="8.7"/><circle cx="845.8" cy="517.7" r="8.7"/>
<circle cx="994.3" cy="493.1" r="8.7"/><circle cx="921.5" cy="566.5" r="8.7"/><circle cx="829.8" cy="554.9" r="8.7"/><circle cx="885.2" cy="491.8" r="8.7"/><circle cx="960" cy="536" r="8.7"/><circle cx="972.8" cy="510.2" r="8.7"/>
<circle cx="980.7" cy="539.6" r="8.7"/><circle cx="967.6" cy="467" r="8.7"/><circle cx="914.9" cy="567.9" r="8.7"/><circle cx="948.1" cy="554.8" r="8.7"/><circle cx="913.4" cy="551.2" r="8.7"/><circle cx="801.9" cy="516.5" r="8.7"/>
<circle cx="788.4" cy="516.3" r="8.7"/><circle cx="960.4" cy="515.5" r="8.7"/><circle cx="985.6" cy="507.5" r="8.7"/><circle cx="865.5" cy="556.2" r="8.7"/><circle cx="877.2" cy="566.4" r="8.7"/><circle cx="851" cy="578.1" r="8.7"/>
<circle cx="918.6" cy="503.4" r="8.7"/><circle cx="889.4" cy="557.7" r="8.7"/><circle cx="938.6" cy="522.7" r="8.7"/><circle cx="882" cy="508.6" r="8.7"/><circle cx="941" cy="516.5" r="8.7"/><circle cx="1013.7" cy="545.1" r="8.7"/>
<circle cx="988.6" cy="487.8" r="8.7"/><circle cx="880.9" cy="467.5" r="8.7"/><circle cx="861.9" cy="517.5" r="8.7"/><circle cx="989.7" cy="526.3" r="8.7"/><circle cx="805" cy="504.6" r="8.7"/><circle cx="828" cy="554.3" r="8.7"/>
<circle cx="903.7" cy="534.9" r="8.7"/><circle cx="882.1" cy="458.3" r="8.7"/><circle cx="867.6" cy="487.4" r="8.7"/><circle cx="834.7" cy="543" r="8.7"/><circle cx="963.4" cy="456.6" r="8.7"/><circle cx="963.2" cy="520.7" r="8.7"/>
<circle cx="963.1" cy="487" r="8.7"/><circle cx="983.2" cy="470.8" r="8.7"/><circle cx="815.7" cy="485.2" r="8.7"/><circle cx="922.7" cy="514.6" r="8.7"/><circle cx="968.8" cy="511.1" r="8.7"/><circle cx="964.1" cy="520.2" r="8.7"/>
<circle cx="816.8" cy="523.1" r="8.7"/><circle cx="819.6" cy="432" r="8.7"/><circle cx="848.3" cy="460.4" r="8.7"/><circle cx="836.6" cy="433.6" r="8.7"/><circle cx="856.5" cy="448.6" r="8.7"/><circle cx="844.7" cy="452.7" r="8.7"/>
<circle cx="800.7" cy="464" r="8.7"/><circle cx="815" cy="456.4" r="8.7"/><circle cx="901.3" cy="494.9" r="8.7"/><circle cx="791.2" cy="486.6" r="8.7"/><circle cx="786.3" cy="491.3" r="8.7"/><circle cx="875.8" cy="504.6" r="8.7"/>
<circle cx="839.4" cy="440.4" r="8.7"/><circle cx="851" cy="462.1" r="8.7"/><circle cx="838.7" cy="459" r="8.7"/><circle cx="907.3" cy="501.4" r="8.7"/><circle cx="849.6" cy="470.2" r="8.7"/><circle cx="857.4" cy="454.9" r="8.7"/>
<circle cx="857.2" cy="479.3" r="8.7"/><circle cx="833.2" cy="454.7" r="8.7"/><circle cx="793.8" cy="455.2" r="8.7"/><circle cx="814.2" cy="480.9" r="8.7"/><circle cx="790.3" cy="480.4" r="8.7"/><circle cx="785.6" cy="481.1" r="8.7"/>
<circle cx="853.7" cy="519.4" r="8.7"/><circle cx="829.2" cy="468.3" r="8.7"/><circle cx="852" cy="452.9" r="8.7"/><circle cx="828.3" cy="512.6" r="8.7"/><circle cx="799.2" cy="528.6" r="8.7"/><circle cx="846.1" cy="477.5" r="8.7"/>
<circle cx="775.2" cy="500.5" r="8.7"/><circle cx="882.3" cy="444.7" r="8.7"/><circle cx="866" cy="450.5" r="8.7"/><circle cx="826.1" cy="539.1" r="8.7"/><circle cx="819.6" cy="460.4" r="8.7"/><circle cx="817.1" cy="553.8" r="8.7"/>
<circle cx="796.1" cy="477.4" r="8.7"/><circle cx="835.1" cy="493.5" r="8.7"/><circle cx="826.6" cy="509.1" r="8.7"/><circle cx="816.5" cy="485.1" r="8.7"/><circle cx="834" cy="435" r="8.7"/><circle cx="1015.7" cy="435.4" r="8.7"/>
<circle cx="1046.6" cy="486.2" r="8.7"/><circle cx="1042.8" cy="441.8" r="8.7"/><circle cx="1050.6" cy="377.2" r="8.7"/><circle cx="1111.5" cy="341.6" r="8.7"/><circle cx="1103.3" cy="319.3" r="8.7"/><circle cx="1038.6" cy="485.3" r="8.7"/>
<circle cx="1118.7" cy="372.3" r="8.7"/><circle cx="1107.2" cy="405.8" r="8.7"/><circle cx="1123.1" cy="362" r="8.7"/><circle cx="1033.9" cy="438.2" r="8.7"/><circle cx="1059.5" cy="304" r="8.7"/><circle cx="1071.8" cy="381.2" r="8.7"/>
<circle cx="1087.6" cy="446.7" r="8.7"/><circle cx="1080.4" cy="313.6" r="8.7"/><circle cx="1083.4" cy="385.2" r="8.7"/><circle cx="1092.4" cy="441.8" r="8.7"/><circle cx="1026.1" cy="385.1" r="8.7"/><circle cx="1115.7" cy="358.5" r="8.7"/>
<circle cx="1076.3" cy="359.8" r="8.7"/><circle cx="1097.7" cy="357.6" r="8.7"/><circle cx="1082" cy="387.2" r="8.7"/><circle cx="1095.2" cy="343.1" r="8.7"/><circle cx="1102.8" cy="377.1" r="8.7"/><circle cx="1078.4" cy="239.7" r="8.7"/>
<circle cx="1124.4" cy="320" r="8.7"/><circle cx="1076.6" cy="346.5" r="8.7"/><circle cx="1061" cy="386.1" r="8.7"/><circle cx="1032.9" cy="325.8" r="8.7"/><circle cx="1025.9" cy="387.9" r="8.7"/><circle cx="1081.2" cy="409.4" r="8.7"/>
<circle cx="1095.9" cy="322.6" r="8.7"/><circle cx="1087.9" cy="380.7" r="8.7"/><circle cx="1087.4" cy="369.5" r="8.7"/><circle cx="1103.7" cy="296.4" r="8.7"/><circle cx="1033.1" cy="487" r="8.7"/><circle cx="1077.3" cy="409.6" r="8.7"/>
<circle cx="1111.5" cy="367" r="8.7"/><circle cx="1045.2" cy="395" r="8.7"/><circle cx="1107.6" cy="367.4" r="8.7"/><circle cx="1062.9" cy="414.6" r="8.7"/><circle cx="1081.9" cy="346.6" r="8.7"/><circle cx="1086.4" cy="412.9" r="8.7"/>
<circle cx="1085.7" cy="357.3" r="8.7"/><circle cx="1094.3" cy="418" r="8.7"/><circle cx="1053.1" cy="364.6" r="8.7"/><circle cx="1090.8" cy="366.1" r="8.7"/><circle cx="1098.4" cy="393.2" r="8.7"/><circle cx="1069.9" cy="443" r="8.7"/>
<circle cx="1079.7" cy="400" r="8.7"/><circle cx="1044.1" cy="342.8" r="8.7"/><circle cx="1057.6" cy="356.5" r="8.7"/><circle cx="1123.8" cy="274.4" r="8.7"/><circle cx="1088.1" cy="368.8" r="8.7"/><circle cx="1036.7" cy="447.7" r="8.7"/>
<circle cx="1017.4" cy="430.8" r="8.7"/><circle cx="1058.7" cy="380.5" r="8.7"/><circle cx="1093.4" cy="334.5" r="8.7"/><circle cx="1064.7" cy="377.7" r="8.7"/><circle cx="1086.8" cy="370.2" r="8.7"/><circle cx="1001.3" cy="351" r="8.7"/>
<circle cx="1046.8" cy="353.4" r="8.7"/><circle cx="1091.7" cy="385.4" r="8.7"/><circle cx="1065.7" cy="356.8" r="8.7"/><circle cx="1063.1" cy="425.7" r="8.7"/><circle cx="1084.8" cy="414.9" r="8.7"/><circle cx="1041.6" cy="377.6" r="8.7"/>
<circle cx="1059.8" cy="410.9" r="8.7"/><circle cx="1018.9" cy="414.7" r="8.7"/><circle cx="1059.3" cy="361.1" r="8.7"/><circle cx="1287.1" cy="94.3" r="8.7"/><circle cx="1209.4" cy="113" r="8.7"/><circle cx="1150.1" cy="129.9" r="8.7"/>
<circle cx="1138.7" cy="141.3" r="8.7"/><circle cx="1078.4" cy="152.8" r="8.7"/><circle cx="1206.2" cy="160.5" r="8.7"/><circle cx="1229.1" cy="164.2" r="8.7"/><circle cx="1117.2" cy="168.7" r="8.7"/><circle cx="1131.8" cy="171.9" r="8.7"/>
<circle cx="1144.6" cy="177.9" r="8.7"/><circle cx="1090.7" cy="187" r="8.7"/><circle cx="1102.1" cy="189.3" r="8.7"/><circle cx="1070.2" cy="199.8" r="8.7"/><circle cx="1154.6" cy="193.9" r="8.7"/><circle cx="1212.6" cy="204.4" r="8.7"/>
<circle cx="1217.2" cy="221.3" r="8.7"/><circle cx="1268.8" cy="219.9" r="8.7"/><circle cx="1194.4" cy="223.5" r="8.7"/><circle cx="1186.6" cy="232.7" r="8.7"/><circle cx="1202.6" cy="239.5" r="8.7"/><circle cx="1220.8" cy="312.6" r="8.7"/>
<circle cx="1251.4" cy="397.1" r="8.7"/><circle cx="1240" cy="515.8" r="8.7"/><circle cx="1176.1" cy="423.5" r="8.7"/><circle cx="1159.2" cy="431.3" r="8.7"/><circle cx="1180.7" cy="464.2" r="8.7"/><circle cx="1172" cy="495.2" r="8.7"/>
<circle cx="1168.3" cy="504.4" r="8.7"/><circle cx="1128.6" cy="545.5" r="8.7"/><circle cx="1121.8" cy="559.2" r="8.7"/><circle cx="1127.2" cy="567.4" r="8.7"/><circle cx="1110.3" cy="587.5" r="8.7"/><circle cx="1098.9" cy="541.8" r="8.7"/>
<circle cx="1086.1" cy="527.2" r="8.7"/><circle cx="1090.7" cy="512.6" r="8.7"/><circle cx="1082.9" cy="496.1" r="8.7"/><circle cx="1058.7" cy="511.2" r="8.7"/><circle cx="1069.3" cy="550" r="8.7"/><circle cx="1055.6" cy="562.8" r="8.7"/>
<circle cx="1056.5" cy="576.5" r="8.7"/><circle cx="1009.9" cy="570.6" r="8.7"/><circle cx="1031.4" cy="553.7" r="8.7"/><circle cx="988" cy="559.2" r="8.7"/><circle cx="988" cy="588.8" r="8.7"/><circle cx="958.3" cy="600.2" r="8.7"/>
<circle cx="959.2" cy="609.4" r="8.7"/><circle cx="916.3" cy="593.4" r="8.7"/><circle cx="853.3" cy="598" r="8.7"/><circle cx="851" cy="604.8" r="8.7"/><circle cx="819.9" cy="591.1" r="8.7"/><circle cx="777" cy="585.2" r="8.7"/>
<circle cx="794.8" cy="630.8" r="8.7"/><circle cx="798.5" cy="559.2" r="8.7"/><circle cx="797.6" cy="572.8" r="8.7"/><circle cx="785.7" cy="348.2" r="8.7"/><circle cx="863.3" cy="316.2" r="8.7"/><circle cx="820.4" cy="367.4" r="8.7"/>
<circle cx="837.3" cy="376.5" r="8.7"/><circle cx="856.9" cy="372.8" r="8.7"/><circle cx="871.5" cy="375.6" r="8.7"/><circle cx="777.9" cy="493.9" r="8.7"/><circle cx="783.4" cy="477" r="8.7"/><circle cx="787.1" cy="454.1" r="8.7"/>
<circle cx="789.3" cy="487" r="8.7"/><circle cx="1172" cy="321.7" r="8.7"/><circle cx="1179.8" cy="319.4" r="8.7"/><circle cx="1191.2" cy="334" r="8.7"/><circle cx="1183.4" cy="328.6" r="8.7"/><circle cx="1153.3" cy="367.4" r="8.7"/>
<circle cx="1140.9" cy="381.1" r="8.7"/><circle cx="1156.9" cy="381.1" r="8.7"/><circle cx="1151.4" cy="392.5" r="8.7"/><circle cx="1129.5" cy="371.9" r="8.7"/><circle cx="1118.1" cy="449.6" r="8.7"/><circle cx="1084.8" cy="456.4" r="8.7"/>
<circle cx="1067.9" cy="479.2" r="8.7"/><circle cx="1185.2" cy="293.4" r="8.7"/><circle cx="1179.8" cy="280.6" r="8.7"/>
</g>
<polygon points="777.3,525.8 790,517.9 802.8,510.1 815.5,502.2 828.2,494.3 841,486.5 853.7,478.6 866.4,470.7 879.2,462.8 891.9,454.8 904.6,446.9 917.4,438.9 930.1,430.9 942.9,422.8 955.6,414.7 968.3,406.5 981.1,398.2 993.8,389.9 1006.5,381.5 1019.3,373 1032,364.5 1044.7,355.9 1057.5,347.2 1070.2,338.5 1082.9,329.8 1095.7,321.1 1108.4,312.4 1121.1,303.6 1133.9,294.8 1146.6,286.1 1159.3,277.3 1172.1,268.5 1184.8,259.7 1197.6,250.8 1210.3,242 1223,233.2 1235.8,224.4 1248.5,215.6 1261.2,206.7 1274,197.9 1286.7,189.1 1286.7,214.9 1274,222.7 1261.2,230.6 1248.5,238.4 1235.8,246.2 1223,254 1210.3,261.9 1197.6,269.7 1184.8,277.6 1172.1,285.4 1159.3,293.3 1146.6,301.1 1133.9,309 1121.1,316.9 1108.4,324.8 1095.7,332.7 1082.9,340.6 1070.2,348.5 1057.5,356.5 1044.7,364.5 1032,372.6 1019.3,380.7 1006.5,388.9 993.8,397.1 981.1,405.4 968.3,413.8 955.6,422.3 942.9,430.8 930.1,439.4 917.4,448 904.6,456.7 891.9,465.4 879.2,474.1 866.4,482.8 853.7,491.6 841,500.4 828.2,509.2 815.5,517.9 802.8,526.7 790,535.5 777.3,544.3" fill="#999" fill-opacity="0.4"/>
<line x1="777.3" y1="535" x2="1286.7" y2="202" stroke="#4e79a7" stroke-width="7.3"/>
</g>
<text class="an"><tspan x="745.6" y="139" class="i">R</tspan><tspan x="782.4" y="143.8" font-size="44px">=</tspan><tspan x="817.7" y="139">0.65,</tspan><tspan x="921.4" y="139" class="i">p</tspan><tspan x="951" y="144.8" font-size="48px">&lt;</tspan><tspan x="986.3" y="139">2.2e−16</tspan></text>
<rect x="717.7" y="67.9" width="595.5" height="588.9" fill="none" stroke="#333" stroke-width="2.1"/>
<rect x="717.7" y="1" width="595.5" height="65" fill="#d9d9d9" stroke="#333" stroke-width="2.1"/>
<text class="st" x="1015.5" y="46.5" text-anchor="middle">TP2</text>
</g>
<g id="TP3">
<clipPath id="c2"><rect x="100.3" y="746.9" width="594.5" height="588.4"/></clipPath>
<rect x="100.3" y="746.9" width="594.5" height="588.4" fill="#fff"/>
<path d="M168.1 746.9V1335.2M100.3 1268.2H694.8M296.1 746.9V1335.2M100.3 1141.7H694.8M424.1 746.9V1335.2M100.3 1015.3H694.8M552.1 746.9V1335.2M100.3 888.8H694.8M680.1 746.9V1335.2M100.3 762.4H694.8" stroke="#ebebeb" stroke-width="1.9" fill="none"/>
<path d="M104.1 746.9V1335.2M100.3 1331.4H694.8M232.1 746.9V1335.2M100.3 1205H694.8M360.1 746.9V1335.2M100.3 1078.5H694.8M488.1 746.9V1335.2M100.3 952.1H694.8M616.1 746.9V1335.2M100.3 825.6H694.8" stroke="#ebebeb" stroke-width="3.8" fill="none"/>
<g clip-path="url(#c2)"><g fill="#000" fill-opacity="0.25">
<circle cx="327.6" cy="1069.1" r="8.7"/><circle cx="280.3" cy="1030.3" r="8.7"/><circle cx="329.8" cy="1143" r="8.7"/><circle cx="306.6" cy="1047.9" r="8.7"/><circle cx="340.1" cy="1005.8" r="8.7"/><circle cx="310.8" cy="1040.8" r="8.7"/>
<circle cx="331.3" cy="1053.9" r="8.7"/><circle cx="316.7" cy="1028.2" r="8.7"/><circle cx="377" cy="1084" r="8.7"/><circle cx="370.9" cy="1204.9" r="8.7"/><circle cx="386.7" cy="1121.5" r="8.7"/><circle cx="336.7" cy="1057.2" r="8.7"/>
<circle cx="396.3" cy="1012.5" r="8.7"/><circle cx="310.4" cy="1074.3" r="8.7"/><circle cx="273.9" cy="1170" r="8.7"/><circle cx="328.7" cy="1134.1" r="8.7"/><circle cx="282.6" cy="1178.8" r="8.7"/><circle cx="352.9" cy="1188.9" r="8.7"/>
<circle cx="297.4" cy="1145.1" r="8.7"/><circle cx="405.5" cy="1075.9" r="8.7"/><circle cx="232.8" cy="1095" r="8.7"/><circle cx="286.4" cy="1195" r="8.7"/><circle cx="365.3" cy="1158.7" r="8.7"/><circle cx="239.6" cy="1120.7" r="8.7"/>
<circle cx="349.2" cy="1138.3" r="8.7"/><circle cx="331.1" cy="1091.1" r="8.7"/><circle cx="356" cy="1101.6" r="8.7"/><circle cx="345.4" cy="1157.2" r="8.7"/><circle cx="243.5" cy="1156.9" r="8.7"/><circle cx="345.3" cy="1051.4" r="8.7"/>
<circle cx="294" cy="1120.1" r="8.7"/><circle cx="327.2" cy="1080.6" r="8.7"/><circle cx="338.6" cy="1157.3" r="8.7"/><circle cx="295.6" cy="1075.5" r="8.7"/><circle cx="244.7" cy="1043.9" r="8.7"/><circle cx="368.6" cy="1075.1" r="8.7"/>
<circle cx="351.1" cy="1060.9" r="8.7"/><circle cx="276.8" cy="1103.2" r="8.7"/><circle cx="277.9" cy="1104.6" r="8.7"/><circle cx="391.1" cy="1048" r="8.7"/><circle cx="274.3" cy="1147.3" r="8.7"/><circle cx="348.6" cy="1140.6" r="8.7"/>
<circle cx="331.8" cy="1113.1" r="8.7"/><circle cx="241.9" cy="1106.5" r="8.7"/><circle cx="392.6" cy="1135" r="8.7"/><circle cx="344.4" cy="1082.3" r="8.7"/><circle cx="284.4" cy="1111.7" r="8.7"/><circle cx="333.9" cy="1151.2" r="8.7"/>
<circle cx="263.8" cy="1080.3" r="8.7"/><circle cx="336.7" cy="1158.3" r="8.7"/><circle cx="247.7" cy="1182.5" r="8.7"/><circle cx="403.9" cy="1109.2" r="8.7"/><circle cx="204.3" cy="1171.8" r="8.7"/><circle cx="173.7" cy="1152.1" r="8.7"/>
<circle cx="332.1" cy="1045.6" r="8.7"/><circle cx="372.6" cy="1068.6" r="8.7"/><circle cx="332.5" cy="1235.2" r="8.7"/><circle cx="354.7" cy="1104.2" r="8.7"/><circle cx="289.9" cy="1186.6" r="8.7"/><circle cx="371.8" cy="1098.8" r="8.7"/>
<circle cx="247.2" cy="1105.7" r="8.7"/><circle cx="323.2" cy="1049.6" r="8.7"/><circle cx="317.5" cy="1200" r="8.7"/><circle cx="438.1" cy="1118.3" r="8.7"/><circle cx="281.1" cy="1082.5" r="8.7"/><circle cx="387.8" cy="1003.4" r="8.7"/>
<circle cx="254.9" cy="1069" r="8.7"/><circle cx="372" cy="1058.1" r="8.7"/><circle cx="391.9" cy="1000.5" r="8.7"/><circle cx="317.7" cy="1086" r="8.7"/><circle cx="226.1" cy="1087.9" r="8.7"/><circle cx="238" cy="1103.3" r="8.7"/>
<circle cx="452.7" cy="1108.2" r="8.7"/><circle cx="306.5" cy="1121.5" r="8.7"/><circle cx="160.3" cy="1205.9" r="8.7"/><circle cx="279.1" cy="1203.1" r="8.7"/><circle cx="239.5" cy="1134.7" r="8.7"/><circle cx="329.2" cy="1131.2" r="8.7"/>
<circle cx="371.8" cy="1142.9" r="8.7"/><circle cx="307.2" cy="1029.6" r="8.7"/><circle cx="241.5" cy="1175.4" r="8.7"/><circle cx="262.1" cy="1161.6" r="8.7"/><circle cx="299" cy="1061.3" r="8.7"/><circle cx="323.3" cy="1197.2" r="8.7"/>
<circle cx="314.8" cy="1026.8" r="8.7"/><circle cx="319.8" cy="1223.4" r="8.7"/><circle cx="423.1" cy="1133.5" r="8.7"/><circle cx="341.1" cy="1180.4" r="8.7"/><circle cx="280.3" cy="1093.4" r="8.7"/><circle cx="345.2" cy="1173.7" r="8.7"/>
<circle cx="385.1" cy="1067.5" r="8.7"/><circle cx="308.6" cy="1105.7" r="8.7"/><circle cx="198.2" cy="1118.8" r="8.7"/><circle cx="283.4" cy="1180.9" r="8.7"/><circle cx="230.1" cy="1176.2" r="8.7"/><circle cx="282.2" cy="1197.7" r="8.7"/>
<circle cx="306.9" cy="1034.8" r="8.7"/><circle cx="298.5" cy="1109.6" r="8.7"/><circle cx="319" cy="1205.5" r="8.7"/><circle cx="402.2" cy="1114.7" r="8.7"/><circle cx="372.1" cy="1136.5" r="8.7"/><circle cx="291.2" cy="1087" r="8.7"/>
<circle cx="323" cy="1204.3" r="8.7"/><circle cx="235.5" cy="1113.7" r="8.7"/><circle cx="309.6" cy="1154" r="8.7"/><circle cx="368.9" cy="1134.3" r="8.7"/><circle cx="343.2" cy="1037.7" r="8.7"/><circle cx="270" cy="1192.1" r="8.7"/>
<circle cx="356.5" cy="1058.3" r="8.7"/><circle cx="246.5" cy="1178.4" r="8.7"/><circle cx="318" cy="1156.3" r="8.7"/><circle cx="307.8" cy="1098.4" r="8.7"/><circle cx="369.3" cy="1045.9" r="8.7"/><circle cx="340.6" cy="1165.2" r="8.7"/>
<circle cx="355.7" cy="1102.6" r="8.7"/><circle cx="402.9" cy="1097.8" r="8.7"/><circle cx="313.8" cy="1136.2" r="8.7"/><circle cx="259" cy="1108.6" r="8.7"/><circle cx="283.2" cy="1158.6" r="8.7"/><circle cx="409.2" cy="1130.6" r="8.7"/>
<circle cx="397.8" cy="1076.1" r="8.7"/><circle cx="296.1" cy="1207.5" r="8.7"/><circle cx="358" cy="1162.1" r="8.7"/><circle cx="296.9" cy="1117.8" r="8.7"/><circle cx="409.5" cy="1109.7" r="8.7"/><circle cx="321.2" cy="1155.7" r="8.7"/>
<circle cx="267.5" cy="1098.5" r="8.7"/><circle cx="391.9" cy="1081.4" r="8.7"/><circle cx="419.3" cy="1063.8" r="8.7"/><circle cx="182.6" cy="1141.2" r="8.7"/><circle cx="319.3" cy="1057" r="8.7"/><circle cx="217.6" cy="1141.5" r="8.7"/>
<circle cx="290.7" cy="1017.2" r="8.7"/><circle cx="391.5" cy="1106" r="8.7"/><circle cx="250.5" cy="1213.9" r="8.7"/><circle cx="313.6" cy="1069.7" r="8.7"/><circle cx="288.3" cy="1099.6" r="8.7"/><circle cx="380.6" cy="1132.6" r="8.7"/>
<circle cx="249.1" cy="1094.4" r="8.7"/><circle cx="396.5" cy="1058.9" r="8.7"/><circle cx="217.2" cy="1094.5" r="8.7"/><circle cx="277.1" cy="1151.3" r="8.7"/><circle cx="284.9" cy="1148.3" r="8.7"/><circle cx="462" cy="1046.1" r="8.7"/>
<circle cx="397.8" cy="1073.6" r="8.7"/><circle cx="276.4" cy="1077" r="8.7"/><circle cx="420.9" cy="1139.6" r="8.7"/><circle cx="281.9" cy="1207" r="8.7"/><circle cx="409.3" cy="1068.9" r="8.7"/><circle cx="287.4" cy="1085.9" r="8.7"/>
<circle cx="175.3" cy="1150.3" r="8.7"/><circle cx="361.8" cy="1126.8" r="8.7"/><circle cx="366.8" cy="1079.6" r="8.7"/><circle cx="296.7" cy="1124.9" r="8.7"/><circle cx="339" cy="1132.6" r="8.7"/><circle cx="299.2" cy="1084.9" r="8.7"/>
<circle cx="319.9" cy="1063.6" r="8.7"/><circle cx="447.7" cy="1077.8" r="8.7"/><circle cx="281.9" cy="1120.8" r="8.7"/><circle cx="362.1" cy="1088.6" r="8.7"/><circle cx="342.8" cy="1069.4" r="8.7"/><circle cx="227.6" cy="1094.3" r="8.7"/>
<circle cx="367" cy="1029.1" r="8.7"/><circle cx="346" cy="1177" r="8.7"/><circle cx="393.6" cy="1094.4" r="8.7"/><circle cx="392" cy="1056.3" r="8.7"/><circle cx="376.3" cy="1183.7" r="8.7"/><circle cx="411.7" cy="1119.3" r="8.7"/>
<circle cx="350.1" cy="1057" r="8.7"/><circle cx="355" cy="1023.8" r="8.7"/><circle cx="300.4" cy="1185.4" r="8.7"/><circle cx="293.9" cy="1122.7" r="8.7"/><circle cx="363.1" cy="1067.2" r="8.7"/><circle cx="355.1" cy="1114" r="8.7"/>
<circle cx="319.9" cy="1169.7" r="8.7"/><circle cx="263.2" cy="1123.7" r="8.7"/><circle cx="280.2" cy="1090.2" r="8.7"/><circle cx="255.1" cy="1100.9" r="8.7"/><circle cx="203" cy="1141.4" r="8.7"/><circle cx="235.7" cy="1077.7" r="8.7"/>
<circle cx="426.9" cy="1120.8" r="8.7"/><circle cx="309.8" cy="1155.2" r="8.7"/><circle cx="307.8" cy="1207.2" r="8.7"/><circle cx="322.8" cy="1094.9" r="8.7"/><circle cx="284.5" cy="1163.7" r="8.7"/><circle cx="395.2" cy="1033" r="8.7"/>
<circle cx="219.8" cy="1105.7" r="8.7"/><circle cx="262.9" cy="1109.6" r="8.7"/><circle cx="396.6" cy="1129.5" r="8.7"/><circle cx="438.5" cy="1071.3" r="8.7"/><circle cx="305.9" cy="1026.9" r="8.7"/><circle cx="248.2" cy="1071.8" r="8.7"/>
<circle cx="268.8" cy="1106.1" r="8.7"/><circle cx="358" cy="1025.4" r="8.7"/><circle cx="250.4" cy="1108.2" r="8.7"/><circle cx="434.6" cy="1030.6" r="8.7"/><circle cx="263.7" cy="1056.3" r="8.7"/><circle cx="247.2" cy="1069.7" r="8.7"/>
<circle cx="418.4" cy="1068.9" r="8.7"/><circle cx="344.4" cy="973.9" r="8.7"/><circle cx="291.6" cy="1241" r="8.7"/><circle cx="453.9" cy="1178.8" r="8.7"/><circle cx="184.4" cy="1106.2" r="8.7"/><circle cx="384.3" cy="1102.8" r="8.7"/>
<circle cx="340" cy="1034.1" r="8.7"/><circle cx="305.4" cy="1160" r="8.7"/><circle cx="285.6" cy="1094.5" r="8.7"/><circle cx="365.5" cy="1202.9" r="8.7"/><circle cx="378.3" cy="996.6" r="8.7"/><circle cx="285.2" cy="1121.5" r="8.7"/>
<circle cx="372.1" cy="1054.3" r="8.7"/><circle cx="350.4" cy="1094" r="8.7"/><circle cx="323.5" cy="1150.9" r="8.7"/><circle cx="313.3" cy="1064.4" r="8.7"/><circle cx="445.7" cy="1176.4" r="8.7"/><circle cx="367.2" cy="1066.5" r="8.7"/>
<circle cx="278.8" cy="1116" r="8.7"/><circle cx="290.6" cy="1069.3" r="8.7"/><circle cx="262.8" cy="1067.5" r="8.7"/><circle cx="181.9" cy="1137.4" r="8.7"/><circle cx="269.7" cy="1113.3" r="8.7"/><circle cx="218.2" cy="1075.3" r="8.7"/>
<circle cx="293" cy="1045.1" r="8.7"/><circle cx="399.9" cy="1049.4" r="8.7"/><circle cx="277.1" cy="1081.2" r="8.7"/><circle cx="265.4" cy="1021.1" r="8.7"/><circle cx="396.2" cy="1080.8" r="8.7"/><circle cx="414.2" cy="1101.1" r="8.7"/>
<circle cx="198.4" cy="1247.7" r="8.7"/><circle cx="328.9" cy="1151.8" r="8.7"/><circle cx="299.1" cy="1104.5" r="8.7"/><circle cx="254" cy="1027.3" r="8.7"/><circle cx="422.8" cy="1048.4" r="8.7"/><circle cx="303.9" cy="1032.5" r="8.7"/>
<circle cx="310.2" cy="1109" r="8.7"/><circle cx="262.6" cy="1109.9" r="8.7"/><circle cx="334.2" cy="1124.9" r="8.7"/><circle cx="377.5" cy="1124.6" r="8.7"/><circle cx="367.2" cy="1042" r="8.7"/><circle cx="318.5" cy="1151.3" r="8.7"/>
<circle cx="356.1" cy="1098.5" r="8.7"/><circle cx="330.6" cy="1102.3" r="8.7"/><circle cx="242.4" cy="1183.6" r="8.7"/><circle cx="276" cy="1164.1" r="8.7"/><circle cx="352.5" cy="1147" r="8.7"/><circle cx="254" cy="1020.7" r="8.7"/>
<circle cx="371.4" cy="1036.5" r="8.7"/><circle cx="361.8" cy="1164.9" r="8.7"/><circle cx="362.8" cy="1078.5" r="8.7"/><circle cx="212.7" cy="1103.4" r="8.7"/><circle cx="262.4" cy="1078.2" r="8.7"/><circle cx="420.3" cy="1116.6" r="8.7"/>
<circle cx="394.7" cy="1117" r="8.7"/><circle cx="286.4" cy="1203.6" r="8.7"/><circle cx="313.2" cy="1082.3" r="8.7"/><circle cx="385.6" cy="1047.8" r="8.7"/><circle cx="339.5" cy="1139.9" r="8.7"/><circle cx="305.8" cy="1078.7" r="8.7"/>
<circle cx="296.8" cy="1167.8" r="8.7"/><circle cx="397.1" cy="1025.5" r="8.7"/><circle cx="389.1" cy="1112.4" r="8.7"/><circle cx="465.8" cy="1021" r="8.7"/><circle cx="315" cy="1155.3" r="8.7"/><circle cx="301.2" cy="1141.6" r="8.7"/>
<circle cx="464.7" cy="1095.2" r="8.7"/><circle cx="373.9" cy="1126.3" r="8.7"/><circle cx="351.5" cy="1098.1" r="8.7"/><circle cx="258.5" cy="1062.7" r="8.7"/><circle cx="265.4" cy="1240.6" r="8.7"/><circle cx="366.2" cy="1114.6" r="8.7"/>
<circle cx="312.8" cy="1081.6" r="8.7"/><circle cx="322.4" cy="1121.3" r="8.7"/><circle cx="311.7" cy="1017.5" r="8.7"/><circle cx="361.2" cy="1177" r="8.7"/><circle cx="302.7" cy="1015.1" r="8.7"/><circle cx="322.3" cy="1167.5" r="8.7"/>
<circle cx="263.1" cy="1053.5" r="8.7"/><circle cx="324.9" cy="1082.4" r="8.7"/><circle cx="299.4" cy="1168.2" r="8.7"/><circle cx="386.6" cy="1087.9" r="8.7"/><circle cx="298.4" cy="1130" r="8.7"/><circle cx="311.7" cy="1096.9" r="8.7"/>
<circle cx="353.5" cy="969.9" r="8.7"/><circle cx="299.9" cy="1050.4" r="8.7"/><circle cx="417.5" cy="1035.7" r="8.7"/><circle cx="320.8" cy="1124.7" r="8.7"/><circle cx="293.1" cy="1111.8" r="8.7"/><circle cx="222.8" cy="1182.5" r="8.7"/>
<circle cx="320.1" cy="1104.3" r="8.7"/><circle cx="241.4" cy="1077" r="8.7"/><circle cx="363.7" cy="1188" r="8.7"/><circle cx="274.7" cy="1048.4" r="8.7"/><circle cx="305.9" cy="1157.4" r="8.7"/><circle cx="274.2" cy="1174.3" r="8.7"/>
<circle cx="292.3" cy="1159.5" r="8.7"/><circle cx="324.6" cy="1116.5" r="8.7"/><circle cx="426.1" cy="1110.4" r="8.7"/><circle cx="357.2" cy="1009.2" r="8.7"/><circle cx="435.8" cy="1109" r="8.7"/><circle cx="327.3" cy="1079.6" r="8.7"/>
<circle cx="349.5" cy="1171.4" r="8.7"/><circle cx="308" cy="1199.7" r="8.7"/><circle cx="412.1" cy="1136" r="8.7"/><circle cx="362.7" cy="1166.6" r="8.7"/><circle cx="300.6" cy="1108.7" r="8.7"/><circle cx="348.2" cy="1091.3" r="8.7"/>
<circle cx="370.2" cy="1040.5" r="8.7"/><circle cx="271.9" cy="1137.6" r="8.7"/><circle cx="275" cy="1137.5" r="8.7"/><circle cx="449.5" cy="1091.1" r="8.7"/><circle cx="325.1" cy="1025.6" r="8.7"/><circle cx="207.4" cy="1105.3" r="8.7"/>
<circle cx="337.3" cy="1138.5" r="8.7"/><circle cx="403.2" cy="1116.4" r="8.7"/><circle cx="265.4" cy="1103.5" r="8.7"/><circle cx="476.2" cy="1000.4" r="8.7"/><circle cx="351.3" cy="1138.7" r="8.7"/><circle cx="314.6" cy="1207.8" r="8.7"/>
<circle cx="387.9" cy="1135.2" r="8.7"/><circle cx="296.4" cy="1138.8" r="8.7"/><circle cx="295.9" cy="1100.2" r="8.7"/><circle cx="327.8" cy="1161.8" r="8.7"/><circle cx="270.1" cy="1164.7" r="8.7"/><circle cx="290.4" cy="1091.3" r="8.7"/>
<circle cx="327.4" cy="1018.3" r="8.7"/><circle cx="317.2" cy="1119.6" r="8.7"/><circle cx="358.5" cy="1007.9" r="8.7"/><circle cx="306.1" cy="1061" r="8.7"/><circle cx="380.7" cy="1151.3" r="8.7"/><circle cx="306.5" cy="1146.6" r="8.7"/>
<circle cx="284.2" cy="1183" r="8.7"/><circle cx="294.8" cy="1183.7" r="8.7"/><circle cx="294" cy="1166.4" r="8.7"/><circle cx="262.9" cy="1078.1" r="8.7"/><circle cx="327.1" cy="1142.2" r="8.7"/><circle cx="250.9" cy="1040.3" r="8.7"/>
<circle cx="265.5" cy="1039.8" r="8.7"/><circle cx="252.2" cy="1215.7" r="8.7"/><circle cx="348.7" cy="1026.8" r="8.7"/><circle cx="404.4" cy="1197" r="8.7"/><circle cx="428.2" cy="1073.4" r="8.7"/><circle cx="325.7" cy="1115.7" r="8.7"/>
<circle cx="214.2" cy="1071.2" r="8.7"/><circle cx="416.8" cy="1072.4" r="8.7"/><circle cx="355.4" cy="1125" r="8.7"/><circle cx="237.3" cy="1089.6" r="8.7"/><circle cx="310.2" cy="1189.1" r="8.7"/><circle cx="242.1" cy="1121" r="8.7"/>
<circle cx="404" cy="1104.7" r="8.7"/><circle cx="417.9" cy="1101.6" r="8.7"/><circle cx="265.1" cy="1090.9" r="8.7"/><circle cx="422.1" cy="995.2" r="8.7"/><circle cx="339.6" cy="1050" r="8.7"/><circle cx="447.1" cy="1042.4" r="8.7"/>
<circle cx="355.8" cy="1106" r="8.7"/><circle cx="225" cy="1154.4" r="8.7"/><circle cx="293.8" cy="1054.8" r="8.7"/><circle cx="406.4" cy="1195.2" r="8.7"/><circle cx="312" cy="1091.7" r="8.7"/><circle cx="345.4" cy="1074.4" r="8.7"/>
<circle cx="287.5" cy="1123.2" r="8.7"/><circle cx="219.7" cy="1120.3" r="8.7"/><circle cx="391.4" cy="1047.7" r="8.7"/><circle cx="305.5" cy="1103.7" r="8.7"/><circle cx="284.7" cy="1114.3" r="8.7"/><circle cx="409.6" cy="1061.1" r="8.7"/>
<circle cx="317.1" cy="1120.3" r="8.7"/><circle cx="365.9" cy="1171.3" r="8.7"/><circle cx="320.7" cy="1261.5" r="8.7"/><circle cx="376.8" cy="1081.6" r="8.7"/><circle cx="312.4" cy="1090.1" r="8.7"/><circle cx="267.6" cy="1019.5" r="8.7"/>
<circle cx="289.9" cy="1102.7" r="8.7"/><circle cx="325.3" cy="1099.9" r="8.7"/><circle cx="346.1" cy="1095.2" r="8.7"/><circle cx="283.2" cy="1186.4" r="8.7"/><circle cx="339.3" cy="1143.9" r="8.7"/><circle cx="320.3" cy="1080.5" r="8.7"/>
<circle cx="202.2" cy="1093.5" r="8.7"/><circle cx="308.4" cy="1122.6" r="8.7"/><circle cx="231.9" cy="1159.2" r="8.7"/><circle cx="286.6" cy="1206.5" r="8.7"/><circle cx="221.7" cy="1099.7" r="8.7"/><circle cx="364.1" cy="1091.6" r="8.7"/>
<circle cx="304.1" cy="1167.8" r="8.7"/><circle cx="318.7" cy="1081.3" r="8.7"/><circle cx="262.3" cy="1057.6" r="8.7"/><circle cx="300.8" cy="1187.5" r="8.7"/><circle cx="380.9" cy="1111.4" r="8.7"/><circle cx="308.6" cy="1049.4" r="8.7"/>
<circle cx="267.2" cy="1205.5" r="8.7"/><circle cx="276.2" cy="1180.7" r="8.7"/><circle cx="342.2" cy="1013.5" r="8.7"/><circle cx="359.8" cy="1110.7" r="8.7"/><circle cx="258.3" cy="1028.8" r="8.7"/><circle cx="216.1" cy="1071.6" r="8.7"/>
<circle cx="267.3" cy="1117.5" r="8.7"/><circle cx="355.3" cy="1066.8" r="8.7"/><circle cx="275.2" cy="1049.4" r="8.7"/><circle cx="399.6" cy="1063.4" r="8.7"/><circle cx="324.3" cy="1102.6" r="8.7"/><circle cx="368.7" cy="1122.4" r="8.7"/>
<circle cx="260" cy="1146.3" r="8.7"/><circle cx="376.4" cy="978.3" r="8.7"/><circle cx="355" cy="976.1" r="8.7"/><circle cx="238.3" cy="1202.7" r="8.7"/><circle cx="252.2" cy="1079.5" r="8.7"/><circle cx="336" cy="1137.6" r="8.7"/>
<circle cx="286.3" cy="1138.7" r="8.7"/><circle cx="354.7" cy="1113.1" r="8.7"/><circle cx="292.7" cy="1123.9" r="8.7"/><circle cx="453.1" cy="1020.9" r="8.7"/><circle cx="335.1" cy="1087" r="8.7"/><circle cx="361.5" cy="1076.1" r="8.7"/>
<circle cx="403.2" cy="1186.9" r="8.7"/><circle cx="342.7" cy="1116.6" r="8.7"/><circle cx="355.8" cy="1078.1" r="8.7"/><circle cx="316.4" cy="1124.4" r="8.7"/><circle cx="304.4" cy="1082.6" r="8.7"/><circle cx="308" cy="1036.2" r="8.7"/>
<circle cx="329.8" cy="1106.7" r="8.7"/><circle cx="296.2" cy="1020.7" r="8.7"/><circle cx="312.7" cy="1120.4" r="8.7"/><circle cx="318.9" cy="1096.1" r="8.7"/><circle cx="313.9" cy="1161.9" r="8.7"/><circle cx="212.7" cy="1079.1" r="8.7"/>
<circle cx="310.2" cy="1197" r="8.7"/><circle cx="305.7" cy="1241.5" r="8.7"/><circle cx="293.7" cy="1066.7" r="8.7"/><circle cx="337.2" cy="1041.3" r="8.7"/><circle cx="316.8" cy="1156.4" r="8.7"/><circle cx="285.7" cy="1069.8" r="8.7"/>
<circle cx="363.5" cy="1137.9" r="8.7"/><circle cx="330.9" cy="1211.8" r="8.7"/><circle cx="228.3" cy="1088" r="8.7"/><circle cx="400.6" cy="1171" r="8.7"/><circle cx="393.6" cy="1146.2" r="8.7"/><circle cx="216.4" cy="1193.8" r="8.7"/>
<circle cx="206.3" cy="1140.8" r="8.7"/><circle cx="373.3" cy="1155.8" r="8.7"/><circle cx="221.1" cy="1090.5" r="8.7"/><circle cx="328.3" cy="1162.7" r="8.7"/><circle cx="300.7" cy="1181" r="8.7"/><circle cx="271.5" cy="1103.6" r="8.7"/>
<circle cx="360.4" cy="1146.1" r="8.7"/><circle cx="269.7" cy="1045.8" r="8.7"/><circle cx="290.7" cy="1078.5" r="8.7"/><circle cx="441.8" cy="1133.4" r="8.7"/><circle cx="379.5" cy="1183.2" r="8.7"/><circle cx="350.7" cy="1049.3" r="8.7"/>
<circle cx="344" cy="1146.4" r="8.7"/><circle cx="238.1" cy="1194.7" r="8.7"/><circle cx="389.4" cy="1090.7" r="8.7"/><circle cx="327.2" cy="1040.5" r="8.7"/><circle cx="293.7" cy="1056.1" r="8.7"/><circle cx="368.5" cy="1069.5" r="8.7"/>
<circle cx="371.7" cy="1003.1" r="8.7"/><circle cx="307.9" cy="1082" r="8.7"/><circle cx="236" cy="1093.1" r="8.7"/><circle cx="397.2" cy="1191.9" r="8.7"/><circle cx="269.7" cy="1094.9" r="8.7"/><circle cx="199.1" cy="1169.4" r="8.7"/>
<circle cx="213.6" cy="1224.6" r="8.7"/><circle cx="272" cy="1071.3" r="8.7"/><circle cx="326.1" cy="1160.6" r="8.7"/><circle cx="433.1" cy="1002.8" r="8.7"/><circle cx="294.4" cy="1168.8" r="8.7"/><circle cx="420.6" cy="1113.4" r="8.7"/>
<circle cx="214.8" cy="1158" r="8.7"/><circle cx="310" cy="1019" r="8.7"/><circle cx="347.8" cy="1082.4" r="8.7"/><circle cx="305.7" cy="1168.8" r="8.7"/><circle cx="249.6" cy="1123.4" r="8.7"/><circle cx="205" cy="1072.8" r="8.7"/>
<circle cx="363.6" cy="1245.3" r="8.7"/><circle cx="339.9" cy="1065.5" r="8.7"/><circle cx="453" cy="951.5" r="8.7"/><circle cx="440.6" cy="1105.2" r="8.7"/><circle cx="316" cy="1168.3" r="8.7"/><circle cx="399" cy="1011.3" r="8.7"/>
<circle cx="292.3" cy="1109.7" r="8.7"/><circle cx="197.3" cy="1121" r="8.7"/><circle cx="363.3" cy="1153.3" r="8.7"/><circle cx="241.6" cy="1126.4" r="8.7"/><circle cx="334.9" cy="1116.6" r="8.7"/><circle cx="374.1" cy="1123.1" r="8.7"/>
<circle cx="399.8" cy="1105.8" r="8.7"/><circle cx="321.6" cy="1091.9" r="8.7"/><circle cx="328.9" cy="1186.8" r="8.7"/><circle cx="385" cy="1192.4" r="8.7"/><circle cx="298.6" cy="1040.9" r="8.7"/><circle cx="392.3" cy="1084" r="8.7"/>
<circle cx="272" cy="1153.2" r="8.7"/><circle cx="309.6" cy="1070.8" r="8.7"/><circle cx="368.4" cy="1111.5" r="8.7"/><circle cx="397.7" cy="1071.4" r="8.7"/><circle cx="331" cy="1210.6" r="8.7"/><circle cx="230.6" cy="1092.3" r="8.7"/>
<circle cx="352.2" cy="1202.7" r="8.7"/><circle cx="297.9" cy="1102.6" r="8.7"/><circle cx="325.9" cy="1016.7" r="8.7"/><circle cx="332.6" cy="1194.6" r="8.7"/><circle cx="283" cy="1160.6" r="8.7"/><circle cx="341.5" cy="1070.6" r="8.7"/>
<circle cx="282.6" cy="1104.3" r="8.7"/><circle cx="339.6" cy="1085.2" r="8.7"/><circle cx="389.7" cy="1079" r="8.7"/><circle cx="242" cy="1229.7" r="8.7"/><circle cx="413.5" cy="1061.1" r="8.7"/><circle cx="289.1" cy="1147.6" r="8.7"/>
<circle cx="267.2" cy="1069.9" r="8.7"/><circle cx="336.9" cy="1078.7" r="8.7"/><circle cx="288.3" cy="1079.9" r="8.7"/><circle cx="290" cy="1070.1" r="8.7"/><circle cx="285.9" cy="1109.3" r="8.7"/><circle cx="315.7" cy="1128.1" r="8.7"/>
<circle cx="348" cy="1060.2" r="8.7"/><circle cx="288.8" cy="1134" r="8.7"/><circle cx="342.2" cy="1100.3" r="8.7"/><circle cx="244.4" cy="1064.5" r="8.7"/><circle cx="407.5" cy="1091.4" r="8.7"/><circle cx="267.7" cy="1172.3" r="8.7"/>
<circle cx="433.8" cy="1090.1" r="8.7"/><circle cx="406.5" cy="1024.6" r="8.7"/><circle cx="332.4" cy="1033.4" r="8.7"/><circle cx="434.2" cy="1060.2" r="8.7"/><circle cx="373.4" cy="1064.6" r="8.7"/><circle cx="316.5" cy="1108.1" r="8.7"/>
<circle cx="261.6" cy="1127.4" r="8.7"/><circle cx="242.9" cy="1006.6" r="8.7"/><circle cx="319.1" cy="1114.4" r="8.7"/><circle cx="290.2" cy="1151.3" r="8.7"/><circle cx="352.8" cy="1125.8" r="8.7"/><circle cx="468.4" cy="979.1" r="8.7"/>
<circle cx="280.3" cy="1130.2" r="8.7"/><circle cx="407" cy="1034.7" r="8.7"/><circle cx="461.5" cy="1106.3" r="8.7"/><circle cx="472.2" cy="989.3" r="8.7"/><circle cx="471.6" cy="899.9" r="8.7"/><circle cx="360.3" cy="1217.4" r="8.7"/>
<circle cx="374.6" cy="1080.5" r="8.7"/><circle cx="290.4" cy="1076.9" r="8.7"/><circle cx="332.2" cy="1199" r="8.7"/><circle cx="288" cy="1126.1" r="8.7"/><circle cx="432.5" cy="1033.3" r="8.7"/><circle cx="557.8" cy="977.8" r="8.7"/>
<circle cx="287" cy="1099.5" r="8.7"/><circle cx="362.9" cy="1102.9" r="8.7"/><circle cx="342" cy="1179.2" r="8.7"/><circle cx="394.1" cy="1180.5" r="8.7"/><circle cx="487.6" cy="1133.8" r="8.7"/><circle cx="266.3" cy="1109.2" r="8.7"/>
<circle cx="331.4" cy="1131.1" r="8.7"/><circle cx="262.7" cy="1097.3" r="8.7"/><circle cx="385.9" cy="994" r="8.7"/><circle cx="267.3" cy="1114.8" r="8.7"/><circle cx="306.5" cy="1133.4" r="8.7"/><circle cx="381.1" cy="1030.1" r="8.7"/>
<circle cx="281.3" cy="1106.6" r="8.7"/><circle cx="336.5" cy="1093" r="8.7"/><circle cx="453.5" cy="1155.3" r="8.7"/><circle cx="161.7" cy="1146.1" r="8.7"/><circle cx="340.4" cy="1157.5" r="8.7"/><circle cx="374.7" cy="1115.5" r="8.7"/>
<circle cx="302.2" cy="1124.9" r="8.7"/><circle cx="269.3" cy="1078.6" r="8.7"/><circle cx="288.1" cy="1019.6" r="8.7"/><circle cx="338.1" cy="1054.3" r="8.7"/><circle cx="419" cy="1011" r="8.7"/><circle cx="313.3" cy="1128.5" r="8.7"/>
<circle cx="480.9" cy="934.4" r="8.7"/><circle cx="294.6" cy="1138.5" r="8.7"/><circle cx="299.4" cy="1236.5" r="8.7"/><circle cx="349.6" cy="1054.4" r="8.7"/><circle cx="237.9" cy="1180.7" r="8.7"/><circle cx="511.9" cy="1007.5" r="8.7"/>
<circle cx="532.7" cy="930.6" r="8.7"/><circle cx="336.9" cy="1174.9" r="8.7"/><circle cx="287" cy="1185.2" r="8.7"/><circle cx="217.4" cy="1159.3" r="8.7"/><circle cx="447.5" cy="989.2" r="8.7"/><circle cx="358.7" cy="1057.5" r="8.7"/>
<circle cx="464.8" cy="994.4" r="8.7"/><circle cx="373.3" cy="1057.7" r="8.7"/><circle cx="327.1" cy="1089.8" r="8.7"/><circle cx="427" cy="1130.5" r="8.7"/><circle cx="384.4" cy="1123.2" r="8.7"/><circle cx="472.2" cy="1008.2" r="8.7"/>
<circle cx="386.6" cy="980.4" r="8.7"/><circle cx="335" cy="1135.2" r="8.7"/><circle cx="356.4" cy="1054.5" r="8.7"/><circle cx="394.8" cy="1063.8" r="8.7"/><circle cx="406.5" cy="1107.7" r="8.7"/><circle cx="344.1" cy="1223.8" r="8.7"/>
<circle cx="315.8" cy="1216.8" r="8.7"/><circle cx="216.7" cy="1152.4" r="8.7"/><circle cx="336.9" cy="1037.9" r="8.7"/><circle cx="454.4" cy="974.6" r="8.7"/><circle cx="429.3" cy="1065" r="8.7"/><circle cx="216.6" cy="1113.4" r="8.7"/>
<circle cx="302.5" cy="1235.8" r="8.7"/><circle cx="285.3" cy="1129.8" r="8.7"/><circle cx="412.6" cy="1129.4" r="8.7"/><circle cx="477.6" cy="1060.7" r="8.7"/><circle cx="321.8" cy="1025.2" r="8.7"/><circle cx="301.9" cy="1194.5" r="8.7"/>
<circle cx="237.7" cy="1164.6" r="8.7"/><circle cx="184.5" cy="1156.7" r="8.7"/><circle cx="497.5" cy="977.9" r="8.7"/><circle cx="406.8" cy="1028.6" r="8.7"/><circle cx="354.2" cy="1097.3" r="8.7"/><circle cx="452.4" cy="1091.1" r="8.7"/>
<circle cx="302.5" cy="1110.6" r="8.7"/><circle cx="246.2" cy="1173" r="8.7"/><circle cx="319" cy="1087.6" r="8.7"/><circle cx="364.7" cy="1146.7" r="8.7"/><circle cx="357.7" cy="1162.2" r="8.7"/><circle cx="301" cy="1142.9" r="8.7"/>
<circle cx="430.6" cy="1002.8" r="8.7"/><circle cx="294.2" cy="1080.6" r="8.7"/><circle cx="201" cy="1200.6" r="8.7"/><circle cx="182" cy="1210.5" r="8.7"/><circle cx="500.8" cy="962.9" r="8.7"/><circle cx="257.2" cy="1110.4" r="8.7"/>
<circle cx="262.3" cy="1154.2" r="8.7"/><circle cx="224.6" cy="1126" r="8.7"/><circle cx="302.6" cy="1065.8" r="8.7"/><circle cx="353.6" cy="1138.7" r="8.7"/><circle cx="416.4" cy="1029" r="8.7"/><circle cx="393.3" cy="1088.6" r="8.7"/>
<circle cx="415.8" cy="1077.2" r="8.7"/><circle cx="490" cy="1070.3" r="8.7"/><circle cx="345.4" cy="1161.4" r="8.7"/><circle cx="388.9" cy="1222.7" r="8.7"/><circle cx="340.7" cy="1042.6" r="8.7"/><circle cx="311.5" cy="1147.9" r="8.7"/>
<circle cx="397.2" cy="1057" r="8.7"/><circle cx="339.1" cy="1090.2" r="8.7"/><circle cx="251.4" cy="1231.1" r="8.7"/><circle cx="464.5" cy="1119.2" r="8.7"/><circle cx="448.9" cy="1089" r="8.7"/><circle cx="478.6" cy="914.5" r="8.7"/>
<circle cx="426.3" cy="924.5" r="8.7"/><circle cx="381.9" cy="1082.3" r="8.7"/><circle cx="308.5" cy="1147" r="8.7"/><circle cx="305.8" cy="1061.9" r="8.7"/><circle cx="197.2" cy="1229" r="8.7"/><circle cx="385.2" cy="1105.9" r="8.7"/>
<circle cx="451.5" cy="1013.6" r="8.7"/><circle cx="412.3" cy="1080.5" r="8.7"/><circle cx="405" cy="1080.5" r="8.7"/><circle cx="264.4" cy="1040" r="8.7"/><circle cx="336.9" cy="1102.3" r="8.7"/><circle cx="386.7" cy="1184.6" r="8.7"/>
<circle cx="439.9" cy="1109.5" r="8.7"/><circle cx="427" cy="1119.5" r="8.7"/><circle cx="271.3" cy="1033.4" r="8.7"/><circle cx="201.6" cy="1119.4" r="8.7"/><circle cx="334.6" cy="1109.8" r="8.7"/><circle cx="194.8" cy="1217.2" r="8.7"/>
<circle cx="251.8" cy="1183.3" r="8.7"/><circle cx="371" cy="1075.9" r="8.7"/><circle cx="470.5" cy="1093.3" r="8.7"/><circle cx="259.3" cy="1104" r="8.7"/><circle cx="240.2" cy="1096.8" r="8.7"/><circle cx="432.8" cy="911.9" r="8.7"/>
<circle cx="263" cy="1140.6" r="8.7"/><circle cx="240.3" cy="1080" r="8.7"/><circle cx="313.2" cy="1178" r="8.7"/><circle cx="547.2" cy="927.5" r="8.7"/><circle cx="447.6" cy="1094" r="8.7"/><circle cx="212.2" cy="1222.2" r="8.7"/>
<circle cx="547.7" cy="994.8" r="8.7"/><circle cx="421.7" cy="1055.9" r="8.7"/><circle cx="407.6" cy="1085.3" r="8.7"/><circle cx="254.1" cy="1168.4" r="8.7"/><circle cx="400" cy="1015.7" r="8.7"/><circle cx="446.1" cy="1066.3" r="8.7"/>
<circle cx="397.6" cy="1108.5" r="8.7"/><circle cx="184.5" cy="1191.2" r="8.7"/><circle cx="328.9" cy="1133" r="8.7"/><circle cx="460.1" cy="1054.3" r="8.7"/><circle cx="352.7" cy="1263.4" r="8.7"/><circle cx="512.2" cy="1067.5" r="8.7"/>
<circle cx="456.5" cy="1007.8" r="8.7"/><circle cx="173.6" cy="1241.5" r="8.7"/><circle cx="234.2" cy="1089.5" r="8.7"/><circle cx="362.9" cy="1129" r="8.7"/><circle cx="234.5" cy="1221.2" r="8.7"/><circle cx="397.8" cy="1093.3" r="8.7"/>
<circle cx="312.2" cy="1048.4" r="8.7"/><circle cx="334.2" cy="1074.6" r="8.7"/><circle cx="331.6" cy="1148.5" r="8.7"/><circle cx="257.9" cy="1239.4" r="8.7"/><circle cx="299.5" cy="1045.6" r="8.7"/><circle cx="234.6" cy="1209.6" r="8.7"/>
<circle cx="425.6" cy="1087.2" r="8.7"/><circle cx="409.8" cy="917.9" r="8.7"/><circle cx="472.2" cy="1050.6" r="8.7"/><circle cx="380.4" cy="1213.8" r="8.7"/><circle cx="372.9" cy="1241.4" r="8.7"/><circle cx="355" cy="1148.4" r="8.7"/>
<circle cx="429" cy="1030.2" r="8.7"/><circle cx="334.4" cy="1068.4" r="8.7"/><circle cx="383.8" cy="1101.2" r="8.7"/><circle cx="420.8" cy="1075.7" r="8.7"/><circle cx="279.3" cy="1037.2" r="8.7"/><circle cx="268.9" cy="1042.2" r="8.7"/>
<circle cx="453.9" cy="960.6" r="8.7"/><circle cx="485.4" cy="995.3" r="8.7"/><circle cx="310.7" cy="1216.7" r="8.7"/><circle cx="375" cy="1069" r="8.7"/><circle cx="515.4" cy="1014.6" r="8.7"/><circle cx="523.5" cy="955" r="8.7"/>
<circle cx="385.8" cy="1184.5" r="8.7"/><circle cx="354.5" cy="964.5" r="8.7"/><circle cx="514.2" cy="977.7" r="8.7"/><circle cx="346" cy="1111.3" r="8.7"/><circle cx="375.9" cy="1101.5" r="8.7"/><circle cx="321" cy="1085.9" r="8.7"/>
<circle cx="187.7" cy="1220.2" r="8.7"/><circle cx="350.5" cy="1124.7" r="8.7"/><circle cx="448.9" cy="1055.4" r="8.7"/><circle cx="348.2" cy="1059.9" r="8.7"/><circle cx="523" cy="983.9" r="8.7"/><circle cx="377.5" cy="1063.2" r="8.7"/>
<circle cx="478" cy="1030.6" r="8.7"/><circle cx="327.8" cy="1070.7" r="8.7"/><circle cx="391.3" cy="1174.6" r="8.7"/><circle cx="425.9" cy="1073.2" r="8.7"/><circle cx="202" cy="1195.7" r="8.7"/><circle cx="267.1" cy="1075.7" r="8.7"/>
<circle cx="448.8" cy="931.3" r="8.7"/><circle cx="432.5" cy="1010.3" r="8.7"/><circle cx="344.4" cy="1154.5" r="8.7"/><circle cx="424" cy="1139.9" r="8.7"/><circle cx="224.1" cy="1088.1" r="8.7"/><circle cx="365.7" cy="1038.6" r="8.7"/>
<circle cx="386.4" cy="1008.4" r="8.7"/><circle cx="249.2" cy="1067.5" r="8.7"/><circle cx="392.2" cy="1095.4" r="8.7"/><circle cx="306.7" cy="1147.6" r="8.7"/><circle cx="342.4" cy="1052.1" r="8.7"/><circle cx="426" cy="1001.9" r="8.7"/>
<circle cx="433.4" cy="1086.6" r="8.7"/><circle cx="283.5" cy="1056.4" r="8.7"/><circle cx="382.9" cy="1133.7" r="8.7"/><circle cx="407.2" cy="1157.7" r="8.7"/><circle cx="282.5" cy="1057.6" r="8.7"/><circle cx="442.1" cy="1013.4" r="8.7"/>
<circle cx="217.4" cy="1127.1" r="8.7"/><circle cx="369" cy="976.2" r="8.7"/><circle cx="273.2" cy="1086.4" r="8.7"/><circle cx="294.7" cy="1134.1" r="8.7"/><circle cx="428" cy="1011" r="8.7"/><circle cx="379.5" cy="1103.9" r="8.7"/>
<circle cx="450.2" cy="985.6" r="8.7"/><circle cx="425.6" cy="1082.5" r="8.7"/><circle cx="308.9" cy="1028.1" r="8.7"/><circle cx="355" cy="1066.7" r="8.7"/><circle cx="317.7" cy="1036.5" r="8.7"/><circle cx="381" cy="1113.1" r="8.7"/>
<circle cx="372.4" cy="1096" r="8.7"/><circle cx="405.6" cy="957" r="8.7"/><circle cx="436.2" cy="1021" r="8.7"/><circle cx="336.2" cy="1097.5" r="8.7"/><circle cx="465.3" cy="1047.1" r="8.7"/><circle cx="194.1" cy="1230.7" r="8.7"/>
<circle cx="277" cy="1148.5" r="8.7"/><circle cx="359.4" cy="1174.2" r="8.7"/><circle cx="296.9" cy="1012.7" r="8.7"/><circle cx="502.4" cy="965.7" r="8.7"/><circle cx="449.8" cy="957.9" r="8.7"/><circle cx="331.1" cy="1050.4" r="8.7"/>
<circle cx="486.6" cy="1028.5" r="8.7"/><circle cx="406.4" cy="976" r="8.7"/><circle cx="268.4" cy="1102.4" r="8.7"/><circle cx="384" cy="1082.4" r="8.7"/><circle cx="269.4" cy="1211.3" r="8.7"/><circle cx="198.3" cy="1170" r="8.7"/>
<circle cx="302.9" cy="1082.4" r="8.7"/><circle cx="284.7" cy="1141" r="8.7"/><circle cx="152.8" cy="1166.3" r="8.7"/><circle cx="496.1" cy="960.6" r="8.7"/><circle cx="160.9" cy="1132.3" r="8.7"/><circle cx="343.2" cy="1058.5" r="8.7"/>
<circle cx="202.1" cy="1234.8" r="8.7"/><circle cx="222.6" cy="1148" r="8.7"/><circle cx="343.1" cy="1019" r="8.7"/><circle cx="256.4" cy="1161.4" r="8.7"/><circle cx="268.9" cy="1138.3" r="8.7"/><circle cx="329.2" cy="1227.5" r="8.7"/>
<circle cx="332.5" cy="1142.9" r="8.7"/><circle cx="346.8" cy="1103" r="8.7"/><circle cx="476.6" cy="904.6" r="8.7"/><circle cx="330" cy="1128.5" r="8.7"/><circle cx="326.9" cy="1029.9" r="8.7"/><circle cx="341.2" cy="1082" r="8.7"/>
<circle cx="358.1" cy="1122.1" r="8.7"/><circle cx="460.7" cy="1001.5" r="8.7"/><circle cx="344.2" cy="1184.4" r="8.7"/><circle cx="278.9" cy="1166.1" r="8.7"/><circle cx="305.9" cy="1000.7" r="8.7"/><circle cx="369.1" cy="1068.2" r="8.7"/>
<circle cx="276.8" cy="1131.1" r="8.7"/><circle cx="328.5" cy="1059.7" r="8.7"/><circle cx="320.8" cy="1079.9" r="8.7"/><circle cx="326.3" cy="1129.6" r="8.7"/><circle cx="417.3" cy="1147.1" r="8.7"/><circle cx="469.8" cy="914.2" r="8.7"/>
<circle cx="366.3" cy="1105.4" r="8.7"/><circle cx="411.8" cy="994.3" r="8.7"/><circle cx="389.4" cy="1006.2" r="8.7"/><circle cx="276.4" cy="1008.6" r="8.7"/><circle cx="361.4" cy="1134.8" r="8.7"/><circle cx="330.6" cy="1063.3" r="8.7"/>
<circle cx="416.4" cy="1122.8" r="8.7"/><circle cx="332.3" cy="1155.9" r="8.7"/><circle cx="213.7" cy="1127.4" r="8.7"/><circle cx="487.3" cy="924.5" r="8.7"/><circle cx="283.9" cy="1163.6" r="8.7"/><circle cx="236.8" cy="1232.3" r="8.7"/>
<circle cx="364.1" cy="1004.8" r="8.7"/><circle cx="429.7" cy="1152.9" r="8.7"/><circle cx="319.8" cy="1233.1" r="8.7"/><circle cx="334.5" cy="1023" r="8.7"/><circle cx="245.3" cy="1196.6" r="8.7"/><circle cx="520" cy="957.7" r="8.7"/>
<circle cx="368.7" cy="1080.2" r="8.7"/><circle cx="276.4" cy="1208.5" r="8.7"/><circle cx="319.4" cy="1068.6" r="8.7"/><circle cx="326.1" cy="1044.9" r="8.7"/><circle cx="370.3" cy="1209.7" r="8.7"/><circle cx="255.1" cy="1165.7" r="8.7"/>
<circle cx="446.4" cy="1039.2" r="8.7"/><circle cx="248" cy="1076.3" r="8.7"/><circle cx="456" cy="1049.7" r="8.7"/><circle cx="365.9" cy="1099.1" r="8.7"/><circle cx="293.3" cy="1115.1" r="8.7"/><circle cx="462.7" cy="1083.6" r="8.7"/>
<circle cx="359.6" cy="1015.2" r="8.7"/><circle cx="418.8" cy="1117.2" r="8.7"/><circle cx="370.1" cy="1207.8" r="8.7"/><circle cx="430.9" cy="1072.9" r="8.7"/><circle cx="307.2" cy="1141.9" r="8.7"/><circle cx="238" cy="1114" r="8.7"/>
<circle cx="254.9" cy="1078.3" r="8.7"/><circle cx="268.7" cy="1118.2" r="8.7"/><circle cx="297.6" cy="1127.7" r="8.7"/><circle cx="291.6" cy="1153.4" r="8.7"/><circle cx="367.3" cy="1132.7" r="8.7"/><circle cx="408.9" cy="991.3" r="8.7"/>
<circle cx="380.3" cy="1041" r="8.7"/><circle cx="225.3" cy="1088.2" r="8.7"/><circle cx="275.9" cy="1106.4" r="8.7"/><circle cx="280.3" cy="1050.9" r="8.7"/><circle cx="400.7" cy="987.7" r="8.7"/><circle cx="403.4" cy="1116.2" r="8.7"/>
<circle cx="345.4" cy="1068.6" r="8.7"/><circle cx="393.5" cy="1166.5" r="8.7"/><circle cx="251.8" cy="1101.1" r="8.7"/><circle cx="271.5" cy="1034.8" r="8.7"/><circle cx="460.6" cy="1112.7" r="8.7"/><circle cx="341.4" cy="1120.7" r="8.7"/>
<circle cx="468.6" cy="1035.1" r="8.7"/><circle cx="389.9" cy="1001" r="8.7"/><circle cx="277.2" cy="1054.4" r="8.7"/><circle cx="287.3" cy="1014.3" r="8.7"/><circle cx="418.2" cy="988.7" r="8.7"/><circle cx="355.4" cy="1067.8" r="8.7"/>
<circle cx="380.9" cy="1084.8" r="8.7"/><circle cx="208.8" cy="1252.5" r="8.7"/><circle cx="283.7" cy="1177.7" r="8.7"/><circle cx="342.4" cy="1154" r="8.7"/><circle cx="298.9" cy="1067.2" r="8.7"/><circle cx="213" cy="1143.3" r="8.7"/>
<circle cx="272.3" cy="1213.2" r="8.7"/><circle cx="354.1" cy="988.5" r="8.7"/><circle cx="371.5" cy="1203.5" r="8.7"/><circle cx="214.7" cy="1222.1" r="8.7"/><circle cx="425.6" cy="998.8" r="8.7"/><circle cx="267.5" cy="1133.2" r="8.7"/>
<circle cx="305.2" cy="1015.7" r="8.7"/><circle cx="410.3" cy="1203.6" r="8.7"/><circle cx="251.4" cy="1257.8" r="8.7"/><circle cx="251.4" cy="1167.8" r="8.7"/><circle cx="364.3" cy="1037" r="8.7"/><circle cx="226.3" cy="1079.1" r="8.7"/>
<circle cx="212.9" cy="1116" r="8.7"/><circle cx="302.4" cy="1099.6" r="8.7"/><circle cx="355.2" cy="1120.1" r="8.7"/><circle cx="333.8" cy="1180" r="8.7"/><circle cx="279.7" cy="1080.9" r="8.7"/><circle cx="483.1" cy="913" r="8.7"/>
<circle cx="304.5" cy="1071.8" r="8.7"/><circle cx="331" cy="1225" r="8.7"/><circle cx="308.3" cy="1033.1" r="8.7"/><circle cx="383.4" cy="964.5" r="8.7"/><circle cx="365.1" cy="1133.8" r="8.7"/><circle cx="328.1" cy="1077.4" r="8.7"/>
<circle cx="451.5" cy="1006.9" r="8.7"/><circle cx="261.4" cy="1151" r="8.7"/><circle cx="425.2" cy="1155.4" r="8.7"/><circle cx="333.7" cy="1149.6" r="8.7"/><circle cx="330.2" cy="1082.2" r="8.7"/><circle cx="258.2" cy="1138.2" r="8.7"/>
<circle cx="374.7" cy="1033.5" r="8.7"/><circle cx="303.7" cy="1176.6" r="8.7"/><circle cx="330.5" cy="1088.1" r="8.7"/><circle cx="314.4" cy="1104.8" r="8.7"/><circle cx="337.1" cy="1074.3" r="8.7"/><circle cx="235.6" cy="1081.9" r="8.7"/>
<circle cx="226.6" cy="1184.9" r="8.7"/><circle cx="442" cy="1114.3" r="8.7"/><circle cx="283.3" cy="1187.3" r="8.7"/><circle cx="359.5" cy="1106.4" r="8.7"/><circle cx="244.4" cy="1140.1" r="8.7"/><circle cx="342.2" cy="1161.4" r="8.7"/>
<circle cx="333.8" cy="996.4" r="8.7"/><circle cx="350.3" cy="1052.8" r="8.7"/><circle cx="328" cy="1123.5" r="8.7"/><circle cx="358.8" cy="1054.3" r="8.7"/><circle cx="275.2" cy="1121.4" r="8.7"/><circle cx="333.2" cy="1066.4" r="8.7"/>
<circle cx="322.2" cy="972.6" r="8.7"/><circle cx="329.2" cy="1067.4" r="8.7"/><circle cx="354" cy="1007" r="8.7"/><circle cx="310.9" cy="1021.3" r="8.7"/><circle cx="345.3" cy="1025.3" r="8.7"/><circle cx="380.2" cy="1036.6" r="8.7"/>
<circle cx="252.3" cy="1125.3" r="8.7"/><circle cx="504.1" cy="943.6" r="8.7"/><circle cx="402.8" cy="1149.2" r="8.7"/><circle cx="396.9" cy="1029.1" r="8.7"/><circle cx="208.6" cy="1251.5" r="8.7"/><circle cx="268.1" cy="1041.9" r="8.7"/>
<circle cx="436.9" cy="1032.8" r="8.7"/><circle cx="412.7" cy="1126.3" r="8.7"/><circle cx="423.3" cy="939.5" r="8.7"/><circle cx="426.4" cy="1183.3" r="8.7"/><circle cx="452.2" cy="973.2" r="8.7"/><circle cx="292.4" cy="1081.1" r="8.7"/>
<circle cx="391.3" cy="1111.6" r="8.7"/><circle cx="377.3" cy="1130.5" r="8.7"/><circle cx="430.3" cy="957.8" r="8.7"/><circle cx="361.2" cy="1040.9" r="8.7"/><circle cx="452.1" cy="1085.3" r="8.7"/><circle cx="531.3" cy="1001.4" r="8.7"/>
<circle cx="330.4" cy="1097.8" r="8.7"/><circle cx="313.1" cy="1180.2" r="8.7"/><circle cx="284.6" cy="1175.4" r="8.7"/><circle cx="444.8" cy="1011.2" r="8.7"/><circle cx="303.3" cy="1227.8" r="8.7"/><circle cx="407" cy="1036.1" r="8.7"/>
<circle cx="461.6" cy="967.1" r="8.7"/><circle cx="371.3" cy="1030.3" r="8.7"/><circle cx="477.1" cy="1048.2" r="8.7"/><circle cx="355.8" cy="1149.8" r="8.7"/><circle cx="369.4" cy="1144.7" r="8.7"/><circle cx="362.5" cy="997.3" r="8.7"/>
<circle cx="176" cy="1173.4" r="8.7"/><circle cx="395.7" cy="1119.4" r="8.7"/><circle cx="497.9" cy="981.4" r="8.7"/><circle cx="258.8" cy="1084.1" r="8.7"/><circle cx="288.4" cy="1154.6" r="8.7"/><circle cx="278.3" cy="1056" r="8.7"/>
<circle cx="236.7" cy="1159.1" r="8.7"/><circle cx="303" cy="1079.9" r="8.7"/><circle cx="417.9" cy="1118" r="8.7"/><circle cx="387.5" cy="1095.9" r="8.7"/><circle cx="290.8" cy="1076.7" r="8.7"/><circle cx="329.3" cy="980.6" r="8.7"/>
<circle cx="350.2" cy="1034.5" r="8.7"/><circle cx="306" cy="1001" r="8.7"/><circle cx="168.7" cy="1123.2" r="8.7"/><circle cx="245.8" cy="1148.3" r="8.7"/><circle cx="420.5" cy="1006.8" r="8.7"/><circle cx="530.5" cy="1036.3" r="8.7"/>
<circle cx="346.1" cy="1211.5" r="8.7"/><circle cx="329.7" cy="1101.3" r="8.7"/><circle cx="276.6" cy="1054.7" r="8.7"/><circle cx="241.4" cy="1178.7" r="8.7"/><circle cx="357" cy="980.9" r="8.7"/><circle cx="394.2" cy="1056.5" r="8.7"/>
<circle cx="341.1" cy="1088.3" r="8.7"/><circle cx="438.3" cy="1105.1" r="8.7"/><circle cx="314.7" cy="1190.4" r="8.7"/><circle cx="350.6" cy="973.3" r="8.7"/><circle cx="436" cy="1079" r="8.7"/><circle cx="409.6" cy="996.9" r="8.7"/>
<circle cx="364.2" cy="1251.2" r="8.7"/><circle cx="490.8" cy="954.7" r="8.7"/><circle cx="341.6" cy="1069" r="8.7"/><circle cx="440.9" cy="956.2" r="8.7"/><circle cx="226.8" cy="1145.4" r="8.7"/><circle cx="315.2" cy="1022" r="8.7"/>
<circle cx="344.7" cy="1154.6" r="8.7"/><circle cx="227.2" cy="1171.5" r="8.7"/><circle cx="443.8" cy="1057.4" r="8.7"/><circle cx="420.8" cy="1111.2" r="8.7"/><circle cx="374.4" cy="1095" r="8.7"/><circle cx="350.4" cy="1106.8" r="8.7"/>
<circle cx="498.1" cy="1039.6" r="8.7"/><circle cx="401.4" cy="1100.8" r="8.7"/><circle cx="377.3" cy="1026.4" r="8.7"/><circle cx="366.2" cy="1012.4" r="8.7"/><circle cx="344.5" cy="1004.2" r="8.7"/><circle cx="343.2" cy="1162" r="8.7"/>
<circle cx="460.9" cy="1026.2" r="8.7"/><circle cx="409.5" cy="1079.5" r="8.7"/><circle cx="386.2" cy="1096.3" r="8.7"/><circle cx="492.6" cy="1058.7" r="8.7"/><circle cx="375.3" cy="1216.8" r="8.7"/><circle cx="213" cy="1192.8" r="8.7"/>
<circle cx="260.1" cy="1128.8" r="8.7"/><circle cx="534.5" cy="955.9" r="8.7"/><circle cx="499.5" cy="1065.6" r="8.7"/><circle cx="423.8" cy="1047.7" r="8.7"/><circle cx="460.5" cy="1010.7" r="8.7"/><circle cx="354.1" cy="1002.1" r="8.7"/>
<circle cx="252.1" cy="1127.7" r="8.7"/><circle cx="405" cy="1028" r="8.7"/><circle cx="235.8" cy="1179.1" r="8.7"/><circle cx="433.8" cy="1070.7" r="8.7"/><circle cx="319.7" cy="982.8" r="8.7"/><circle cx="534" cy="988.6" r="8.7"/>
<circle cx="268.7" cy="1149.8" r="8.7"/><circle cx="221.2" cy="1129.1" r="8.7"/><circle cx="329.8" cy="1206.3" r="8.7"/><circle cx="345.8" cy="1102.6" r="8.7"/><circle cx="228.4" cy="1090.4" r="8.7"/><circle cx="297.7" cy="1091.7" r="8.7"/>
<circle cx="307.5" cy="1198.1" r="8.7"/><circle cx="481.1" cy="1025.9" r="8.7"/><circle cx="355.9" cy="1087.1" r="8.7"/><circle cx="420.7" cy="1003.2" r="8.7"/><circle cx="258" cy="1153.8" r="8.7"/><circle cx="349.4" cy="1155" r="8.7"/>
<circle cx="336.3" cy="1189.6" r="8.7"/><circle cx="369.4" cy="1199.1" r="8.7"/><circle cx="429.5" cy="1044.7" r="8.7"/><circle cx="338" cy="1224" r="8.7"/><circle cx="356.3" cy="1102.4" r="8.7"/><circle cx="242.6" cy="1118.3" r="8.7"/>
<circle cx="292.2" cy="1173.7" r="8.7"/><circle cx="419.5" cy="1016.5" r="8.7"/><circle cx="309.8" cy="1085.7" r="8.7"/><circle cx="382.2" cy="1196.7" r="8.7"/><circle cx="266.2" cy="1117.1" r="8.7"/><circle cx="448.1" cy="909.2" r="8.7"/>
<circle cx="354.1" cy="1026.9" r="8.7"/><circle cx="287.7" cy="1161" r="8.7"/><circle cx="486" cy="1018.3" r="8.7"/><circle cx="193.2" cy="1269.3" r="8.7"/><circle cx="317.8" cy="1169.1" r="8.7"/><circle cx="452" cy="952.4" r="8.7"/>
<circle cx="452.1" cy="1039.8" r="8.7"/><circle cx="380.4" cy="1130.8" r="8.7"/><circle cx="278.5" cy="1236" r="8.7"/><circle cx="346.6" cy="1116.4" r="8.7"/><circle cx="405" cy="1065.5" r="8.7"/><circle cx="301.1" cy="1019.3" r="8.7"/>
<circle cx="518.2" cy="895.1" r="8.7"/><circle cx="208.4" cy="1255.4" r="8.7"/><circle cx="312.7" cy="1115.9" r="8.7"/><circle cx="345" cy="1118.2" r="8.7"/><circle cx="371.5" cy="1056.6" r="8.7"/><circle cx="360.7" cy="1220.8" r="8.7"/>
<circle cx="552.8" cy="989.8" r="8.7"/><circle cx="465.5" cy="997.9" r="8.7"/><circle cx="294.9" cy="1051.9" r="8.7"/><circle cx="419.6" cy="1051" r="8.7"/><circle cx="341.3" cy="1108.6" r="8.7"/><circle cx="286" cy="1153.6" r="8.7"/>
<circle cx="322.3" cy="1187" r="8.7"/><circle cx="252.2" cy="1084.1" r="8.7"/><circle cx="196.9" cy="1146.6" r="8.7"/><circle cx="281" cy="1122.3" r="8.7"/><circle cx="338.9" cy="1133.9" r="8.7"/><circle cx="229.7" cy="1078.4" r="8.7"/>
<circle cx="324.5" cy="992.9" r="8.7"/><circle cx="282.4" cy="1083" r="8.7"/><circle cx="250" cy="1142.7" r="8.7"/><circle cx="290.2" cy="1162.4" r="8.7"/><circle cx="489.8" cy="1030.3" r="8.7"/><circle cx="330.2" cy="1175.9" r="8.7"/>
<circle cx="195.1" cy="1057.4" r="8.7"/><circle cx="288.3" cy="1142" r="8.7"/><circle cx="451.4" cy="983.4" r="8.7"/><circle cx="424.3" cy="1101.3" r="8.7"/><circle cx="320.5" cy="1137.5" r="8.7"/><circle cx="482" cy="962.7" r="8.7"/>
<circle cx="518.7" cy="950.8" r="8.7"/><circle cx="450.6" cy="875.7" r="8.7"/><circle cx="274.5" cy="1109.4" r="8.7"/><circle cx="506.9" cy="964.8" r="8.7"/><circle cx="554.6" cy="917.6" r="8.7"/><circle cx="407.7" cy="963.1" r="8.7"/>
<circle cx="431.9" cy="981" r="8.7"/><circle cx="523.9" cy="890.6" r="8.7"/><circle cx="463.1" cy="973.6" r="8.7"/><circle cx="424" cy="948.8" r="8.7"/><circle cx="461.5" cy="1007.1" r="8.7"/><circle cx="545.5" cy="920.2" r="8.7"/>
<circle cx="427" cy="959.7" r="8.7"/><circle cx="377.7" cy="999.5" r="8.7"/><circle cx="470.5" cy="903.1" r="8.7"/><circle cx="504.3" cy="999.9" r="8.7"/><circle cx="463.4" cy="937.7" r="8.7"/><circle cx="511.4" cy="977.5" r="8.7"/>
<circle cx="521.1" cy="926" r="8.7"/><circle cx="409.6" cy="1011.6" r="8.7"/><circle cx="400.8" cy="1082.6" r="8.7"/><circle cx="526.1" cy="938.2" r="8.7"/><circle cx="487.6" cy="926.4" r="8.7"/><circle cx="446.4" cy="958" r="8.7"/>
<circle cx="378.9" cy="948.1" r="8.7"/><circle cx="387.7" cy="1040" r="8.7"/><circle cx="477.8" cy="956.3" r="8.7"/><circle cx="428.9" cy="1025.5" r="8.7"/><circle cx="510" cy="949.6" r="8.7"/><circle cx="483.2" cy="968.4" r="8.7"/>
<circle cx="478.7" cy="943.6" r="8.7"/><circle cx="485.4" cy="911.4" r="8.7"/><circle cx="529" cy="916.1" r="8.7"/><circle cx="478" cy="986.7" r="8.7"/><circle cx="468.5" cy="1025.1" r="8.7"/><circle cx="451.2" cy="923.6" r="8.7"/>
<circle cx="399.9" cy="1044.7" r="8.7"/><circle cx="521.3" cy="944.6" r="8.7"/><circle cx="435.4" cy="948.4" r="8.7"/><circle cx="448.9" cy="902.3" r="8.7"/><circle cx="476.7" cy="1048.1" r="8.7"/><circle cx="409.1" cy="951.7" r="8.7"/>
<circle cx="465.8" cy="882" r="8.7"/><circle cx="479.4" cy="1026.1" r="8.7"/><circle cx="526.4" cy="899.5" r="8.7"/><circle cx="494.1" cy="1034.7" r="8.7"/><circle cx="418.6" cy="1018.2" r="8.7"/><circle cx="453.8" cy="995.8" r="8.7"/>
<circle cx="462.1" cy="915.4" r="8.7"/><circle cx="262.8" cy="1059" r="8.7"/><circle cx="486.1" cy="936.5" r="8.7"/><circle cx="402.5" cy="969.8" r="8.7"/><circle cx="529.7" cy="904" r="8.7"/><circle cx="481" cy="924.4" r="8.7"/>
<circle cx="459.8" cy="947.2" r="8.7"/><circle cx="478" cy="1043.5" r="8.7"/><circle cx="465.1" cy="962.2" r="8.7"/><circle cx="447.6" cy="951.1" r="8.7"/><circle cx="496.2" cy="897.7" r="8.7"/><circle cx="464.4" cy="1045.1" r="8.7"/>
<circle cx="418.4" cy="894.1" r="8.7"/><circle cx="518.8" cy="916.1" r="8.7"/><circle cx="483.9" cy="898" r="8.7"/><circle cx="425.1" cy="949.3" r="8.7"/><circle cx="451.6" cy="953.9" r="8.7"/><circle cx="429.1" cy="981.7" r="8.7"/>
<circle cx="399.7" cy="1026.2" r="8.7"/><circle cx="508.1" cy="952.2" r="8.7"/><circle cx="457.1" cy="905.3" r="8.7"/><circle cx="503.2" cy="916.2" r="8.7"/><circle cx="373.6" cy="1069" r="8.7"/><circle cx="448.3" cy="1095.6" r="8.7"/>
<circle cx="410.7" cy="989.5" r="8.7"/><circle cx="427.4" cy="1057.6" r="8.7"/><circle cx="494.6" cy="1021.6" r="8.7"/><circle cx="510.8" cy="980.7" r="8.7"/><circle cx="471.8" cy="955.4" r="8.7"/><circle cx="423.6" cy="879.3" r="8.7"/>
<circle cx="509" cy="876.8" r="8.7"/><circle cx="383.6" cy="953.8" r="8.7"/><circle cx="515.8" cy="912.5" r="8.7"/><circle cx="503.8" cy="924.8" r="8.7"/><circle cx="534.5" cy="997.1" r="8.7"/><circle cx="446.9" cy="910.3" r="8.7"/>
<circle cx="469.1" cy="961.2" r="8.7"/><circle cx="413.4" cy="908.2" r="8.7"/><circle cx="439.7" cy="1094.2" r="8.7"/><circle cx="441.7" cy="930.8" r="8.7"/><circle cx="482.2" cy="990.8" r="8.7"/><circle cx="502.8" cy="930.6" r="8.7"/>
<circle cx="492.1" cy="954.2" r="8.7"/><circle cx="430.8" cy="980" r="8.7"/><circle cx="462.4" cy="937.2" r="8.7"/><circle cx="458.9" cy="918.4" r="8.7"/><circle cx="476.3" cy="971.2" r="8.7"/><circle cx="447.1" cy="875.6" r="8.7"/>
<circle cx="482.5" cy="906.1" r="8.7"/><circle cx="416.6" cy="993.2" r="8.7"/><circle cx="403.1" cy="962.7" r="8.7"/><circle cx="540.5" cy="980.3" r="8.7"/><circle cx="445.2" cy="913.1" r="8.7"/><circle cx="508.4" cy="889.5" r="8.7"/>
<circle cx="487.5" cy="903.7" r="8.7"/><circle cx="433.4" cy="950.9" r="8.7"/><circle cx="488.3" cy="948.5" r="8.7"/><circle cx="446.9" cy="935.1" r="8.7"/><circle cx="388.2" cy="951.2" r="8.7"/><circle cx="511.8" cy="919.8" r="8.7"/>
<circle cx="486.8" cy="960.5" r="8.7"/><circle cx="420.7" cy="1016.9" r="8.7"/><circle cx="556.3" cy="967.1" r="8.7"/><circle cx="402.6" cy="915.2" r="8.7"/><circle cx="469.3" cy="906.9" r="8.7"/><circle cx="506.7" cy="889.9" r="8.7"/>
<circle cx="485.1" cy="977.3" r="8.7"/><circle cx="435.7" cy="961.9" r="8.7"/><circle cx="389" cy="982.2" r="8.7"/><circle cx="464.9" cy="1001.2" r="8.7"/><circle cx="450.8" cy="913.4" r="8.7"/><circle cx="465.8" cy="964.8" r="8.7"/>
<circle cx="381.3" cy="940.6" r="8.7"/><circle cx="434.4" cy="951.7" r="8.7"/><circle cx="448.1" cy="894.5" r="8.7"/><circle cx="341.3" cy="968.1" r="8.7"/><circle cx="511.6" cy="906.7" r="8.7"/><circle cx="476.1" cy="895.4" r="8.7"/>
<circle cx="489.2" cy="1015.7" r="8.7"/><circle cx="487.5" cy="915.6" r="8.7"/><circle cx="492.3" cy="1009.4" r="8.7"/><circle cx="458.9" cy="922" r="8.7"/><circle cx="492.3" cy="932.8" r="8.7"/><circle cx="443.8" cy="1005.6" r="8.7"/>
<circle cx="356.5" cy="1017.8" r="8.7"/><circle cx="432.4" cy="925.7" r="8.7"/><circle cx="388.4" cy="1009.4" r="8.7"/><circle cx="513.4" cy="917.3" r="8.7"/><circle cx="525.8" cy="966.2" r="8.7"/><circle cx="495.2" cy="933.1" r="8.7"/>
<circle cx="413.8" cy="989.8" r="8.7"/><circle cx="465.5" cy="993.4" r="8.7"/><circle cx="534.2" cy="998" r="8.7"/><circle cx="533" cy="997.7" r="8.7"/><circle cx="504.7" cy="998.4" r="8.7"/><circle cx="485.3" cy="1049.7" r="8.7"/>
<circle cx="361.8" cy="967" r="8.7"/><circle cx="504.6" cy="968.1" r="8.7"/><circle cx="498.5" cy="897.8" r="8.7"/><circle cx="510.9" cy="940.9" r="8.7"/><circle cx="487.4" cy="911.6" r="8.7"/><circle cx="517.5" cy="892.5" r="8.7"/>
<circle cx="501" cy="914.9" r="8.7"/><circle cx="498.1" cy="967.5" r="8.7"/><circle cx="477.4" cy="972.2" r="8.7"/><circle cx="447.8" cy="988.4" r="8.7"/><circle cx="477.7" cy="968.7" r="8.7"/><circle cx="374.6" cy="985.8" r="8.7"/>
<circle cx="337.6" cy="986" r="8.7"/><circle cx="481.2" cy="962.3" r="8.7"/><circle cx="525" cy="983.2" r="8.7"/><circle cx="340.7" cy="1035.1" r="8.7"/><circle cx="394.9" cy="1031.8" r="8.7"/><circle cx="400.8" cy="987.9" r="8.7"/>
<circle cx="407.9" cy="976.9" r="8.7"/><circle cx="433.4" cy="1025.6" r="8.7"/><circle cx="513.5" cy="943.8" r="8.7"/><circle cx="468.4" cy="1002.7" r="8.7"/><circle cx="428.7" cy="1001.3" r="8.7"/><circle cx="467.3" cy="940.8" r="8.7"/>
<circle cx="499.1" cy="919.7" r="8.7"/><circle cx="364.8" cy="999.4" r="8.7"/><circle cx="450.8" cy="996.4" r="8.7"/><circle cx="410" cy="954.6" r="8.7"/><circle cx="509.3" cy="932.5" r="8.7"/><circle cx="429.8" cy="1050.6" r="8.7"/>
<circle cx="409.6" cy="963.3" r="8.7"/><circle cx="534.8" cy="935.1" r="8.7"/><circle cx="460.5" cy="1088.7" r="8.7"/><circle cx="551" cy="966.4" r="8.7"/><circle cx="363.5" cy="967.9" r="8.7"/><circle cx="488.4" cy="940.3" r="8.7"/>
<circle cx="530.4" cy="1016.9" r="8.7"/><circle cx="479.8" cy="1040.9" r="8.7"/><circle cx="512.8" cy="1003" r="8.7"/><circle cx="524.5" cy="923.3" r="8.7"/><circle cx="464.5" cy="914.9" r="8.7"/><circle cx="412.8" cy="1011.2" r="8.7"/>
<circle cx="506.5" cy="971.8" r="8.7"/><circle cx="505.6" cy="968.3" r="8.7"/><circle cx="502.4" cy="953.6" r="8.7"/><circle cx="476.7" cy="1042.9" r="8.7"/><circle cx="471.6" cy="936.8" r="8.7"/><circle cx="416.7" cy="966.9" r="8.7"/>
<circle cx="406" cy="1092.4" r="8.7"/><circle cx="378.2" cy="950.2" r="8.7"/><circle cx="358.7" cy="986.6" r="8.7"/><circle cx="408.3" cy="1033.1" r="8.7"/><circle cx="499.3" cy="935.1" r="8.7"/><circle cx="436.3" cy="890.3" r="8.7"/>
<circle cx="495.3" cy="995.5" r="8.7"/><circle cx="423.9" cy="967.6" r="8.7"/><circle cx="442.4" cy="917.6" r="8.7"/><circle cx="482.7" cy="957.9" r="8.7"/><circle cx="390.3" cy="944" r="8.7"/><circle cx="471.1" cy="974.7" r="8.7"/>
<circle cx="467.8" cy="1049.7" r="8.7"/><circle cx="522.9" cy="985.1" r="8.7"/><circle cx="521.2" cy="1023.6" r="8.7"/><circle cx="411.2" cy="988.4" r="8.7"/><circle cx="510.8" cy="906.2" r="8.7"/><circle cx="463.8" cy="1013.3" r="8.7"/>
<circle cx="466.8" cy="946.9" r="8.7"/><circle cx="399.4" cy="978.8" r="8.7"/><circle cx="499.3" cy="910.9" r="8.7"/><circle cx="443.5" cy="978" r="8.7"/><circle cx="437.2" cy="870.8" r="8.7"/><circle cx="371.5" cy="1035" r="8.7"/>
<circle cx="433.6" cy="920.4" r="8.7"/><circle cx="378.7" cy="984.8" r="8.7"/><circle cx="511.1" cy="983.3" r="8.7"/><circle cx="494.9" cy="971.5" r="8.7"/><circle cx="397.4" cy="939.8" r="8.7"/><circle cx="437.3" cy="970.2" r="8.7"/>
<circle cx="427.3" cy="940.1" r="8.7"/><circle cx="461.3" cy="1042.6" r="8.7"/><circle cx="548.7" cy="999.4" r="8.7"/><circle cx="521.9" cy="959.6" r="8.7"/><circle cx="480.8" cy="924.3" r="8.7"/><circle cx="475.6" cy="939.3" r="8.7"/>
<circle cx="213.6" cy="1192.3" r="8.7"/><circle cx="310.4" cy="1151.3" r="8.7"/><circle cx="296.7" cy="1225.3" r="8.7"/><circle cx="183" cy="1195.9" r="8.7"/><circle cx="336.6" cy="1206.3" r="8.7"/><circle cx="349" cy="1194.6" r="8.7"/>
<circle cx="348.4" cy="1237.1" r="8.7"/><circle cx="252.7" cy="1207.6" r="8.7"/><circle cx="370.9" cy="1176.8" r="8.7"/><circle cx="255.5" cy="1234.3" r="8.7"/><circle cx="417.6" cy="1188.6" r="8.7"/><circle cx="300.2" cy="1197.7" r="8.7"/>
<circle cx="344.1" cy="1215.8" r="8.7"/><circle cx="248.2" cy="1241.2" r="8.7"/><circle cx="317.5" cy="1213.9" r="8.7"/><circle cx="359.4" cy="1232" r="8.7"/><circle cx="348.7" cy="1176.7" r="8.7"/><circle cx="369.5" cy="1165.9" r="8.7"/>
<circle cx="283.4" cy="1240.4" r="8.7"/><circle cx="243" cy="1224.2" r="8.7"/><circle cx="358.4" cy="1166.6" r="8.7"/><circle cx="404.6" cy="1126.3" r="8.7"/><circle cx="299" cy="1196.9" r="8.7"/><circle cx="290.2" cy="1146.3" r="8.7"/>
<circle cx="315.8" cy="1206.2" r="8.7"/><circle cx="340.4" cy="1157.7" r="8.7"/><circle cx="304.6" cy="1227.7" r="8.7"/><circle cx="330.9" cy="1181.9" r="8.7"/><circle cx="427.7" cy="1102.3" r="8.7"/><circle cx="315.3" cy="1232.9" r="8.7"/>
<circle cx="267.2" cy="1244.7" r="8.7"/><circle cx="338.4" cy="1231.7" r="8.7"/><circle cx="423.7" cy="1216.2" r="8.7"/><circle cx="376.5" cy="1183.3" r="8.7"/><circle cx="288.6" cy="1199.2" r="8.7"/><circle cx="282.9" cy="1223.8" r="8.7"/>
<circle cx="345.2" cy="1233.9" r="8.7"/><circle cx="332" cy="1176.2" r="8.7"/><circle cx="304.2" cy="1197.5" r="8.7"/><circle cx="397.7" cy="1243.8" r="8.7"/><circle cx="389.9" cy="1238.6" r="8.7"/><circle cx="195.5" cy="1159.8" r="8.7"/>
<circle cx="347.2" cy="1171.8" r="8.7"/><circle cx="423.4" cy="1122.6" r="8.7"/><circle cx="284.9" cy="1219.7" r="8.7"/><circle cx="296.1" cy="1215" r="8.7"/><circle cx="360.4" cy="1192" r="8.7"/><circle cx="339.8" cy="1172.5" r="8.7"/>
<circle cx="355.6" cy="1200.8" r="8.7"/><circle cx="187.4" cy="1179.6" r="8.7"/><circle cx="347.1" cy="1205.8" r="8.7"/><circle cx="390.6" cy="1236.4" r="8.7"/><circle cx="262.4" cy="1145.2" r="8.7"/><circle cx="431.2" cy="1189.7" r="8.7"/>
<circle cx="244.7" cy="1200.5" r="8.7"/><circle cx="430" cy="1235.1" r="8.7"/><circle cx="356.1" cy="1197.7" r="8.7"/><circle cx="332.8" cy="1248.9" r="8.7"/><circle cx="213.4" cy="1237.1" r="8.7"/><circle cx="254.6" cy="1254.5" r="8.7"/>
<circle cx="199.6" cy="1245.2" r="8.7"/><circle cx="186.6" cy="1276.4" r="8.7"/><circle cx="288" cy="1166.6" r="8.7"/><circle cx="439.1" cy="1232.6" r="8.7"/><circle cx="291.8" cy="1233.7" r="8.7"/><circle cx="303.8" cy="1135.2" r="8.7"/>
<circle cx="255.6" cy="1234.8" r="8.7"/><circle cx="278.3" cy="1183.9" r="8.7"/><circle cx="322.2" cy="1174.4" r="8.7"/><circle cx="296.5" cy="1161.6" r="8.7"/><circle cx="213.4" cy="1203.2" r="8.7"/><circle cx="360" cy="1197.8" r="8.7"/>
<circle cx="397.7" cy="1197.7" r="8.7"/><circle cx="388.4" cy="1148.3" r="8.7"/><circle cx="426.1" cy="1174.5" r="8.7"/><circle cx="405.1" cy="1221.4" r="8.7"/><circle cx="308.2" cy="1148.1" r="8.7"/><circle cx="268.3" cy="1225.4" r="8.7"/>
<circle cx="398.2" cy="1206.2" r="8.7"/><circle cx="233.2" cy="1193.7" r="8.7"/><circle cx="233.5" cy="1157.6" r="8.7"/><circle cx="275.4" cy="1200.6" r="8.7"/><circle cx="308.1" cy="1185.4" r="8.7"/><circle cx="224.8" cy="1270.9" r="8.7"/>
<circle cx="226.3" cy="1179.7" r="8.7"/><circle cx="329.1" cy="1174.8" r="8.7"/><circle cx="278.7" cy="1215" r="8.7"/><circle cx="268.5" cy="1185.8" r="8.7"/><circle cx="440.8" cy="1170.3" r="8.7"/><circle cx="348" cy="1200.9" r="8.7"/>
<circle cx="380.7" cy="1124.5" r="8.7"/><circle cx="398.9" cy="1155.3" r="8.7"/><circle cx="230.9" cy="1214.9" r="8.7"/><circle cx="225.1" cy="1200" r="8.7"/><circle cx="238.3" cy="1148.8" r="8.7"/><circle cx="391.7" cy="1188.1" r="8.7"/>
<circle cx="439.4" cy="1243.6" r="8.7"/><circle cx="360.5" cy="1234.5" r="8.7"/><circle cx="345.2" cy="1204.2" r="8.7"/><circle cx="356.1" cy="1242.8" r="8.7"/><circle cx="258.9" cy="1198.6" r="8.7"/><circle cx="214.8" cy="1245" r="8.7"/>
<circle cx="364.2" cy="1236.8" r="8.7"/><circle cx="360.3" cy="1192.6" r="8.7"/><circle cx="339" cy="1182" r="8.7"/><circle cx="423.3" cy="1128.2" r="8.7"/><circle cx="395.1" cy="1252.7" r="8.7"/><circle cx="241.9" cy="1189.1" r="8.7"/>
<circle cx="331.4" cy="1188.6" r="8.7"/><circle cx="341.8" cy="1243.9" r="8.7"/><circle cx="197.1" cy="1135.7" r="8.7"/><circle cx="226.6" cy="1150.8" r="8.7"/><circle cx="203.2" cy="1077.1" r="8.7"/><circle cx="239.4" cy="1191.2" r="8.7"/>
<circle cx="276.4" cy="1140.1" r="8.7"/><circle cx="199.2" cy="1128.4" r="8.7"/><circle cx="278.2" cy="1243.7" r="8.7"/><circle cx="202.4" cy="1091.5" r="8.7"/><circle cx="181.9" cy="1099.7" r="8.7"/><circle cx="183.2" cy="1083.9" r="8.7"/>
<circle cx="166.6" cy="1189.4" r="8.7"/><circle cx="216.3" cy="1180.9" r="8.7"/><circle cx="162.5" cy="1155.2" r="8.7"/><circle cx="179.1" cy="1206.7" r="8.7"/><circle cx="187" cy="1076.6" r="8.7"/><circle cx="187.7" cy="1134.5" r="8.7"/>
<circle cx="228.2" cy="1167" r="8.7"/><circle cx="211.9" cy="1172.7" r="8.7"/><circle cx="215.2" cy="1214" r="8.7"/><circle cx="247.5" cy="1164.3" r="8.7"/><circle cx="176.7" cy="1139.2" r="8.7"/><circle cx="175" cy="1214.9" r="8.7"/>
<circle cx="211.7" cy="1139.6" r="8.7"/><circle cx="175" cy="1204.4" r="8.7"/><circle cx="232.8" cy="1097.8" r="8.7"/><circle cx="194" cy="1237.8" r="8.7"/><circle cx="199.7" cy="1118.7" r="8.7"/><circle cx="175.8" cy="1121.8" r="8.7"/>
<circle cx="220" cy="1147.3" r="8.7"/><circle cx="283.8" cy="1161.5" r="8.7"/><circle cx="262.6" cy="1079.7" r="8.7"/><circle cx="221" cy="1094.9" r="8.7"/><circle cx="234.5" cy="1129.6" r="8.7"/><circle cx="200" cy="1226.8" r="8.7"/>
<circle cx="191.7" cy="1165.6" r="8.7"/><circle cx="201.2" cy="1151.5" r="8.7"/><circle cx="180.6" cy="1162.7" r="8.7"/><circle cx="212.1" cy="1064.8" r="8.7"/><circle cx="208.5" cy="1133.9" r="8.7"/><circle cx="188.6" cy="1134.3" r="8.7"/>
<circle cx="263.6" cy="1118.1" r="8.7"/><circle cx="189.7" cy="1087.2" r="8.7"/><circle cx="172.2" cy="1118.9" r="8.7"/><circle cx="232.3" cy="1166.8" r="8.7"/><circle cx="233" cy="1129.9" r="8.7"/><circle cx="224.3" cy="1096.7" r="8.7"/>
<circle cx="189.3" cy="1217.3" r="8.7"/><circle cx="238.5" cy="1161.4" r="8.7"/><circle cx="230.9" cy="1180.2" r="8.7"/><circle cx="226.9" cy="1111.8" r="8.7"/><circle cx="501.6" cy="1049.5" r="8.7"/><circle cx="477" cy="1068.2" r="8.7"/>
<circle cx="498.1" cy="1012.2" r="8.7"/><circle cx="436.9" cy="1129" r="8.7"/><circle cx="473.5" cy="1053.6" r="8.7"/><circle cx="514.6" cy="1032.2" r="8.7"/><circle cx="507.9" cy="983.7" r="8.7"/><circle cx="488.7" cy="1051.1" r="8.7"/>
<circle cx="463.5" cy="1064.7" r="8.7"/><circle cx="474.5" cy="1069" r="8.7"/><circle cx="493.3" cy="1085.4" r="8.7"/><circle cx="476.3" cy="1168" r="8.7"/><circle cx="456.4" cy="1005.9" r="8.7"/><circle cx="429.5" cy="1050.1" r="8.7"/>
<circle cx="419.5" cy="1132.1" r="8.7"/><circle cx="470.7" cy="1044.9" r="8.7"/><circle cx="452.5" cy="1156.1" r="8.7"/><circle cx="519.7" cy="948.3" r="8.7"/><circle cx="424" cy="1025.3" r="8.7"/><circle cx="497.8" cy="1048.6" r="8.7"/>
<circle cx="480.5" cy="1125.4" r="8.7"/><circle cx="420.7" cy="1168.3" r="8.7"/><circle cx="451.9" cy="1059.8" r="8.7"/><circle cx="518.3" cy="1035.3" r="8.7"/><circle cx="511.3" cy="1025.1" r="8.7"/><circle cx="477" cy="1016.7" r="8.7"/>
<circle cx="499.4" cy="1038.4" r="8.7"/><circle cx="447.2" cy="1085.3" r="8.7"/><circle cx="513.6" cy="1006.1" r="8.7"/><circle cx="473" cy="1129.3" r="8.7"/><circle cx="469.9" cy="1076.2" r="8.7"/><circle cx="447.7" cy="1136.6" r="8.7"/>
<circle cx="435" cy="1196.7" r="8.7"/><circle cx="450.4" cy="1096.9" r="8.7"/><circle cx="471.3" cy="997.8" r="8.7"/><circle cx="543.8" cy="1004.5" r="8.7"/><circle cx="489.3" cy="1064.5" r="8.7"/><circle cx="446.8" cy="1132.7" r="8.7"/>
<circle cx="471.4" cy="1111.2" r="8.7"/><circle cx="435.7" cy="1132.8" r="8.7"/><circle cx="452" cy="1015.1" r="8.7"/><circle cx="460.3" cy="1119.7" r="8.7"/><circle cx="476.2" cy="1119.4" r="8.7"/><circle cx="461.6" cy="1023.7" r="8.7"/>
<circle cx="420.4" cy="1126.7" r="8.7"/><circle cx="436.8" cy="1081.6" r="8.7"/><circle cx="496.8" cy="1085.1" r="8.7"/><circle cx="425.1" cy="1068.1" r="8.7"/><circle cx="461.3" cy="1090.2" r="8.7"/><circle cx="430.8" cy="1165.8" r="8.7"/>
<circle cx="470.6" cy="1087" r="8.7"/><circle cx="467.7" cy="1134.8" r="8.7"/><circle cx="451.3" cy="1113.3" r="8.7"/><circle cx="467.8" cy="1041.4" r="8.7"/><circle cx="460.5" cy="974.7" r="8.7"/><circle cx="444.1" cy="1095.3" r="8.7"/>
<circle cx="463.9" cy="1021.9" r="8.7"/><circle cx="471.9" cy="1056.7" r="8.7"/><circle cx="447.3" cy="1039.7" r="8.7"/><circle cx="499.2" cy="1003.1" r="8.7"/><circle cx="375.8" cy="1003.3" r="8.7"/><circle cx="457" cy="1108.6" r="8.7"/>
<circle cx="505.6" cy="1076.4" r="8.7"/><circle cx="423.1" cy="1124.8" r="8.7"/><circle cx="490.8" cy="1034" r="8.7"/><circle cx="424.3" cy="969" r="8.7"/><circle cx="480.5" cy="1011.6" r="8.7"/><circle cx="439.7" cy="1105.1" r="8.7"/>
<circle cx="453.4" cy="1017.7" r="8.7"/><circle cx="463.9" cy="1034.3" r="8.7"/><circle cx="461.3" cy="1102.1" r="8.7"/><circle cx="382.6" cy="1048.3" r="8.7"/><circle cx="423.9" cy="1098.2" r="8.7"/><circle cx="422.4" cy="1076.8" r="8.7"/>
<circle cx="461" cy="1093.6" r="8.7"/><circle cx="417.5" cy="1048.5" r="8.7"/><circle cx="472.7" cy="1040.4" r="8.7"/><circle cx="400.2" cy="1056.6" r="8.7"/><circle cx="471.2" cy="1063.5" r="8.7"/><circle cx="480.5" cy="1093.8" r="8.7"/>
<circle cx="650.2" cy="772.3" r="8.7"/><circle cx="552.1" cy="791" r="8.7"/><circle cx="517.8" cy="807" r="8.7"/><circle cx="583.1" cy="818.4" r="8.7"/><circle cx="545.2" cy="829.8" r="8.7"/><circle cx="555.3" cy="839" r="8.7"/>
<circle cx="475.8" cy="841.3" r="8.7"/><circle cx="539.3" cy="845.4" r="8.7"/><circle cx="490.4" cy="851.3" r="8.7"/><circle cx="523.3" cy="849.9" r="8.7"/><circle cx="547.5" cy="859.1" r="8.7"/><circle cx="611.4" cy="853.6" r="8.7"/>
<circle cx="449.3" cy="865" r="8.7"/><circle cx="443.8" cy="869.6" r="8.7"/><circle cx="510" cy="867.3" r="8.7"/><circle cx="522.4" cy="871.9" r="8.7"/><circle cx="531.5" cy="876.4" r="8.7"/><circle cx="554.3" cy="892.4" r="8.7"/>
<circle cx="570.3" cy="903.8" r="8.7"/><circle cx="549.8" cy="903.8" r="8.7"/><circle cx="668.5" cy="929.8" r="8.7"/><circle cx="588.6" cy="931.2" r="8.7"/><circle cx="563.5" cy="942.6" r="8.7"/><circle cx="572.6" cy="944.9" r="8.7"/>
<circle cx="594.5" cy="961.8" r="8.7"/><circle cx="603.7" cy="997.4" r="8.7"/><circle cx="590.9" cy="1002" r="8.7"/><circle cx="622.8" cy="997.4" r="8.7"/><circle cx="599.1" cy="1043.1" r="8.7"/><circle cx="560.3" cy="1040.8" r="8.7"/>
<circle cx="565.8" cy="1072.8" r="8.7"/><circle cx="590" cy="1094.7" r="8.7"/><circle cx="558" cy="1089.7" r="8.7"/><circle cx="564.4" cy="1104.7" r="8.7"/><circle cx="549.8" cy="1141.3" r="8.7"/><circle cx="542" cy="1159.5" r="8.7"/>
<circle cx="519.2" cy="1159.5" r="8.7"/><circle cx="507.8" cy="1169.6" r="8.7"/><circle cx="495" cy="1184.6" r="8.7"/><circle cx="464.4" cy="1173.2" r="8.7"/><circle cx="442.5" cy="1175.5" r="8.7"/><circle cx="562.6" cy="1208.4" r="8.7"/>
<circle cx="493.6" cy="1216.6" r="8.7"/><circle cx="495" cy="1227.1" r="8.7"/><circle cx="470.8" cy="1239.4" r="8.7"/><circle cx="529.2" cy="1245.4" r="8.7"/><circle cx="537.4" cy="1270.5" r="8.7"/><circle cx="449.3" cy="1263.6" r="8.7"/>
<circle cx="427.4" cy="1257.7" r="8.7"/><circle cx="346.6" cy="1287.4" r="8.7"/><circle cx="278.1" cy="1297.4" r="8.7"/><circle cx="218.7" cy="1308.8" r="8.7"/><circle cx="159.4" cy="1279.2" r="8.7"/><circle cx="154.8" cy="1253.1" r="8.7"/>
<circle cx="201.4" cy="1284.2" r="8.7"/><circle cx="189" cy="1275.1" r="8.7"/><circle cx="257.5" cy="1261.4" r="8.7"/><circle cx="284.9" cy="1269.1" r="8.7"/><circle cx="314.6" cy="1261.4" r="8.7"/><circle cx="242.5" cy="951.8" r="8.7"/>
<circle cx="263" cy="954" r="8.7"/><circle cx="339.7" cy="928.9" r="8.7"/><circle cx="377.2" cy="918.4" r="8.7"/><circle cx="398.2" cy="911.6" r="8.7"/><circle cx="147" cy="1119.3" r="8.7"/><circle cx="125.1" cy="1167.3" r="8.7"/>
<circle cx="137.4" cy="1161.8" r="8.7"/><circle cx="161.6" cy="1129.8" r="8.7"/><circle cx="173.1" cy="1120.7" r="8.7"/><circle cx="221" cy="1038.5" r="8.7"/><circle cx="211.9" cy="1054.5" r="8.7"/><circle cx="253" cy="1029.4" r="8.7"/>
<circle cx="246.1" cy="1031.7" r="8.7"/><circle cx="263" cy="987.4" r="8.7"/><circle cx="280.4" cy="985.1" r="8.7"/><circle cx="297.3" cy="971.4" r="8.7"/><circle cx="526.9" cy="1109.3" r="8.7"/><circle cx="536.1" cy="1110.7" r="8.7"/>
<circle cx="513.2" cy="1116.1" r="8.7"/><circle cx="511" cy="1100.2" r="8.7"/><circle cx="533.8" cy="1047.7" r="8.7"/><circle cx="509.6" cy="1065.9" r="8.7"/><circle cx="517.8" cy="1063.6" r="8.7"/><circle cx="497.3" cy="1084.2" r="8.7"/>
<circle cx="490.4" cy="1152.7" r="8.7"/><circle cx="488.1" cy="1081.9" r="8.7"/>
</g>
<polygon points="126.1,1202 139.7,1194.8 153.2,1187.7 166.8,1180.5 180.4,1173.3 194,1166.1 207.5,1158.9 221.1,1151.7 234.7,1144.5 248.2,1137.3 261.8,1130 275.4,1122.7 289,1115.4 302.5,1108.1 316.1,1100.6 329.7,1093.2 343.2,1085.6 356.8,1078 370.4,1070.2 384,1062.4 397.5,1054.5 411.1,1046.5 424.7,1038.5 438.2,1030.4 451.8,1022.3 465.4,1014.1 479,1006 492.5,997.8 506.1,989.5 519.7,981.3 533.2,973.1 546.8,964.9 560.4,956.6 574,948.4 587.5,940.1 601.1,931.8 614.7,923.6 628.2,915.3 641.8,907 655.4,898.8 669,890.5 669,918.3 655.4,925.5 641.8,932.6 628.2,939.8 614.7,946.9 601.1,954.1 587.5,961.2 574,968.4 560.4,975.5 546.8,982.7 533.2,989.9 519.7,997.1 506.1,1004.3 492.5,1011.5 479,1018.7 465.4,1026 451.8,1033.2 438.2,1040.5 424.7,1047.9 411.1,1055.3 397.5,1062.7 384,1070.2 370.4,1077.8 356.8,1085.5 343.2,1093.3 329.7,1101.1 316.1,1109.1 302.5,1117.1 289,1125.1 275.4,1133.2 261.8,1141.4 248.2,1149.5 234.7,1157.7 221.1,1165.9 207.5,1174.1 194,1182.4 180.4,1190.6 166.8,1198.8 153.2,1207.1 139.7,1215.3 126.1,1223.6" fill="#999" fill-opacity="0.4"/>
<line x1="126.1" y1="1212.8" x2="669" y2="904.4" stroke="#4e79a7" stroke-width="7.3"/>
</g>
<text class="an"><tspan x="128.2" y="818" class="i">R</tspan><tspan x="165" y="822.8" font-size="44px">=</tspan><tspan x="200.2" y="818">0.57,</tspan><tspan x="304" y="818" class="i">p</tspan><tspan x="333.6" y="823.8" font-size="48px">&lt;</tspan><tspan x="368.9" y="818">2.2e−16</tspan></text>
<rect x="100.3" y="746.9" width="594.5" height="588.4" fill="none" stroke="#333" stroke-width="2.1"/>
<rect x="100.3" y="679.2" width="594.5" height="65.8" fill="#d9d9d9" stroke="#333" stroke-width="2.1"/>
<text class="st" x="397.5" y="724.7" text-anchor="middle">TP3</text>
<text class="tk" x="104.1" y="1381.7" text-anchor="middle">1</text>
<text class="tk" x="232.1" y="1381.7" text-anchor="middle">2</text>
<text class="tk" x="360.1" y="1381.7" text-anchor="middle">3</text>
<text class="tk" x="488.1" y="1381.7" text-anchor="middle">4</text>
<text class="tk" x="616.1" y="1381.7" text-anchor="middle">5</text>
<text class="tk" x="80.6" y="1345.7" text-anchor="end">1</text>
<text class="tk" x="80.6" y="1219.2" text-anchor="end">2</text>
<text class="tk" x="80.6" y="1092.8" text-anchor="end">3</text>
<text class="tk" x="80.6" y="966.4" text-anchor="end">4</text>
<text class="tk" x="80.6" y="839.9" text-anchor="end">5</text>
<path d="M104.1 1336.2v11M232.1 1336.2v11M360.1 1336.2v11M488.1 1336.2v11M616.1 1336.2v11M99.2 1331.4h-11M99.2 1205h-11M99.2 1078.5h-11M99.2 952.1h-11M99.2 825.6h-11" stroke="#333" stroke-width="4.2" fill="none"/>
</g>
<g id="TP4">
<clipPath id="c3"><rect x="717.7" y="746.9" width="595.5" height="588.4"/></clipPath>
<rect x="717.7" y="746.9" width="595.5" height="588.4" fill="#fff"/>
<path d="M785.6 746.9V1335.2M717.7 1268.2H1313.2M913.6 746.9V1335.2M717.7 1141.7H1313.2M1041.6 746.9V1335.2M717.7 1015.3H1313.2M1169.6 746.9V1335.2M717.7 888.8H1313.2M1297.6 746.9V1335.2M717.7 762.4H1313.2" stroke="#ebebeb" stroke-width="1.9" fill="none"/>
<path d="M721.6 746.9V1335.2M717.7 1331.4H1313.2M849.6 746.9V1335.2M717.7 1205H1313.2M977.6 746.9V1335.2M717.7 1078.5H1313.2M1105.6 746.9V1335.2M717.7 952.1H1313.2M1233.6 746.9V1335.2M717.7 825.6H1313.2" stroke="#ebebeb" stroke-width="3.8" fill="none"/>
<g clip-path="url(#c3)"><g fill="#000" fill-opacity="0.25">
<circle cx="995.4" cy="1062.5" r="8.7"/><circle cx="994.4" cy="1102.8" r="8.7"/><circle cx="875.7" cy="1056.4" r="8.7"/><circle cx="907.8" cy="1143.4" r="8.7"/><circle cx="883.7" cy="1123.7" r="8.7"/><circle cx="910" cy="1053.5" r="8.7"/>
<circle cx="953.4" cy="1121.9" r="8.7"/><circle cx="858.9" cy="1093" r="8.7"/><circle cx="844.4" cy="1170.1" r="8.7"/><circle cx="925.5" cy="1169.1" r="8.7"/><circle cx="907.3" cy="1113.5" r="8.7"/><circle cx="889.6" cy="1120" r="8.7"/>
<circle cx="974.8" cy="1090.6" r="8.7"/><circle cx="972.3" cy="1102" r="8.7"/><circle cx="945" cy="1083.3" r="8.7"/><circle cx="932.6" cy="1155.2" r="8.7"/><circle cx="918.6" cy="1053.4" r="8.7"/><circle cx="937.7" cy="1029.5" r="8.7"/>
<circle cx="888.7" cy="1128.5" r="8.7"/><circle cx="818.2" cy="1178.2" r="8.7"/><circle cx="1041.4" cy="1084.2" r="8.7"/><circle cx="830.6" cy="1230.5" r="8.7"/><circle cx="962.1" cy="1144" r="8.7"/><circle cx="967.2" cy="1053.8" r="8.7"/>
<circle cx="880.1" cy="1067.2" r="8.7"/><circle cx="953.2" cy="1133.9" r="8.7"/><circle cx="924.5" cy="1149.1" r="8.7"/><circle cx="928.8" cy="1029.9" r="8.7"/><circle cx="934.4" cy="1046.6" r="8.7"/><circle cx="829.2" cy="1097.1" r="8.7"/>
<circle cx="971.3" cy="1006.8" r="8.7"/><circle cx="978" cy="1187" r="8.7"/><circle cx="898.8" cy="1119.9" r="8.7"/><circle cx="923" cy="1087.7" r="8.7"/><circle cx="909.6" cy="1030.2" r="8.7"/><circle cx="1008.8" cy="1006.3" r="8.7"/>
<circle cx="871.4" cy="1093.3" r="8.7"/><circle cx="974.6" cy="1045.9" r="8.7"/><circle cx="908.4" cy="1167.3" r="8.7"/><circle cx="850" cy="1149.8" r="8.7"/><circle cx="860.7" cy="1126.5" r="8.7"/><circle cx="980.2" cy="1045.7" r="8.7"/>
<circle cx="946.3" cy="1079.3" r="8.7"/><circle cx="899.5" cy="1176.3" r="8.7"/><circle cx="1027.8" cy="1149.5" r="8.7"/><circle cx="986.6" cy="1015.7" r="8.7"/><circle cx="981.1" cy="1029.1" r="8.7"/><circle cx="854.6" cy="1115.7" r="8.7"/>
<circle cx="885" cy="1061" r="8.7"/><circle cx="904.9" cy="1103.1" r="8.7"/><circle cx="924.2" cy="1051.4" r="8.7"/><circle cx="956.6" cy="1053.2" r="8.7"/><circle cx="940.6" cy="1104.4" r="8.7"/><circle cx="945" cy="1078.9" r="8.7"/>
<circle cx="931.4" cy="1037.7" r="8.7"/><circle cx="925.1" cy="1073.2" r="8.7"/><circle cx="1024.9" cy="1125.7" r="8.7"/><circle cx="987.3" cy="1098.8" r="8.7"/><circle cx="837.5" cy="1131.2" r="8.7"/><circle cx="898.7" cy="1176.5" r="8.7"/>
<circle cx="895.8" cy="1054.6" r="8.7"/><circle cx="989.8" cy="1023.6" r="8.7"/><circle cx="858.9" cy="1139.1" r="8.7"/><circle cx="965.2" cy="1073.1" r="8.7"/><circle cx="979.9" cy="1154.4" r="8.7"/><circle cx="914.2" cy="1094.5" r="8.7"/>
<circle cx="1009.1" cy="1120.9" r="8.7"/><circle cx="975.3" cy="1054.1" r="8.7"/><circle cx="960.6" cy="1125.3" r="8.7"/><circle cx="850.7" cy="1136.7" r="8.7"/><circle cx="971.3" cy="1110.4" r="8.7"/><circle cx="936.4" cy="1037.9" r="8.7"/>
<circle cx="832.9" cy="1128.7" r="8.7"/><circle cx="940.8" cy="1139" r="8.7"/><circle cx="792" cy="1226.4" r="8.7"/><circle cx="891.7" cy="1149.9" r="8.7"/><circle cx="856.7" cy="1188.4" r="8.7"/><circle cx="875.4" cy="1111.9" r="8.7"/>
<circle cx="807.1" cy="1108.3" r="8.7"/><circle cx="947.8" cy="1071.8" r="8.7"/><circle cx="877.7" cy="1153.5" r="8.7"/><circle cx="841.1" cy="1084.2" r="8.7"/><circle cx="944.7" cy="1108.8" r="8.7"/><circle cx="884.8" cy="1080.3" r="8.7"/>
<circle cx="900.4" cy="1072.3" r="8.7"/><circle cx="941.5" cy="1147.4" r="8.7"/><circle cx="933.1" cy="1113.4" r="8.7"/><circle cx="981" cy="1138" r="8.7"/><circle cx="890.9" cy="1078.8" r="8.7"/><circle cx="856.5" cy="1058.2" r="8.7"/>
<circle cx="970.4" cy="1112.8" r="8.7"/><circle cx="918.5" cy="1079.6" r="8.7"/><circle cx="842.9" cy="1160.1" r="8.7"/><circle cx="862" cy="1166.9" r="8.7"/><circle cx="962.2" cy="1068.9" r="8.7"/><circle cx="893" cy="1116.4" r="8.7"/>
<circle cx="901.5" cy="1053.3" r="8.7"/><circle cx="956.8" cy="971" r="8.7"/><circle cx="820.9" cy="1190.2" r="8.7"/><circle cx="820" cy="1110.1" r="8.7"/><circle cx="885.1" cy="1157.3" r="8.7"/><circle cx="838.3" cy="1192.2" r="8.7"/>
<circle cx="911" cy="1080.2" r="8.7"/><circle cx="934.3" cy="1078.8" r="8.7"/><circle cx="1005.6" cy="1133.3" r="8.7"/><circle cx="1081.6" cy="1029.3" r="8.7"/><circle cx="1004.6" cy="1069.1" r="8.7"/><circle cx="908.5" cy="1124.3" r="8.7"/>
<circle cx="855.1" cy="1061.8" r="8.7"/><circle cx="880.6" cy="1061" r="8.7"/><circle cx="870" cy="1165.6" r="8.7"/><circle cx="866.3" cy="1183.6" r="8.7"/><circle cx="982.1" cy="1074.2" r="8.7"/><circle cx="957.8" cy="1091.5" r="8.7"/>
<circle cx="816" cy="1107.9" r="8.7"/><circle cx="1004" cy="1139.8" r="8.7"/><circle cx="868.5" cy="1131.5" r="8.7"/><circle cx="910.1" cy="1089.5" r="8.7"/><circle cx="1024.4" cy="1121.5" r="8.7"/><circle cx="921.3" cy="1129.1" r="8.7"/>
<circle cx="955.9" cy="1078.6" r="8.7"/><circle cx="924.2" cy="1184.4" r="8.7"/><circle cx="916" cy="1132.3" r="8.7"/><circle cx="968.8" cy="1153.7" r="8.7"/><circle cx="900.9" cy="1092.7" r="8.7"/><circle cx="1040.5" cy="1088.9" r="8.7"/>
<circle cx="795.4" cy="1181" r="8.7"/><circle cx="950.9" cy="1082.2" r="8.7"/><circle cx="955.6" cy="1068" r="8.7"/><circle cx="885.7" cy="1100.1" r="8.7"/><circle cx="964.4" cy="1072.8" r="8.7"/><circle cx="930" cy="1140.3" r="8.7"/>
<circle cx="908.3" cy="1106.7" r="8.7"/><circle cx="972.1" cy="1162.6" r="8.7"/><circle cx="1019.7" cy="1100.9" r="8.7"/><circle cx="990" cy="1143.8" r="8.7"/><circle cx="986.6" cy="1134.2" r="8.7"/><circle cx="1008.3" cy="1092" r="8.7"/>
<circle cx="917.2" cy="1018.8" r="8.7"/><circle cx="847.9" cy="1143.7" r="8.7"/><circle cx="869.7" cy="1088.9" r="8.7"/><circle cx="892" cy="1079.6" r="8.7"/><circle cx="858" cy="1092.9" r="8.7"/><circle cx="899.8" cy="1003" r="8.7"/>
<circle cx="909.8" cy="1190.6" r="8.7"/><circle cx="933.3" cy="989.2" r="8.7"/><circle cx="872.3" cy="1071.8" r="8.7"/><circle cx="898.7" cy="1068.6" r="8.7"/><circle cx="897.7" cy="1004.7" r="8.7"/><circle cx="925.2" cy="1123.4" r="8.7"/>
<circle cx="916.4" cy="1144.6" r="8.7"/><circle cx="908.5" cy="1146.8" r="8.7"/><circle cx="909.7" cy="1069.3" r="8.7"/><circle cx="939.1" cy="1046.7" r="8.7"/><circle cx="832" cy="1068.2" r="8.7"/><circle cx="882.2" cy="1128.9" r="8.7"/>
<circle cx="950.9" cy="1158.6" r="8.7"/><circle cx="902.6" cy="1150.9" r="8.7"/><circle cx="920.8" cy="1003.3" r="8.7"/><circle cx="899.6" cy="1079.3" r="8.7"/><circle cx="866.6" cy="1115.2" r="8.7"/><circle cx="935.6" cy="1147.1" r="8.7"/>
<circle cx="869.6" cy="1061.5" r="8.7"/><circle cx="936.8" cy="1099.4" r="8.7"/><circle cx="869.9" cy="1142.8" r="8.7"/><circle cx="1001.1" cy="1077.7" r="8.7"/><circle cx="939.4" cy="1181.5" r="8.7"/><circle cx="852.2" cy="1137.2" r="8.7"/>
<circle cx="897.3" cy="1039.4" r="8.7"/><circle cx="895.6" cy="1148.9" r="8.7"/><circle cx="935.7" cy="1118.3" r="8.7"/><circle cx="867.9" cy="1159.9" r="8.7"/><circle cx="974.8" cy="1044.5" r="8.7"/><circle cx="875.9" cy="1080.7" r="8.7"/>
<circle cx="954.9" cy="1087.2" r="8.7"/><circle cx="844.4" cy="1031.9" r="8.7"/><circle cx="985.3" cy="1124.9" r="8.7"/><circle cx="958.7" cy="1190.1" r="8.7"/><circle cx="932.6" cy="1120.7" r="8.7"/><circle cx="922.1" cy="1128.6" r="8.7"/>
<circle cx="907.9" cy="1092" r="8.7"/><circle cx="949.8" cy="1044.2" r="8.7"/><circle cx="876.4" cy="1139.3" r="8.7"/><circle cx="957.2" cy="1070.2" r="8.7"/><circle cx="962.5" cy="1122.7" r="8.7"/><circle cx="905.3" cy="1032.5" r="8.7"/>
<circle cx="799.8" cy="1121.9" r="8.7"/><circle cx="940.5" cy="1082.1" r="8.7"/><circle cx="903.2" cy="1047" r="8.7"/><circle cx="906.9" cy="1137.9" r="8.7"/><circle cx="975.2" cy="1140.3" r="8.7"/><circle cx="904.7" cy="1113.3" r="8.7"/>
<circle cx="1016.9" cy="1117.9" r="8.7"/><circle cx="951.8" cy="1075.1" r="8.7"/><circle cx="887" cy="1098.7" r="8.7"/><circle cx="922.9" cy="1110.9" r="8.7"/><circle cx="889" cy="1120.8" r="8.7"/><circle cx="847.6" cy="1149.1" r="8.7"/>
<circle cx="922.8" cy="1100.5" r="8.7"/><circle cx="914.8" cy="1079.8" r="8.7"/><circle cx="1000.6" cy="1077.2" r="8.7"/><circle cx="986.9" cy="1051.6" r="8.7"/><circle cx="827" cy="1108.9" r="8.7"/><circle cx="1038.9" cy="1143.4" r="8.7"/>
<circle cx="1003.3" cy="1022.2" r="8.7"/><circle cx="803.9" cy="1157.9" r="8.7"/><circle cx="999.6" cy="1048.8" r="8.7"/><circle cx="881.2" cy="1212.4" r="8.7"/><circle cx="1017.5" cy="1106.9" r="8.7"/><circle cx="960.6" cy="1047.1" r="8.7"/>
<circle cx="966.2" cy="1100.8" r="8.7"/><circle cx="915.7" cy="1104.8" r="8.7"/><circle cx="976.5" cy="1068.8" r="8.7"/><circle cx="885" cy="1132.3" r="8.7"/><circle cx="980.1" cy="994.2" r="8.7"/><circle cx="892.6" cy="1131.9" r="8.7"/>
<circle cx="929.3" cy="1166.2" r="8.7"/><circle cx="906.9" cy="1015.5" r="8.7"/><circle cx="912.3" cy="1057.5" r="8.7"/><circle cx="944.3" cy="1104" r="8.7"/><circle cx="834" cy="1086.7" r="8.7"/><circle cx="989.4" cy="1067.6" r="8.7"/>
<circle cx="955.1" cy="1103.7" r="8.7"/><circle cx="975.9" cy="1088.4" r="8.7"/><circle cx="963.6" cy="978.5" r="8.7"/><circle cx="908.2" cy="1130.4" r="8.7"/><circle cx="921.8" cy="1083.6" r="8.7"/><circle cx="847.2" cy="1085.4" r="8.7"/>
<circle cx="834.6" cy="1163.8" r="8.7"/><circle cx="951.6" cy="1145.8" r="8.7"/><circle cx="934.9" cy="1150" r="8.7"/><circle cx="865.7" cy="1164.7" r="8.7"/><circle cx="900" cy="1065.4" r="8.7"/><circle cx="942.7" cy="1055.8" r="8.7"/>
<circle cx="1001.9" cy="1062.4" r="8.7"/><circle cx="977.3" cy="1029.6" r="8.7"/><circle cx="835.1" cy="1083.2" r="8.7"/><circle cx="968.1" cy="1126.8" r="8.7"/><circle cx="954.7" cy="1070.7" r="8.7"/><circle cx="881.7" cy="1125" r="8.7"/>
<circle cx="977.3" cy="1203.2" r="8.7"/><circle cx="1014.7" cy="1108" r="8.7"/><circle cx="962.8" cy="1132.4" r="8.7"/><circle cx="897.3" cy="1106.4" r="8.7"/><circle cx="930.3" cy="1101.7" r="8.7"/><circle cx="1030.6" cy="1136.8" r="8.7"/>
<circle cx="868.6" cy="1089.5" r="8.7"/><circle cx="930.7" cy="1062.9" r="8.7"/><circle cx="888.8" cy="1121.4" r="8.7"/><circle cx="891.1" cy="1191.1" r="8.7"/><circle cx="865.7" cy="1165.9" r="8.7"/><circle cx="1043.5" cy="1110.3" r="8.7"/>
<circle cx="1023.9" cy="996.2" r="8.7"/><circle cx="887" cy="1059.8" r="8.7"/><circle cx="973.4" cy="1055.7" r="8.7"/><circle cx="932.8" cy="1153.3" r="8.7"/><circle cx="907.8" cy="1095.3" r="8.7"/><circle cx="934.6" cy="1162.8" r="8.7"/>
<circle cx="969.2" cy="1032.3" r="8.7"/><circle cx="867.8" cy="1134.7" r="8.7"/><circle cx="823.5" cy="1197.7" r="8.7"/><circle cx="887.1" cy="1047.4" r="8.7"/><circle cx="929.8" cy="1139.5" r="8.7"/><circle cx="932.5" cy="1142.3" r="8.7"/>
<circle cx="909.2" cy="1060.3" r="8.7"/><circle cx="866.6" cy="1074" r="8.7"/><circle cx="974.4" cy="1049.6" r="8.7"/><circle cx="833.7" cy="1191.7" r="8.7"/><circle cx="964.3" cy="1101.2" r="8.7"/><circle cx="914.7" cy="1014.5" r="8.7"/>
<circle cx="979.6" cy="1014.8" r="8.7"/><circle cx="904.6" cy="1057.6" r="8.7"/><circle cx="929.8" cy="1132" r="8.7"/><circle cx="839" cy="1127" r="8.7"/><circle cx="939.4" cy="1149.8" r="8.7"/><circle cx="941.6" cy="1110" r="8.7"/>
<circle cx="894" cy="1180.1" r="8.7"/><circle cx="932.4" cy="1117.7" r="8.7"/><circle cx="967.4" cy="986.6" r="8.7"/><circle cx="915.5" cy="1151.9" r="8.7"/><circle cx="888.1" cy="1089.1" r="8.7"/><circle cx="933.1" cy="1126.3" r="8.7"/>
<circle cx="897.2" cy="1094.9" r="8.7"/><circle cx="936.6" cy="1079.2" r="8.7"/><circle cx="951.4" cy="1123.3" r="8.7"/><circle cx="917.8" cy="1062.5" r="8.7"/><circle cx="884.8" cy="1118.3" r="8.7"/><circle cx="880.6" cy="1148.9" r="8.7"/>
<circle cx="969.1" cy="1108.6" r="8.7"/><circle cx="982.5" cy="1155.4" r="8.7"/><circle cx="949" cy="1145.1" r="8.7"/><circle cx="911.7" cy="1123.5" r="8.7"/><circle cx="883.2" cy="1100.5" r="8.7"/><circle cx="897.3" cy="1113.3" r="8.7"/>
<circle cx="969.8" cy="1066.7" r="8.7"/><circle cx="973.1" cy="1043.2" r="8.7"/><circle cx="861.8" cy="1162" r="8.7"/><circle cx="895.5" cy="1085.9" r="8.7"/><circle cx="981.3" cy="1004.7" r="8.7"/><circle cx="883.5" cy="1094.4" r="8.7"/>
<circle cx="968.6" cy="1077.7" r="8.7"/><circle cx="958.8" cy="1085.2" r="8.7"/><circle cx="924.4" cy="1101" r="8.7"/><circle cx="966.9" cy="1084.4" r="8.7"/><circle cx="910.3" cy="1034.9" r="8.7"/><circle cx="898.7" cy="1041.3" r="8.7"/>
<circle cx="897.1" cy="1197.5" r="8.7"/><circle cx="929.9" cy="1029.2" r="8.7"/><circle cx="935.5" cy="1166.3" r="8.7"/><circle cx="970.1" cy="945" r="8.7"/><circle cx="862.4" cy="1123.6" r="8.7"/><circle cx="820.1" cy="1083.6" r="8.7"/>
<circle cx="909" cy="1072.3" r="8.7"/><circle cx="886.9" cy="1149.2" r="8.7"/><circle cx="941.9" cy="983.7" r="8.7"/><circle cx="878.7" cy="1046.1" r="8.7"/><circle cx="943.8" cy="1121.4" r="8.7"/><circle cx="908.8" cy="1079.7" r="8.7"/>
<circle cx="1040.3" cy="1082.5" r="8.7"/><circle cx="916.3" cy="1123.6" r="8.7"/><circle cx="987" cy="1083.1" r="8.7"/><circle cx="929.8" cy="1075.4" r="8.7"/><circle cx="913.1" cy="1143.7" r="8.7"/><circle cx="947.1" cy="1128.2" r="8.7"/>
<circle cx="865.5" cy="1109.3" r="8.7"/><circle cx="931.6" cy="1088.7" r="8.7"/><circle cx="850" cy="1105.3" r="8.7"/><circle cx="943.4" cy="1057.5" r="8.7"/><circle cx="949.7" cy="1117.2" r="8.7"/><circle cx="927.7" cy="1105.6" r="8.7"/>
<circle cx="857.6" cy="1085.4" r="8.7"/><circle cx="905.3" cy="1039.1" r="8.7"/><circle cx="951.7" cy="1077.8" r="8.7"/><circle cx="860.9" cy="1128.3" r="8.7"/><circle cx="890.2" cy="1059.9" r="8.7"/><circle cx="923.6" cy="1196.2" r="8.7"/>
<circle cx="941.6" cy="1133.8" r="8.7"/><circle cx="832.7" cy="1142.7" r="8.7"/><circle cx="909.7" cy="1160" r="8.7"/><circle cx="915.2" cy="1091.7" r="8.7"/><circle cx="1000.2" cy="1005.4" r="8.7"/><circle cx="970.5" cy="1068.9" r="8.7"/>
<circle cx="913.9" cy="1153.4" r="8.7"/><circle cx="1037.3" cy="1131.2" r="8.7"/><circle cx="944.4" cy="1104.2" r="8.7"/><circle cx="891.8" cy="994.5" r="8.7"/><circle cx="889.5" cy="1130.8" r="8.7"/><circle cx="954.6" cy="1074.2" r="8.7"/>
<circle cx="921.4" cy="1046.7" r="8.7"/><circle cx="855.7" cy="1046.4" r="8.7"/><circle cx="844.2" cy="1079.4" r="8.7"/><circle cx="995.6" cy="1123.7" r="8.7"/><circle cx="965.5" cy="1064.5" r="8.7"/><circle cx="886.2" cy="1067.1" r="8.7"/>
<circle cx="845.2" cy="1129.6" r="8.7"/><circle cx="888.1" cy="1129.1" r="8.7"/><circle cx="904.6" cy="1097.8" r="8.7"/><circle cx="925.6" cy="1150.5" r="8.7"/><circle cx="906.2" cy="1045.8" r="8.7"/><circle cx="970.8" cy="1061.5" r="8.7"/>
<circle cx="900.6" cy="1068.5" r="8.7"/><circle cx="870" cy="1066.3" r="8.7"/><circle cx="925.8" cy="1062" r="8.7"/><circle cx="843.2" cy="1120.1" r="8.7"/><circle cx="932.3" cy="1131.3" r="8.7"/><circle cx="950.5" cy="1148.2" r="8.7"/>
<circle cx="874.5" cy="1111.9" r="8.7"/><circle cx="847" cy="1169" r="8.7"/><circle cx="930.3" cy="1101.2" r="8.7"/><circle cx="956.2" cy="1075.1" r="8.7"/><circle cx="909.3" cy="1032.4" r="8.7"/><circle cx="887.1" cy="1108.9" r="8.7"/>
<circle cx="887.4" cy="1028.1" r="8.7"/><circle cx="887.9" cy="1058.8" r="8.7"/><circle cx="941" cy="1125.1" r="8.7"/><circle cx="871.6" cy="1110.3" r="8.7"/><circle cx="924.1" cy="1051" r="8.7"/><circle cx="869.3" cy="1098.9" r="8.7"/>
<circle cx="918" cy="1102" r="8.7"/><circle cx="892.8" cy="1060.4" r="8.7"/><circle cx="893.1" cy="1126.9" r="8.7"/><circle cx="919.2" cy="1103.1" r="8.7"/><circle cx="873.2" cy="1031.8" r="8.7"/><circle cx="1029.3" cy="1052.4" r="8.7"/>
<circle cx="900.5" cy="1030.8" r="8.7"/><circle cx="1006" cy="1077" r="8.7"/><circle cx="815.5" cy="1124" r="8.7"/><circle cx="998.7" cy="1051.5" r="8.7"/><circle cx="967" cy="1126.7" r="8.7"/><circle cx="891.9" cy="1126.7" r="8.7"/>
<circle cx="920.9" cy="1131.8" r="8.7"/><circle cx="973.1" cy="1130.3" r="8.7"/><circle cx="889.9" cy="1136" r="8.7"/><circle cx="942.2" cy="1039.8" r="8.7"/><circle cx="991" cy="1225.3" r="8.7"/><circle cx="939.8" cy="1151.9" r="8.7"/>
<circle cx="960.9" cy="1166.3" r="8.7"/><circle cx="930.4" cy="1057.3" r="8.7"/><circle cx="916.2" cy="1053.1" r="8.7"/><circle cx="960.5" cy="1015.2" r="8.7"/><circle cx="908.5" cy="1110.7" r="8.7"/><circle cx="893.4" cy="1100.6" r="8.7"/>
<circle cx="914" cy="1150.3" r="8.7"/><circle cx="960.9" cy="1120" r="8.7"/><circle cx="817" cy="1087.3" r="8.7"/><circle cx="836.9" cy="1101.7" r="8.7"/><circle cx="967.1" cy="1106.3" r="8.7"/><circle cx="929.6" cy="1046.4" r="8.7"/>
<circle cx="988.9" cy="1066.1" r="8.7"/><circle cx="875.7" cy="1119.7" r="8.7"/><circle cx="950.3" cy="1052.8" r="8.7"/><circle cx="951.6" cy="1176" r="8.7"/><circle cx="1040.9" cy="1126.3" r="8.7"/><circle cx="910.8" cy="1090.9" r="8.7"/>
<circle cx="854.5" cy="1065.1" r="8.7"/><circle cx="986.5" cy="1129.8" r="8.7"/><circle cx="959.5" cy="1121.3" r="8.7"/><circle cx="909.2" cy="1088.1" r="8.7"/><circle cx="904.6" cy="1142.2" r="8.7"/><circle cx="931.8" cy="1138.8" r="8.7"/>
<circle cx="833.7" cy="1185.1" r="8.7"/><circle cx="966.6" cy="1135.7" r="8.7"/><circle cx="984.4" cy="1052" r="8.7"/><circle cx="857.8" cy="1121.9" r="8.7"/><circle cx="831.3" cy="1078.8" r="8.7"/><circle cx="823.1" cy="1132.7" r="8.7"/>
<circle cx="836.2" cy="1082.7" r="8.7"/><circle cx="882.1" cy="1058.4" r="8.7"/><circle cx="924.2" cy="1103.5" r="8.7"/><circle cx="866.4" cy="1071.7" r="8.7"/><circle cx="914.1" cy="1111" r="8.7"/><circle cx="886" cy="1161" r="8.7"/>
<circle cx="865.8" cy="1093.1" r="8.7"/><circle cx="907.5" cy="1153.9" r="8.7"/><circle cx="907.9" cy="1095.7" r="8.7"/><circle cx="997" cy="1098.4" r="8.7"/><circle cx="828.1" cy="1096.3" r="8.7"/><circle cx="877.3" cy="1155.1" r="8.7"/>
<circle cx="979.3" cy="1114.5" r="8.7"/><circle cx="1050.5" cy="1114.9" r="8.7"/><circle cx="843.5" cy="1071.7" r="8.7"/><circle cx="919.1" cy="1131.9" r="8.7"/><circle cx="937.1" cy="1060.8" r="8.7"/><circle cx="947.2" cy="991.9" r="8.7"/>
<circle cx="921" cy="1061.9" r="8.7"/><circle cx="978.6" cy="1111.2" r="8.7"/><circle cx="994.6" cy="979.9" r="8.7"/><circle cx="1008.4" cy="1121.3" r="8.7"/><circle cx="999.8" cy="1052.7" r="8.7"/><circle cx="972.5" cy="1013.5" r="8.7"/>
<circle cx="941.8" cy="1118.5" r="8.7"/><circle cx="919.7" cy="1103.2" r="8.7"/><circle cx="1023.5" cy="1066.8" r="8.7"/><circle cx="1125.4" cy="1024.2" r="8.7"/><circle cx="990.4" cy="1056" r="8.7"/><circle cx="970.2" cy="1096.1" r="8.7"/>
<circle cx="1005.4" cy="1230.1" r="8.7"/><circle cx="968.1" cy="991.1" r="8.7"/><circle cx="815" cy="1157.7" r="8.7"/><circle cx="931.3" cy="1076" r="8.7"/><circle cx="1046.5" cy="1017.5" r="8.7"/><circle cx="1032.4" cy="1061" r="8.7"/>
<circle cx="1016.8" cy="986.7" r="8.7"/><circle cx="1005.2" cy="1037.1" r="8.7"/><circle cx="1096.4" cy="996.9" r="8.7"/><circle cx="989.3" cy="1126.8" r="8.7"/><circle cx="1007.2" cy="916.4" r="8.7"/><circle cx="993.5" cy="1085.1" r="8.7"/>
<circle cx="1009.8" cy="975.2" r="8.7"/><circle cx="983.8" cy="990" r="8.7"/><circle cx="1086.6" cy="1009.5" r="8.7"/><circle cx="1128.4" cy="1086.7" r="8.7"/><circle cx="904.4" cy="1089.4" r="8.7"/><circle cx="1003.7" cy="1084.7" r="8.7"/>
<circle cx="884.2" cy="1157.1" r="8.7"/><circle cx="1003.1" cy="922" r="8.7"/><circle cx="964.5" cy="1075.5" r="8.7"/><circle cx="953" cy="1113.8" r="8.7"/><circle cx="998" cy="1065.8" r="8.7"/><circle cx="996.6" cy="1066.3" r="8.7"/>
<circle cx="1011.4" cy="1044.8" r="8.7"/><circle cx="954.4" cy="1082.7" r="8.7"/><circle cx="1008.4" cy="1012.4" r="8.7"/><circle cx="1003" cy="1086.9" r="8.7"/><circle cx="984.5" cy="1038.9" r="8.7"/><circle cx="844" cy="1110.8" r="8.7"/>
<circle cx="969.4" cy="1221.2" r="8.7"/><circle cx="1059.7" cy="1012.9" r="8.7"/><circle cx="972" cy="1112.5" r="8.7"/><circle cx="873.4" cy="1175.2" r="8.7"/><circle cx="872.5" cy="1063.9" r="8.7"/><circle cx="912.2" cy="1016.4" r="8.7"/>
<circle cx="993.4" cy="1100.9" r="8.7"/><circle cx="1060.3" cy="974.2" r="8.7"/><circle cx="968.8" cy="995.9" r="8.7"/><circle cx="956.2" cy="1011" r="8.7"/><circle cx="902" cy="1144.5" r="8.7"/><circle cx="866.4" cy="1142.5" r="8.7"/>
<circle cx="792.9" cy="1221.8" r="8.7"/><circle cx="893.2" cy="1050.6" r="8.7"/><circle cx="968" cy="1045.3" r="8.7"/><circle cx="943.5" cy="1073.7" r="8.7"/><circle cx="887" cy="1182.4" r="8.7"/><circle cx="901.6" cy="1018.8" r="8.7"/>
<circle cx="953.9" cy="1085.7" r="8.7"/><circle cx="925.6" cy="1096" r="8.7"/><circle cx="991.6" cy="1203.6" r="8.7"/><circle cx="1084.1" cy="1047.7" r="8.7"/><circle cx="994.6" cy="1092.7" r="8.7"/><circle cx="1010" cy="1220.7" r="8.7"/>
<circle cx="1098.2" cy="992" r="8.7"/><circle cx="1096" cy="1145.6" r="8.7"/><circle cx="936.3" cy="1142.5" r="8.7"/><circle cx="979.7" cy="959.4" r="8.7"/><circle cx="908.2" cy="1017.3" r="8.7"/><circle cx="954.1" cy="995.5" r="8.7"/>
<circle cx="1002.9" cy="1019.8" r="8.7"/><circle cx="1019.5" cy="1099.7" r="8.7"/><circle cx="933" cy="1026.2" r="8.7"/><circle cx="923.8" cy="1019.9" r="8.7"/><circle cx="936.7" cy="1060.1" r="8.7"/><circle cx="901.3" cy="1083.5" r="8.7"/>
<circle cx="842.9" cy="1143.5" r="8.7"/><circle cx="1000.6" cy="961.8" r="8.7"/><circle cx="1008" cy="941" r="8.7"/><circle cx="1125.3" cy="1047.1" r="8.7"/><circle cx="950.5" cy="1169.3" r="8.7"/><circle cx="833.3" cy="1182.4" r="8.7"/>
<circle cx="1071.7" cy="942.4" r="8.7"/><circle cx="943.6" cy="1078.9" r="8.7"/><circle cx="1067.1" cy="943" r="8.7"/><circle cx="861.8" cy="1117.5" r="8.7"/><circle cx="1017.7" cy="1124.3" r="8.7"/><circle cx="955.3" cy="1066.4" r="8.7"/>
<circle cx="917.8" cy="1044.1" r="8.7"/><circle cx="914.9" cy="1133.9" r="8.7"/><circle cx="953.2" cy="911.8" r="8.7"/><circle cx="1030.1" cy="993.5" r="8.7"/><circle cx="1035.7" cy="1002.7" r="8.7"/><circle cx="1102.3" cy="1044.9" r="8.7"/>
<circle cx="867.2" cy="1142.3" r="8.7"/><circle cx="987.1" cy="1103.1" r="8.7"/><circle cx="1125.7" cy="1081.6" r="8.7"/><circle cx="951.1" cy="1108.2" r="8.7"/><circle cx="1104.4" cy="987" r="8.7"/><circle cx="986.1" cy="1040.8" r="8.7"/>
<circle cx="886.3" cy="1105" r="8.7"/><circle cx="960.1" cy="1196.3" r="8.7"/><circle cx="1053.8" cy="921.6" r="8.7"/><circle cx="922" cy="1222.7" r="8.7"/><circle cx="1041.7" cy="1132.6" r="8.7"/><circle cx="936.7" cy="1197.9" r="8.7"/>
<circle cx="938" cy="1076.2" r="8.7"/><circle cx="1131.4" cy="958.2" r="8.7"/><circle cx="874.6" cy="1092.3" r="8.7"/><circle cx="959.1" cy="1079.4" r="8.7"/><circle cx="896.3" cy="1087.9" r="8.7"/><circle cx="1040.6" cy="1117.4" r="8.7"/>
<circle cx="940.4" cy="1039.7" r="8.7"/><circle cx="982.1" cy="1126.9" r="8.7"/><circle cx="1042.6" cy="1169" r="8.7"/><circle cx="970.8" cy="1211.6" r="8.7"/><circle cx="983.1" cy="1153.6" r="8.7"/><circle cx="941" cy="1109.9" r="8.7"/>
<circle cx="914.4" cy="1089.9" r="8.7"/><circle cx="923.8" cy="1091.8" r="8.7"/><circle cx="1037.5" cy="1041.9" r="8.7"/><circle cx="918.5" cy="1202.4" r="8.7"/><circle cx="891" cy="1154.2" r="8.7"/><circle cx="1050.5" cy="1064.3" r="8.7"/>
<circle cx="1098.5" cy="1044.5" r="8.7"/><circle cx="925.1" cy="1080.5" r="8.7"/><circle cx="1013.2" cy="1015.1" r="8.7"/><circle cx="962" cy="1120.6" r="8.7"/><circle cx="884" cy="1114" r="8.7"/><circle cx="1074.4" cy="1121.7" r="8.7"/>
<circle cx="1083.1" cy="1049.3" r="8.7"/><circle cx="875" cy="1034.7" r="8.7"/><circle cx="889.2" cy="1198.8" r="8.7"/><circle cx="968.6" cy="1121.1" r="8.7"/><circle cx="1069.2" cy="1119.3" r="8.7"/><circle cx="927.9" cy="1095.2" r="8.7"/>
<circle cx="1029.5" cy="975.6" r="8.7"/><circle cx="998.7" cy="993.5" r="8.7"/><circle cx="1050.2" cy="1040.1" r="8.7"/><circle cx="968.6" cy="1094.8" r="8.7"/><circle cx="927.2" cy="1042.3" r="8.7"/><circle cx="1006.4" cy="995.4" r="8.7"/>
<circle cx="1101.9" cy="1083.8" r="8.7"/><circle cx="968.2" cy="1189.5" r="8.7"/><circle cx="904.3" cy="1047" r="8.7"/><circle cx="982.7" cy="1070.9" r="8.7"/><circle cx="1032.3" cy="1023.9" r="8.7"/><circle cx="1004.8" cy="1108" r="8.7"/>
<circle cx="1011.5" cy="979.7" r="8.7"/><circle cx="1009.2" cy="1062" r="8.7"/><circle cx="935" cy="1080.8" r="8.7"/><circle cx="845.6" cy="1090.2" r="8.7"/><circle cx="1075.8" cy="1108.8" r="8.7"/><circle cx="1036.4" cy="985.4" r="8.7"/>
<circle cx="1009.9" cy="1033.5" r="8.7"/><circle cx="996.4" cy="1112.1" r="8.7"/><circle cx="917.7" cy="1096.7" r="8.7"/><circle cx="1006.3" cy="1037" r="8.7"/><circle cx="923.2" cy="1079.4" r="8.7"/><circle cx="966.2" cy="1021.1" r="8.7"/>
<circle cx="893.3" cy="1047" r="8.7"/><circle cx="973.5" cy="1000.1" r="8.7"/><circle cx="943.6" cy="1216.8" r="8.7"/><circle cx="957.8" cy="978.2" r="8.7"/><circle cx="968.2" cy="1150.6" r="8.7"/><circle cx="864.4" cy="1144.2" r="8.7"/>
<circle cx="1040.7" cy="1147.5" r="8.7"/><circle cx="917.2" cy="971.7" r="8.7"/><circle cx="1111.9" cy="1060" r="8.7"/><circle cx="1068.9" cy="985.1" r="8.7"/><circle cx="786.8" cy="1179.9" r="8.7"/><circle cx="902.8" cy="1133.4" r="8.7"/>
<circle cx="1039.3" cy="1083.7" r="8.7"/><circle cx="1012.7" cy="1217.3" r="8.7"/><circle cx="1021.7" cy="1192.9" r="8.7"/><circle cx="948" cy="1144.1" r="8.7"/><circle cx="1004.2" cy="1001.7" r="8.7"/><circle cx="941.4" cy="1073.9" r="8.7"/>
<circle cx="1103" cy="1122.1" r="8.7"/><circle cx="1004.5" cy="1152" r="8.7"/><circle cx="1099.7" cy="962" r="8.7"/><circle cx="1102.8" cy="1055.9" r="8.7"/><circle cx="912.7" cy="1134.1" r="8.7"/><circle cx="1081.9" cy="1107.5" r="8.7"/>
<circle cx="883.4" cy="1178.9" r="8.7"/><circle cx="877.3" cy="1092.1" r="8.7"/><circle cx="982" cy="1002.1" r="8.7"/><circle cx="1145.6" cy="960.5" r="8.7"/><circle cx="930.5" cy="1071" r="8.7"/><circle cx="1028" cy="1013.5" r="8.7"/>
<circle cx="1101.9" cy="893.1" r="8.7"/><circle cx="934.9" cy="1040" r="8.7"/><circle cx="804.9" cy="1083.3" r="8.7"/><circle cx="961.8" cy="1024.2" r="8.7"/><circle cx="1034.9" cy="1088.2" r="8.7"/><circle cx="843.6" cy="1177.4" r="8.7"/>
<circle cx="1074.5" cy="1045.7" r="8.7"/><circle cx="804.7" cy="1206.6" r="8.7"/><circle cx="1028" cy="1099.8" r="8.7"/><circle cx="927.4" cy="1016.9" r="8.7"/><circle cx="991.3" cy="1065.6" r="8.7"/><circle cx="954.6" cy="994.2" r="8.7"/>
<circle cx="1029.5" cy="1139.4" r="8.7"/><circle cx="896.1" cy="1231.7" r="8.7"/><circle cx="922.8" cy="1006.6" r="8.7"/><circle cx="950" cy="1047.8" r="8.7"/><circle cx="922.3" cy="1077.4" r="8.7"/><circle cx="973.6" cy="1216.4" r="8.7"/>
<circle cx="1116.6" cy="960.2" r="8.7"/><circle cx="794" cy="1128.1" r="8.7"/><circle cx="1085.3" cy="886.8" r="8.7"/><circle cx="888.7" cy="1170.9" r="8.7"/><circle cx="1058.3" cy="967" r="8.7"/><circle cx="977.7" cy="1059.5" r="8.7"/>
<circle cx="1047.7" cy="1036.2" r="8.7"/><circle cx="935.2" cy="1091.9" r="8.7"/><circle cx="989.6" cy="1036.7" r="8.7"/><circle cx="932.9" cy="1111.5" r="8.7"/><circle cx="952.6" cy="1193.4" r="8.7"/><circle cx="918.1" cy="997.5" r="8.7"/>
<circle cx="920.6" cy="1058.2" r="8.7"/><circle cx="789.5" cy="1198.6" r="8.7"/><circle cx="1097.6" cy="1060.5" r="8.7"/><circle cx="963.6" cy="1115.5" r="8.7"/><circle cx="965.4" cy="1089.7" r="8.7"/><circle cx="940.1" cy="1032.1" r="8.7"/>
<circle cx="1065.4" cy="1155.6" r="8.7"/><circle cx="1035.6" cy="942.5" r="8.7"/><circle cx="865" cy="1114.1" r="8.7"/><circle cx="1099.5" cy="981.3" r="8.7"/><circle cx="1078.3" cy="1001.5" r="8.7"/><circle cx="943.5" cy="1096.4" r="8.7"/>
<circle cx="1000.1" cy="1180.8" r="8.7"/><circle cx="1026.4" cy="1073.1" r="8.7"/><circle cx="815.8" cy="1143.5" r="8.7"/><circle cx="1057.4" cy="1041.6" r="8.7"/><circle cx="943.9" cy="1056.4" r="8.7"/><circle cx="883.5" cy="1037.3" r="8.7"/>
<circle cx="1143.2" cy="942.4" r="8.7"/><circle cx="931.9" cy="1001" r="8.7"/><circle cx="1056.9" cy="1000.2" r="8.7"/><circle cx="1023.8" cy="1083.1" r="8.7"/><circle cx="1011.1" cy="1192.7" r="8.7"/><circle cx="971.9" cy="1031.3" r="8.7"/>
<circle cx="849.7" cy="1153.2" r="8.7"/><circle cx="1066.7" cy="1010.7" r="8.7"/><circle cx="1041.5" cy="1107.4" r="8.7"/><circle cx="885.2" cy="1119.6" r="8.7"/><circle cx="932.3" cy="1093.4" r="8.7"/><circle cx="936.4" cy="1105.9" r="8.7"/>
<circle cx="850.7" cy="1149.8" r="8.7"/><circle cx="866.2" cy="1051.4" r="8.7"/><circle cx="1011.5" cy="1064.4" r="8.7"/><circle cx="836.5" cy="1191.9" r="8.7"/><circle cx="930.2" cy="1060.3" r="8.7"/><circle cx="1004" cy="1079.9" r="8.7"/>
<circle cx="1127.9" cy="1100.8" r="8.7"/><circle cx="966" cy="1065" r="8.7"/><circle cx="961.7" cy="976.5" r="8.7"/><circle cx="1053.6" cy="1020" r="8.7"/><circle cx="1012.1" cy="1207.5" r="8.7"/><circle cx="884.7" cy="1115.7" r="8.7"/>
<circle cx="872.1" cy="1042.8" r="8.7"/><circle cx="1058.2" cy="1007.1" r="8.7"/><circle cx="892.1" cy="1167.7" r="8.7"/><circle cx="1127.4" cy="1029.9" r="8.7"/><circle cx="902.2" cy="1196.3" r="8.7"/><circle cx="859.7" cy="1072.1" r="8.7"/>
<circle cx="1029.4" cy="1162.6" r="8.7"/><circle cx="1048.7" cy="1192.6" r="8.7"/><circle cx="977.8" cy="1105.2" r="8.7"/><circle cx="901.3" cy="1192.5" r="8.7"/><circle cx="1127.1" cy="1016.8" r="8.7"/><circle cx="972" cy="1011.8" r="8.7"/>
<circle cx="922.3" cy="1010.4" r="8.7"/><circle cx="838.2" cy="1175.2" r="8.7"/><circle cx="900.2" cy="1086" r="8.7"/><circle cx="1062.7" cy="1040.6" r="8.7"/><circle cx="943.7" cy="964.2" r="8.7"/><circle cx="1081.7" cy="1083.8" r="8.7"/>
<circle cx="869.3" cy="1037.3" r="8.7"/><circle cx="928.9" cy="1041.2" r="8.7"/><circle cx="842" cy="1140.6" r="8.7"/><circle cx="790.3" cy="1101.4" r="8.7"/><circle cx="978.7" cy="1054.1" r="8.7"/><circle cx="986.5" cy="1010.2" r="8.7"/>
<circle cx="920.1" cy="1132.7" r="8.7"/><circle cx="835.3" cy="1159.1" r="8.7"/><circle cx="897.6" cy="1100" r="8.7"/><circle cx="1060.4" cy="1002.3" r="8.7"/><circle cx="1143.8" cy="1035.2" r="8.7"/><circle cx="963.6" cy="1052.3" r="8.7"/>
<circle cx="910.1" cy="1031.7" r="8.7"/><circle cx="1047.5" cy="955" r="8.7"/><circle cx="879.6" cy="1021.6" r="8.7"/><circle cx="1079.7" cy="999.6" r="8.7"/><circle cx="1082.6" cy="1110.5" r="8.7"/><circle cx="1030.7" cy="937.2" r="8.7"/>
<circle cx="1113.9" cy="1001" r="8.7"/><circle cx="980" cy="1180.6" r="8.7"/><circle cx="817.3" cy="1210.9" r="8.7"/><circle cx="939" cy="1182" r="8.7"/><circle cx="964" cy="1063.8" r="8.7"/><circle cx="905.6" cy="1149.2" r="8.7"/>
<circle cx="959.1" cy="1157.5" r="8.7"/><circle cx="929.8" cy="1212.6" r="8.7"/><circle cx="1069" cy="1010.1" r="8.7"/><circle cx="820" cy="1120.9" r="8.7"/><circle cx="1008.4" cy="1160.1" r="8.7"/><circle cx="930.3" cy="1004.7" r="8.7"/>
<circle cx="969.3" cy="1119.8" r="8.7"/><circle cx="918.7" cy="1076.6" r="8.7"/><circle cx="1161.8" cy="955.6" r="8.7"/><circle cx="937.7" cy="1039" r="8.7"/><circle cx="815" cy="1153.8" r="8.7"/><circle cx="979.5" cy="1181.6" r="8.7"/>
<circle cx="905.4" cy="1168.4" r="8.7"/><circle cx="1091.5" cy="1026.2" r="8.7"/><circle cx="939.1" cy="1013.8" r="8.7"/><circle cx="1044.6" cy="958.5" r="8.7"/><circle cx="1029.7" cy="1047.1" r="8.7"/><circle cx="1061.2" cy="1049.6" r="8.7"/>
<circle cx="1016.3" cy="990.6" r="8.7"/><circle cx="1066.6" cy="1068.2" r="8.7"/><circle cx="1024.3" cy="920" r="8.7"/><circle cx="847.8" cy="1122.6" r="8.7"/><circle cx="939.6" cy="1069" r="8.7"/><circle cx="990" cy="1069.1" r="8.7"/>
<circle cx="1100.5" cy="964.5" r="8.7"/><circle cx="1064.1" cy="1006.4" r="8.7"/><circle cx="1015.6" cy="962.1" r="8.7"/><circle cx="1087.1" cy="1098.9" r="8.7"/><circle cx="1088.3" cy="924.6" r="8.7"/><circle cx="1062.3" cy="1047.1" r="8.7"/>
<circle cx="1024.1" cy="1125.6" r="8.7"/><circle cx="1089.1" cy="939.9" r="8.7"/><circle cx="963.8" cy="958" r="8.7"/><circle cx="865.6" cy="1242.3" r="8.7"/><circle cx="921" cy="1183.6" r="8.7"/><circle cx="912.3" cy="1063.5" r="8.7"/>
<circle cx="1078" cy="1036.4" r="8.7"/><circle cx="896.3" cy="1042.7" r="8.7"/><circle cx="851.7" cy="1158.2" r="8.7"/><circle cx="979.4" cy="977.9" r="8.7"/><circle cx="947.6" cy="1181.6" r="8.7"/><circle cx="856" cy="1177.7" r="8.7"/>
<circle cx="826.1" cy="1104.3" r="8.7"/><circle cx="982.4" cy="1117.8" r="8.7"/><circle cx="1006.9" cy="909.6" r="8.7"/><circle cx="800.4" cy="1218.2" r="8.7"/><circle cx="987.7" cy="1120.7" r="8.7"/><circle cx="843.1" cy="1112.5" r="8.7"/>
<circle cx="873.4" cy="1092.3" r="8.7"/><circle cx="851.2" cy="1123.5" r="8.7"/><circle cx="1030.6" cy="1037.5" r="8.7"/><circle cx="982.8" cy="1098.9" r="8.7"/><circle cx="813.3" cy="1192" r="8.7"/><circle cx="965.1" cy="1132.8" r="8.7"/>
<circle cx="1115.3" cy="1018.6" r="8.7"/><circle cx="1064" cy="1146.7" r="8.7"/><circle cx="1003.9" cy="1103.4" r="8.7"/><circle cx="916.9" cy="1146.1" r="8.7"/><circle cx="923" cy="1111.3" r="8.7"/><circle cx="934.2" cy="1046" r="8.7"/>
<circle cx="894.3" cy="1195.6" r="8.7"/><circle cx="877.2" cy="1101.7" r="8.7"/><circle cx="1002.3" cy="1058.4" r="8.7"/><circle cx="837.9" cy="1121" r="8.7"/><circle cx="1043.5" cy="1043" r="8.7"/><circle cx="1071.9" cy="1137.2" r="8.7"/>
<circle cx="935.5" cy="1053.1" r="8.7"/><circle cx="946.5" cy="1016.2" r="8.7"/><circle cx="845.9" cy="1024.6" r="8.7"/><circle cx="1128.1" cy="949.6" r="8.7"/><circle cx="967.1" cy="1065.7" r="8.7"/><circle cx="852.1" cy="1121.9" r="8.7"/>
<circle cx="1043.3" cy="1059" r="8.7"/><circle cx="1035.7" cy="1031.7" r="8.7"/><circle cx="1000.3" cy="1040.4" r="8.7"/><circle cx="989.9" cy="1018.5" r="8.7"/><circle cx="959.5" cy="1106.2" r="8.7"/><circle cx="1081.6" cy="1007.2" r="8.7"/>
<circle cx="1041.2" cy="1010.7" r="8.7"/><circle cx="1004.2" cy="916.5" r="8.7"/><circle cx="995.3" cy="1174" r="8.7"/><circle cx="1004.9" cy="1073.7" r="8.7"/><circle cx="914.3" cy="1037.4" r="8.7"/><circle cx="1055.6" cy="1000.8" r="8.7"/>
<circle cx="969.3" cy="1155.5" r="8.7"/><circle cx="954.8" cy="1105" r="8.7"/><circle cx="1019.1" cy="984.4" r="8.7"/><circle cx="1023.1" cy="974.6" r="8.7"/><circle cx="942.6" cy="1097.3" r="8.7"/><circle cx="1030.6" cy="1034.7" r="8.7"/>
<circle cx="1096.3" cy="1086.8" r="8.7"/><circle cx="1119.6" cy="1140.7" r="8.7"/><circle cx="926.5" cy="936.2" r="8.7"/><circle cx="1061.6" cy="1058.7" r="8.7"/><circle cx="1069.7" cy="1010" r="8.7"/><circle cx="946.1" cy="1047.4" r="8.7"/>
<circle cx="848.8" cy="1106.8" r="8.7"/><circle cx="1105.2" cy="1068.4" r="8.7"/><circle cx="879.1" cy="1038.7" r="8.7"/><circle cx="838.8" cy="1120.3" r="8.7"/><circle cx="931" cy="1127.2" r="8.7"/><circle cx="1082.3" cy="966.4" r="8.7"/>
<circle cx="1111.3" cy="1062.3" r="8.7"/><circle cx="1030.3" cy="979.5" r="8.7"/><circle cx="1002.2" cy="981.2" r="8.7"/><circle cx="1061" cy="1167.9" r="8.7"/><circle cx="994.7" cy="1035.3" r="8.7"/><circle cx="1021.6" cy="1149.1" r="8.7"/>
<circle cx="849.7" cy="1069.1" r="8.7"/><circle cx="991" cy="1143.2" r="8.7"/><circle cx="891.2" cy="1145.3" r="8.7"/><circle cx="1044.3" cy="1063.5" r="8.7"/><circle cx="1048.9" cy="1115" r="8.7"/><circle cx="935.1" cy="1094.1" r="8.7"/>
<circle cx="955.9" cy="1084" r="8.7"/><circle cx="1066.4" cy="1120.2" r="8.7"/><circle cx="1101.9" cy="922.3" r="8.7"/><circle cx="1043.2" cy="1069.5" r="8.7"/><circle cx="885.6" cy="1081.2" r="8.7"/><circle cx="1110.9" cy="1096.1" r="8.7"/>
<circle cx="1119.4" cy="1025.8" r="8.7"/><circle cx="1007" cy="1145.1" r="8.7"/><circle cx="1023.2" cy="975" r="8.7"/><circle cx="928.9" cy="1121.5" r="8.7"/><circle cx="929" cy="1105" r="8.7"/><circle cx="926.6" cy="1240.2" r="8.7"/>
<circle cx="980.5" cy="1091.9" r="8.7"/><circle cx="1046.6" cy="1068.4" r="8.7"/><circle cx="955.2" cy="1093.6" r="8.7"/><circle cx="865.3" cy="1210.6" r="8.7"/><circle cx="1010.8" cy="1017.1" r="8.7"/><circle cx="1079.2" cy="1174.7" r="8.7"/>
<circle cx="985.4" cy="1062.4" r="8.7"/><circle cx="859.4" cy="1163.7" r="8.7"/><circle cx="1035.1" cy="985.8" r="8.7"/><circle cx="1068.8" cy="1155.1" r="8.7"/><circle cx="885.4" cy="1033.2" r="8.7"/><circle cx="1078.5" cy="1116.2" r="8.7"/>
<circle cx="1062.1" cy="1107.4" r="8.7"/><circle cx="989.1" cy="1040.8" r="8.7"/><circle cx="982.3" cy="1106.6" r="8.7"/><circle cx="849.4" cy="1073.7" r="8.7"/><circle cx="898.6" cy="1037.8" r="8.7"/><circle cx="1005.6" cy="1075.3" r="8.7"/>
<circle cx="882.3" cy="1153.6" r="8.7"/><circle cx="1078.2" cy="1022.8" r="8.7"/><circle cx="938.2" cy="1171.6" r="8.7"/><circle cx="966.1" cy="1074.6" r="8.7"/><circle cx="947.1" cy="1189.7" r="8.7"/><circle cx="1129.6" cy="1004.8" r="8.7"/>
<circle cx="1019.1" cy="1087.1" r="8.7"/><circle cx="1103" cy="1096.1" r="8.7"/><circle cx="1009.1" cy="1088.6" r="8.7"/><circle cx="1088.2" cy="1099.8" r="8.7"/><circle cx="1046.8" cy="910.9" r="8.7"/><circle cx="1091.2" cy="909.6" r="8.7"/>
<circle cx="903.2" cy="1183.8" r="8.7"/><circle cx="956.7" cy="1096.3" r="8.7"/><circle cx="836.1" cy="1224.8" r="8.7"/><circle cx="1029.4" cy="963.1" r="8.7"/><circle cx="908.2" cy="1062.4" r="8.7"/><circle cx="1063.8" cy="1021.5" r="8.7"/>
<circle cx="1087.1" cy="1069.8" r="8.7"/><circle cx="828.6" cy="1061.5" r="8.7"/><circle cx="1036.8" cy="924.3" r="8.7"/><circle cx="1093.3" cy="1025.9" r="8.7"/><circle cx="995" cy="1057.6" r="8.7"/><circle cx="911.2" cy="1180.1" r="8.7"/>
<circle cx="880.6" cy="1061.2" r="8.7"/><circle cx="917.6" cy="992.5" r="8.7"/><circle cx="1005.9" cy="1010.7" r="8.7"/><circle cx="860.3" cy="1113.1" r="8.7"/><circle cx="992.4" cy="1075.5" r="8.7"/><circle cx="1038.9" cy="1063.3" r="8.7"/>
<circle cx="868.6" cy="1085.9" r="8.7"/><circle cx="942.2" cy="1012" r="8.7"/><circle cx="852.6" cy="1145.2" r="8.7"/><circle cx="929.3" cy="1074.3" r="8.7"/><circle cx="1117.6" cy="1026.7" r="8.7"/><circle cx="970.6" cy="927.4" r="8.7"/>
<circle cx="1011.8" cy="1155.3" r="8.7"/><circle cx="811.5" cy="1245" r="8.7"/><circle cx="889.9" cy="1106.2" r="8.7"/><circle cx="902.1" cy="1128.5" r="8.7"/><circle cx="1050.1" cy="983.4" r="8.7"/><circle cx="859.1" cy="1191.1" r="8.7"/>
<circle cx="922.6" cy="1087.1" r="8.7"/><circle cx="889.1" cy="1101.9" r="8.7"/><circle cx="1125.9" cy="1022" r="8.7"/><circle cx="1049.4" cy="968.5" r="8.7"/><circle cx="864.6" cy="1123.6" r="8.7"/><circle cx="880.9" cy="1090" r="8.7"/>
<circle cx="828.8" cy="1237.6" r="8.7"/><circle cx="910.6" cy="1053.3" r="8.7"/><circle cx="902.3" cy="1171.5" r="8.7"/><circle cx="958.1" cy="1100.7" r="8.7"/><circle cx="964" cy="1093.1" r="8.7"/><circle cx="973" cy="1184.5" r="8.7"/>
<circle cx="1048.9" cy="1069.1" r="8.7"/><circle cx="1025.7" cy="979" r="8.7"/><circle cx="829.1" cy="1096.1" r="8.7"/><circle cx="1164.3" cy="1020" r="8.7"/><circle cx="1092.7" cy="1062.5" r="8.7"/><circle cx="884.9" cy="1034.6" r="8.7"/>
<circle cx="928.2" cy="1019.5" r="8.7"/><circle cx="992.7" cy="1156.7" r="8.7"/><circle cx="888.8" cy="1064.4" r="8.7"/><circle cx="965.7" cy="962.7" r="8.7"/><circle cx="947.5" cy="1125.3" r="8.7"/><circle cx="1026.5" cy="1086.5" r="8.7"/>
<circle cx="1105.2" cy="927" r="8.7"/><circle cx="1059" cy="1074.9" r="8.7"/><circle cx="933.8" cy="992.8" r="8.7"/><circle cx="961.7" cy="982.4" r="8.7"/><circle cx="833.3" cy="1202.2" r="8.7"/><circle cx="1007.4" cy="1211.9" r="8.7"/>
<circle cx="828.9" cy="1147.8" r="8.7"/><circle cx="923" cy="1217.6" r="8.7"/><circle cx="1073" cy="1193.3" r="8.7"/><circle cx="1122.7" cy="1043.8" r="8.7"/><circle cx="1014.3" cy="922.4" r="8.7"/><circle cx="818.6" cy="1191.9" r="8.7"/>
<circle cx="999.7" cy="1063.8" r="8.7"/><circle cx="1035.8" cy="1098.8" r="8.7"/><circle cx="901.8" cy="1188.9" r="8.7"/><circle cx="975" cy="1096.6" r="8.7"/><circle cx="821.4" cy="1232.6" r="8.7"/><circle cx="1105" cy="1149.2" r="8.7"/>
<circle cx="1075.7" cy="1096.7" r="8.7"/><circle cx="1001.8" cy="1122.8" r="8.7"/><circle cx="974" cy="1018.1" r="8.7"/><circle cx="951.1" cy="1046.8" r="8.7"/><circle cx="988.6" cy="996.1" r="8.7"/><circle cx="971" cy="1088.7" r="8.7"/>
<circle cx="952.7" cy="1099.1" r="8.7"/><circle cx="1084.4" cy="1062.2" r="8.7"/><circle cx="1139.5" cy="1012.1" r="8.7"/><circle cx="991.2" cy="1134" r="8.7"/><circle cx="1034.6" cy="1145.3" r="8.7"/><circle cx="1060.6" cy="1004.8" r="8.7"/>
<circle cx="1104.1" cy="1061.4" r="8.7"/><circle cx="1059.4" cy="1171.4" r="8.7"/><circle cx="867.4" cy="1028.3" r="8.7"/><circle cx="966.9" cy="1101.3" r="8.7"/><circle cx="1063.1" cy="1103.7" r="8.7"/><circle cx="1137.8" cy="1014.7" r="8.7"/>
<circle cx="1008.3" cy="968.4" r="8.7"/><circle cx="879.6" cy="1068.7" r="8.7"/><circle cx="1035.2" cy="1078.2" r="8.7"/><circle cx="1010.6" cy="1059.6" r="8.7"/><circle cx="968.7" cy="1127.3" r="8.7"/><circle cx="986.2" cy="1140.5" r="8.7"/>
<circle cx="968.6" cy="975.2" r="8.7"/><circle cx="964.7" cy="1197.9" r="8.7"/><circle cx="944.9" cy="1112.4" r="8.7"/><circle cx="1019" cy="918.7" r="8.7"/><circle cx="982.9" cy="1154.3" r="8.7"/><circle cx="1050" cy="1126.2" r="8.7"/>
<circle cx="955.5" cy="1132.2" r="8.7"/><circle cx="825.4" cy="1128.3" r="8.7"/><circle cx="1066.2" cy="980.5" r="8.7"/><circle cx="975.7" cy="925" r="8.7"/><circle cx="959.9" cy="1078.6" r="8.7"/><circle cx="1055.5" cy="1126.1" r="8.7"/>
<circle cx="1010.4" cy="997.9" r="8.7"/><circle cx="897.6" cy="1182.6" r="8.7"/><circle cx="1016.6" cy="1088.2" r="8.7"/><circle cx="1012.1" cy="1004.7" r="8.7"/><circle cx="998.4" cy="1136.9" r="8.7"/><circle cx="998.8" cy="1023.6" r="8.7"/>
<circle cx="854.5" cy="1073.6" r="8.7"/><circle cx="1013.4" cy="1037.4" r="8.7"/><circle cx="1056.3" cy="1046.8" r="8.7"/><circle cx="998.5" cy="1188.1" r="8.7"/><circle cx="828.9" cy="1161.8" r="8.7"/><circle cx="1099.7" cy="1028.7" r="8.7"/>
<circle cx="924.7" cy="1043.6" r="8.7"/><circle cx="960.7" cy="1126.7" r="8.7"/><circle cx="1122.7" cy="1043.9" r="8.7"/><circle cx="933.9" cy="1203.2" r="8.7"/><circle cx="908.1" cy="1111.2" r="8.7"/><circle cx="945.2" cy="1101.8" r="8.7"/>
<circle cx="895.6" cy="1138.9" r="8.7"/><circle cx="1028.7" cy="1235.6" r="8.7"/><circle cx="869.6" cy="1092.5" r="8.7"/><circle cx="845.7" cy="1231.5" r="8.7"/><circle cx="884.3" cy="1076.3" r="8.7"/><circle cx="907.9" cy="1093.5" r="8.7"/>
<circle cx="1032.8" cy="1078.2" r="8.7"/><circle cx="922.2" cy="1098.8" r="8.7"/><circle cx="1005.3" cy="1173.5" r="8.7"/><circle cx="905.9" cy="1107" r="8.7"/><circle cx="956.1" cy="1112.9" r="8.7"/><circle cx="931" cy="1013.6" r="8.7"/>
<circle cx="889.9" cy="1197.2" r="8.7"/><circle cx="1014.8" cy="970.3" r="8.7"/><circle cx="1107" cy="1030.9" r="8.7"/><circle cx="1115.1" cy="1046.5" r="8.7"/><circle cx="1033.2" cy="1074.4" r="8.7"/><circle cx="899.2" cy="1177.7" r="8.7"/>
<circle cx="867.4" cy="1147.9" r="8.7"/><circle cx="902.1" cy="1038.6" r="8.7"/><circle cx="1070.6" cy="1046.4" r="8.7"/><circle cx="985.4" cy="1002.1" r="8.7"/><circle cx="1064.9" cy="1099" r="8.7"/><circle cx="1017.1" cy="1162.8" r="8.7"/>
<circle cx="988.1" cy="1005.2" r="8.7"/><circle cx="860.2" cy="1022.4" r="8.7"/><circle cx="979.6" cy="1203.2" r="8.7"/><circle cx="1148.2" cy="1040.3" r="8.7"/><circle cx="1146.3" cy="970.4" r="8.7"/><circle cx="820.3" cy="1171.5" r="8.7"/>
<circle cx="1027.3" cy="1110.9" r="8.7"/><circle cx="871" cy="1126.6" r="8.7"/><circle cx="1066.8" cy="956.4" r="8.7"/><circle cx="1040.4" cy="1079.6" r="8.7"/><circle cx="792.5" cy="1128.3" r="8.7"/><circle cx="868.7" cy="1020.8" r="8.7"/>
<circle cx="1116.9" cy="1003.1" r="8.7"/><circle cx="828.7" cy="1130.7" r="8.7"/><circle cx="810.3" cy="1228.6" r="8.7"/><circle cx="956.9" cy="1151.8" r="8.7"/><circle cx="1094.4" cy="980.9" r="8.7"/><circle cx="1067.2" cy="941.4" r="8.7"/>
<circle cx="856.2" cy="1117.2" r="8.7"/><circle cx="975.2" cy="1040.6" r="8.7"/><circle cx="926.5" cy="1012.3" r="8.7"/><circle cx="866.5" cy="1104.8" r="8.7"/><circle cx="1095.5" cy="1038.4" r="8.7"/><circle cx="940" cy="1049" r="8.7"/>
<circle cx="1054.4" cy="944.3" r="8.7"/><circle cx="1065.3" cy="1046.4" r="8.7"/><circle cx="1059.7" cy="1062.6" r="8.7"/><circle cx="1046.2" cy="1092.5" r="8.7"/><circle cx="945.6" cy="1075.5" r="8.7"/><circle cx="844.9" cy="1082.8" r="8.7"/>
<circle cx="1017" cy="1025.6" r="8.7"/><circle cx="1043.7" cy="1020.3" r="8.7"/><circle cx="902.1" cy="1206.1" r="8.7"/><circle cx="985.3" cy="1013.7" r="8.7"/><circle cx="876.4" cy="1112.6" r="8.7"/><circle cx="1059" cy="968.1" r="8.7"/>
<circle cx="1097.8" cy="1024.8" r="8.7"/><circle cx="1125.9" cy="1042.2" r="8.7"/><circle cx="927.8" cy="1143.5" r="8.7"/><circle cx="932.5" cy="1040" r="8.7"/><circle cx="786.5" cy="1118.5" r="8.7"/><circle cx="1132.5" cy="1071.6" r="8.7"/>
<circle cx="936.1" cy="1104" r="8.7"/><circle cx="879" cy="1050.8" r="8.7"/><circle cx="813.6" cy="1205.1" r="8.7"/><circle cx="978.5" cy="993.7" r="8.7"/><circle cx="958" cy="988.8" r="8.7"/><circle cx="996.9" cy="1084.1" r="8.7"/>
<circle cx="1001.2" cy="1024.3" r="8.7"/><circle cx="1094.1" cy="971.4" r="8.7"/><circle cx="1049.6" cy="906.8" r="8.7"/><circle cx="957.8" cy="1218.4" r="8.7"/><circle cx="879.6" cy="1045.2" r="8.7"/><circle cx="1092.2" cy="1056.3" r="8.7"/>
<circle cx="957.1" cy="1020.8" r="8.7"/><circle cx="1050.4" cy="1146.4" r="8.7"/><circle cx="864.5" cy="1177" r="8.7"/><circle cx="950.3" cy="1088.7" r="8.7"/><circle cx="978.4" cy="963.7" r="8.7"/><circle cx="1013.8" cy="1142.7" r="8.7"/>
<circle cx="1135.9" cy="1091.1" r="8.7"/><circle cx="976.4" cy="1076.2" r="8.7"/><circle cx="1043.1" cy="942.9" r="8.7"/><circle cx="1086.8" cy="966.5" r="8.7"/><circle cx="1106.9" cy="988.1" r="8.7"/><circle cx="988.8" cy="964" r="8.7"/>
<circle cx="1117.2" cy="964.4" r="8.7"/><circle cx="1033.5" cy="997.2" r="8.7"/><circle cx="1077.8" cy="1112.5" r="8.7"/><circle cx="1149" cy="1008.6" r="8.7"/><circle cx="1090.4" cy="1053.3" r="8.7"/><circle cx="1056.4" cy="938.8" r="8.7"/>
<circle cx="996.5" cy="978.5" r="8.7"/><circle cx="1164.1" cy="978.6" r="8.7"/><circle cx="1039.2" cy="879" r="8.7"/><circle cx="1074.1" cy="921" r="8.7"/><circle cx="1071.2" cy="926.2" r="8.7"/><circle cx="1034.8" cy="963.6" r="8.7"/>
<circle cx="1060.1" cy="1027.4" r="8.7"/><circle cx="1000.3" cy="933.4" r="8.7"/><circle cx="1032" cy="921.3" r="8.7"/><circle cx="936" cy="1056.8" r="8.7"/><circle cx="1001" cy="920.8" r="8.7"/><circle cx="1134.7" cy="982" r="8.7"/>
<circle cx="1032.2" cy="997.4" r="8.7"/><circle cx="1029.7" cy="1037.4" r="8.7"/><circle cx="1152.6" cy="1002.8" r="8.7"/><circle cx="1021.5" cy="1005.2" r="8.7"/><circle cx="966.8" cy="895.5" r="8.7"/><circle cx="1029.4" cy="888.6" r="8.7"/>
<circle cx="1022.3" cy="969.1" r="8.7"/><circle cx="1119.9" cy="899.5" r="8.7"/><circle cx="993.6" cy="879.8" r="8.7"/><circle cx="1179.8" cy="935.3" r="8.7"/><circle cx="941.3" cy="965.8" r="8.7"/><circle cx="1079.6" cy="918.9" r="8.7"/>
<circle cx="1050.4" cy="897" r="8.7"/><circle cx="1076.9" cy="1021.6" r="8.7"/><circle cx="1073" cy="961.6" r="8.7"/><circle cx="1080.1" cy="939" r="8.7"/><circle cx="1157.9" cy="985.1" r="8.7"/><circle cx="1023.1" cy="1028.6" r="8.7"/>
<circle cx="1021.2" cy="930.1" r="8.7"/><circle cx="1023.2" cy="1096.2" r="8.7"/><circle cx="1051.7" cy="881.6" r="8.7"/><circle cx="1007.9" cy="1178.8" r="8.7"/><circle cx="1094.2" cy="1000.3" r="8.7"/><circle cx="1097.6" cy="893.3" r="8.7"/>
<circle cx="1128.4" cy="1004" r="8.7"/><circle cx="963.8" cy="956.3" r="8.7"/><circle cx="999.7" cy="1004.9" r="8.7"/><circle cx="1076.4" cy="1013.5" r="8.7"/><circle cx="1112.3" cy="977.2" r="8.7"/><circle cx="998.9" cy="970.7" r="8.7"/>
<circle cx="1026.4" cy="989.6" r="8.7"/><circle cx="1082.8" cy="1080.6" r="8.7"/><circle cx="1068.4" cy="915.6" r="8.7"/><circle cx="1049.9" cy="954.3" r="8.7"/><circle cx="1092.4" cy="999.1" r="8.7"/><circle cx="1018.3" cy="945.8" r="8.7"/>
<circle cx="995.5" cy="942.8" r="8.7"/><circle cx="1034.8" cy="931.9" r="8.7"/><circle cx="958.8" cy="954.9" r="8.7"/><circle cx="1163.7" cy="927.3" r="8.7"/><circle cx="1065.2" cy="935.6" r="8.7"/><circle cx="1107.9" cy="902.2" r="8.7"/>
<circle cx="1053.8" cy="1010.9" r="8.7"/><circle cx="1141.3" cy="989.3" r="8.7"/><circle cx="1125.6" cy="1053.2" r="8.7"/><circle cx="1033.5" cy="1034.9" r="8.7"/><circle cx="1074.9" cy="917.3" r="8.7"/><circle cx="1022.3" cy="943" r="8.7"/>
<circle cx="1048" cy="1077.2" r="8.7"/><circle cx="999.4" cy="949.3" r="8.7"/><circle cx="1116.3" cy="1100.2" r="8.7"/><circle cx="1021.3" cy="949.2" r="8.7"/><circle cx="1118.8" cy="1036.3" r="8.7"/><circle cx="1094.8" cy="889.7" r="8.7"/>
<circle cx="1004.1" cy="978.5" r="8.7"/><circle cx="1012" cy="956.1" r="8.7"/><circle cx="1055.7" cy="994.8" r="8.7"/><circle cx="1079" cy="1020.9" r="8.7"/><circle cx="1122.6" cy="958.6" r="8.7"/><circle cx="1085.5" cy="945.1" r="8.7"/>
<circle cx="964.1" cy="984.5" r="8.7"/><circle cx="1034.4" cy="917.3" r="8.7"/><circle cx="993.5" cy="961.4" r="8.7"/><circle cx="989.6" cy="966.1" r="8.7"/><circle cx="1142.1" cy="1063.9" r="8.7"/><circle cx="991" cy="922.4" r="8.7"/>
<circle cx="974.3" cy="944.6" r="8.7"/><circle cx="947.1" cy="1114.6" r="8.7"/><circle cx="910.8" cy="988.2" r="8.7"/><circle cx="1092.3" cy="963.6" r="8.7"/><circle cx="1066.5" cy="951.2" r="8.7"/><circle cx="1041.3" cy="949.9" r="8.7"/>
<circle cx="954.5" cy="941.1" r="8.7"/><circle cx="1040.7" cy="895.8" r="8.7"/><circle cx="1023.9" cy="1041.8" r="8.7"/><circle cx="1111.2" cy="944.9" r="8.7"/><circle cx="961.2" cy="1006.5" r="8.7"/><circle cx="954.2" cy="891.8" r="8.7"/>
<circle cx="1081.6" cy="882.2" r="8.7"/><circle cx="1139.8" cy="939.7" r="8.7"/><circle cx="1080" cy="1013.9" r="8.7"/><circle cx="1104.7" cy="915.6" r="8.7"/><circle cx="1063.9" cy="1064.9" r="8.7"/><circle cx="930.6" cy="1124.6" r="8.7"/>
<circle cx="1096.6" cy="954.1" r="8.7"/><circle cx="1096.7" cy="920.8" r="8.7"/><circle cx="1078.2" cy="942.4" r="8.7"/><circle cx="949.8" cy="1000.3" r="8.7"/><circle cx="1038.8" cy="895.1" r="8.7"/><circle cx="1150.1" cy="1041.9" r="8.7"/>
<circle cx="993.4" cy="903" r="8.7"/><circle cx="1120.8" cy="966" r="8.7"/><circle cx="1102.2" cy="931.1" r="8.7"/><circle cx="1102.8" cy="1009.1" r="8.7"/><circle cx="1120.3" cy="979.7" r="8.7"/><circle cx="1094.1" cy="905.8" r="8.7"/>
<circle cx="1112.6" cy="922.3" r="8.7"/><circle cx="1074.1" cy="948" r="8.7"/><circle cx="1024.1" cy="988.6" r="8.7"/><circle cx="1039.3" cy="996.8" r="8.7"/><circle cx="1069.9" cy="969" r="8.7"/><circle cx="984.1" cy="1051.4" r="8.7"/>
<circle cx="1109.8" cy="967.1" r="8.7"/><circle cx="1080.1" cy="983" r="8.7"/><circle cx="956.8" cy="927.4" r="8.7"/><circle cx="1113.3" cy="944.9" r="8.7"/><circle cx="1107.1" cy="997.9" r="8.7"/><circle cx="1060.2" cy="1088.3" r="8.7"/>
<circle cx="1060.6" cy="935" r="8.7"/><circle cx="1105.4" cy="928.5" r="8.7"/><circle cx="1050.7" cy="944.7" r="8.7"/><circle cx="1085" cy="949.3" r="8.7"/><circle cx="1027.3" cy="943" r="8.7"/><circle cx="1068.6" cy="989.1" r="8.7"/>
<circle cx="1045.8" cy="934.1" r="8.7"/><circle cx="1100.3" cy="926.9" r="8.7"/><circle cx="1077.2" cy="992" r="8.7"/><circle cx="1024.5" cy="1004.3" r="8.7"/><circle cx="1062" cy="1057.5" r="8.7"/><circle cx="1126.8" cy="971.8" r="8.7"/>
<circle cx="1105.2" cy="987.4" r="8.7"/><circle cx="1056.5" cy="940.2" r="8.7"/><circle cx="1050.3" cy="930" r="8.7"/><circle cx="963.1" cy="955.3" r="8.7"/><circle cx="1085.2" cy="1008.7" r="8.7"/><circle cx="1046.2" cy="961.3" r="8.7"/>
<circle cx="1145" cy="1030.8" r="8.7"/><circle cx="1067.8" cy="969.4" r="8.7"/><circle cx="1152.9" cy="1038.6" r="8.7"/><circle cx="1043.8" cy="996.8" r="8.7"/><circle cx="948.3" cy="961.4" r="8.7"/><circle cx="1053" cy="956.6" r="8.7"/>
<circle cx="1100.3" cy="930.5" r="8.7"/><circle cx="1042.4" cy="965.7" r="8.7"/><circle cx="1049.9" cy="1008.5" r="8.7"/><circle cx="1062.5" cy="926.4" r="8.7"/><circle cx="1069.7" cy="932.9" r="8.7"/><circle cx="964.2" cy="956.6" r="8.7"/>
<circle cx="1081.6" cy="883.8" r="8.7"/><circle cx="1026.1" cy="1084.5" r="8.7"/><circle cx="983" cy="994.9" r="8.7"/><circle cx="1108" cy="926.1" r="8.7"/><circle cx="1074.9" cy="979.5" r="8.7"/><circle cx="1119" cy="954.7" r="8.7"/>
<circle cx="1127.2" cy="940.7" r="8.7"/><circle cx="1022.5" cy="907.8" r="8.7"/><circle cx="1056.5" cy="949.6" r="8.7"/><circle cx="1113.2" cy="918.2" r="8.7"/><circle cx="1140.4" cy="967.5" r="8.7"/><circle cx="1169.8" cy="950.3" r="8.7"/>
<circle cx="1123.9" cy="942.6" r="8.7"/><circle cx="1028" cy="928.2" r="8.7"/><circle cx="1007.8" cy="1037.8" r="8.7"/><circle cx="1012.1" cy="912.3" r="8.7"/><circle cx="1105.9" cy="948.9" r="8.7"/><circle cx="1078.6" cy="970.3" r="8.7"/>
<circle cx="1076.7" cy="961.7" r="8.7"/><circle cx="979.7" cy="981.7" r="8.7"/><circle cx="1147.7" cy="985.6" r="8.7"/><circle cx="1016.4" cy="978.4" r="8.7"/><circle cx="1059.7" cy="985.4" r="8.7"/><circle cx="1061.7" cy="960.9" r="8.7"/>
<circle cx="969" cy="971.8" r="8.7"/><circle cx="1102" cy="916.2" r="8.7"/><circle cx="1127.5" cy="995.5" r="8.7"/><circle cx="1007.6" cy="973.6" r="8.7"/><circle cx="991.3" cy="986.3" r="8.7"/><circle cx="985.7" cy="981.3" r="8.7"/>
<circle cx="1055.4" cy="953.1" r="8.7"/><circle cx="1051.9" cy="1012.5" r="8.7"/><circle cx="1075.4" cy="1009.2" r="8.7"/><circle cx="898.6" cy="1014.8" r="8.7"/><circle cx="1071.4" cy="964.3" r="8.7"/><circle cx="1108.1" cy="998.4" r="8.7"/>
<circle cx="1036.3" cy="955" r="8.7"/><circle cx="1018.5" cy="1021.9" r="8.7"/><circle cx="1133.6" cy="903.2" r="8.7"/><circle cx="1093.8" cy="907.3" r="8.7"/><circle cx="935.1" cy="956.2" r="8.7"/><circle cx="1023.7" cy="962.2" r="8.7"/>
<circle cx="1018.3" cy="1227.3" r="8.7"/><circle cx="1021.1" cy="1227" r="8.7"/><circle cx="991.8" cy="1205.3" r="8.7"/><circle cx="989.9" cy="1222.1" r="8.7"/><circle cx="964.9" cy="1206.5" r="8.7"/><circle cx="1060" cy="1191.6" r="8.7"/>
<circle cx="914.2" cy="1217.7" r="8.7"/><circle cx="1030.7" cy="1168" r="8.7"/><circle cx="903.8" cy="1152.4" r="8.7"/><circle cx="922.9" cy="1227.7" r="8.7"/><circle cx="935.1" cy="1161.7" r="8.7"/><circle cx="1031.1" cy="1171" r="8.7"/>
<circle cx="881" cy="1260" r="8.7"/><circle cx="873.5" cy="1231.3" r="8.7"/><circle cx="806" cy="1174.1" r="8.7"/><circle cx="936.6" cy="1182.6" r="8.7"/><circle cx="811" cy="1188.2" r="8.7"/><circle cx="1018.9" cy="1151.1" r="8.7"/>
<circle cx="963.8" cy="1215.3" r="8.7"/><circle cx="852.4" cy="1211.8" r="8.7"/><circle cx="871.8" cy="1171.5" r="8.7"/><circle cx="991.5" cy="1212.1" r="8.7"/><circle cx="784.7" cy="1137.9" r="8.7"/><circle cx="932.7" cy="1202.8" r="8.7"/>
<circle cx="819.5" cy="1224.5" r="8.7"/><circle cx="851.5" cy="1188.9" r="8.7"/><circle cx="923.9" cy="1197.9" r="8.7"/><circle cx="992.7" cy="1230.3" r="8.7"/><circle cx="932.4" cy="1249.4" r="8.7"/><circle cx="966.8" cy="1237.8" r="8.7"/>
<circle cx="825.4" cy="1230" r="8.7"/><circle cx="983.2" cy="1238.2" r="8.7"/><circle cx="845" cy="1209.3" r="8.7"/><circle cx="967.4" cy="1203" r="8.7"/><circle cx="989.1" cy="1182.3" r="8.7"/><circle cx="828.4" cy="1208.6" r="8.7"/>
<circle cx="958.1" cy="1175.6" r="8.7"/><circle cx="1040.1" cy="1215.9" r="8.7"/><circle cx="1016.4" cy="1201.4" r="8.7"/><circle cx="976" cy="1208.3" r="8.7"/><circle cx="906.4" cy="1147.8" r="8.7"/><circle cx="861.6" cy="1237.7" r="8.7"/>
<circle cx="944.6" cy="1255" r="8.7"/><circle cx="861.5" cy="1224.7" r="8.7"/><circle cx="798.1" cy="1166.6" r="8.7"/><circle cx="951" cy="1241.2" r="8.7"/><circle cx="892.8" cy="1204.7" r="8.7"/><circle cx="931.7" cy="1242.7" r="8.7"/>
<circle cx="863.7" cy="1209.8" r="8.7"/><circle cx="943.7" cy="1176.7" r="8.7"/><circle cx="940.9" cy="1250.7" r="8.7"/><circle cx="890.4" cy="1197.5" r="8.7"/><circle cx="1027.8" cy="1166.4" r="8.7"/><circle cx="945.8" cy="1231.6" r="8.7"/>
<circle cx="839.5" cy="1210.4" r="8.7"/><circle cx="1099.9" cy="1164.6" r="8.7"/><circle cx="933.8" cy="1174.9" r="8.7"/><circle cx="928" cy="1250" r="8.7"/><circle cx="1045.7" cy="1106.8" r="8.7"/><circle cx="847.1" cy="1219.8" r="8.7"/>
<circle cx="835.1" cy="1194.1" r="8.7"/><circle cx="817.7" cy="1190.7" r="8.7"/><circle cx="869" cy="1248.3" r="8.7"/><circle cx="1024" cy="1144.8" r="8.7"/><circle cx="939.5" cy="1252" r="8.7"/><circle cx="990.3" cy="1217.9" r="8.7"/>
<circle cx="953.1" cy="1206" r="8.7"/><circle cx="790.4" cy="1174.8" r="8.7"/><circle cx="1019.9" cy="1216.7" r="8.7"/><circle cx="1001.5" cy="1198.7" r="8.7"/><circle cx="974.2" cy="1229.3" r="8.7"/><circle cx="1029.2" cy="1193.2" r="8.7"/>
<circle cx="933.1" cy="1212.1" r="8.7"/><circle cx="974.1" cy="1188.7" r="8.7"/><circle cx="924.9" cy="1132.8" r="8.7"/><circle cx="923.4" cy="1189.1" r="8.7"/><circle cx="855.9" cy="1162.8" r="8.7"/><circle cx="921.6" cy="1178" r="8.7"/>
<circle cx="909" cy="1180.4" r="8.7"/><circle cx="981.5" cy="1194.8" r="8.7"/><circle cx="906.3" cy="1131.7" r="8.7"/><circle cx="987.3" cy="1182.6" r="8.7"/><circle cx="959.1" cy="1197.2" r="8.7"/><circle cx="935.4" cy="1278.7" r="8.7"/>
<circle cx="942.9" cy="1184" r="8.7"/><circle cx="869.4" cy="1198.5" r="8.7"/><circle cx="916.3" cy="1210.1" r="8.7"/><circle cx="996.7" cy="1181.1" r="8.7"/><circle cx="860.6" cy="1237.3" r="8.7"/><circle cx="886.7" cy="1244.6" r="8.7"/>
<circle cx="961.2" cy="1217.5" r="8.7"/><circle cx="917.6" cy="1224.6" r="8.7"/><circle cx="988" cy="1215.7" r="8.7"/><circle cx="929.4" cy="1247.8" r="8.7"/><circle cx="974.2" cy="1219" r="8.7"/><circle cx="857" cy="1172.9" r="8.7"/>
<circle cx="978" cy="1191" r="8.7"/><circle cx="922.3" cy="1260.4" r="8.7"/><circle cx="898.7" cy="1197.7" r="8.7"/><circle cx="989.9" cy="1242.2" r="8.7"/><circle cx="932.1" cy="1211.8" r="8.7"/><circle cx="990.6" cy="1136.2" r="8.7"/>
<circle cx="889.4" cy="1223.4" r="8.7"/><circle cx="983.8" cy="1195.8" r="8.7"/><circle cx="910.5" cy="1220.4" r="8.7"/><circle cx="860.8" cy="1265.7" r="8.7"/><circle cx="1023.6" cy="1145" r="8.7"/><circle cx="1029.9" cy="1219.7" r="8.7"/>
<circle cx="947.8" cy="1192.8" r="8.7"/><circle cx="859.5" cy="1197" r="8.7"/><circle cx="902.5" cy="1177.4" r="8.7"/><circle cx="949.5" cy="1240.3" r="8.7"/><circle cx="864.5" cy="1170.5" r="8.7"/><circle cx="945.5" cy="1209.1" r="8.7"/>
<circle cx="907.5" cy="1198.4" r="8.7"/><circle cx="912" cy="1250.2" r="8.7"/><circle cx="900.1" cy="1163.1" r="8.7"/><circle cx="996.9" cy="1193.3" r="8.7"/><circle cx="891.4" cy="1225" r="8.7"/><circle cx="1061.3" cy="1163" r="8.7"/>
<circle cx="848.9" cy="1200.1" r="8.7"/><circle cx="861.2" cy="1223.2" r="8.7"/><circle cx="871.6" cy="1152.2" r="8.7"/><circle cx="867.1" cy="1170" r="8.7"/><circle cx="973.3" cy="1162.7" r="8.7"/><circle cx="1009.1" cy="1169" r="8.7"/>
<circle cx="1049.3" cy="1134.4" r="8.7"/><circle cx="896.5" cy="1196.4" r="8.7"/><circle cx="1009.6" cy="1208.3" r="8.7"/><circle cx="872.5" cy="1232.3" r="8.7"/><circle cx="896.9" cy="1215" r="8.7"/><circle cx="974.3" cy="1241.1" r="8.7"/>
<circle cx="882" cy="1206.2" r="8.7"/><circle cx="922.9" cy="1168.9" r="8.7"/><circle cx="918.4" cy="1191.5" r="8.7"/><circle cx="875.6" cy="1243.2" r="8.7"/><circle cx="946.4" cy="1238.2" r="8.7"/><circle cx="1021.5" cy="1220.8" r="8.7"/>
<circle cx="982.7" cy="1230.6" r="8.7"/><circle cx="1097.8" cy="1163.6" r="8.7"/><circle cx="815.4" cy="1162.7" r="8.7"/><circle cx="785.4" cy="1121.5" r="8.7"/><circle cx="806.1" cy="1108.4" r="8.7"/><circle cx="810.4" cy="1086.3" r="8.7"/>
<circle cx="893.4" cy="1060.2" r="8.7"/><circle cx="864" cy="1136.3" r="8.7"/><circle cx="781.7" cy="1208.3" r="8.7"/><circle cx="879.7" cy="1050.7" r="8.7"/><circle cx="795.9" cy="1132.8" r="8.7"/><circle cx="843.7" cy="1119.4" r="8.7"/>
<circle cx="825.2" cy="1175.1" r="8.7"/><circle cx="818.6" cy="1170.9" r="8.7"/><circle cx="802.8" cy="1203.2" r="8.7"/><circle cx="824.8" cy="1148.7" r="8.7"/><circle cx="883.6" cy="1159.5" r="8.7"/><circle cx="807.9" cy="1087.5" r="8.7"/>
<circle cx="827.7" cy="1108.2" r="8.7"/><circle cx="836.9" cy="1078.6" r="8.7"/><circle cx="801.4" cy="1161.6" r="8.7"/><circle cx="850.6" cy="1158.8" r="8.7"/><circle cx="849.5" cy="1178.4" r="8.7"/><circle cx="839.5" cy="1190.5" r="8.7"/>
<circle cx="845.2" cy="1127.3" r="8.7"/><circle cx="851.7" cy="1092" r="8.7"/><circle cx="863.8" cy="1089.1" r="8.7"/><circle cx="835.2" cy="1238.8" r="8.7"/><circle cx="848.1" cy="1134.2" r="8.7"/><circle cx="832.6" cy="1182.8" r="8.7"/>
<circle cx="794" cy="1127" r="8.7"/><circle cx="826.6" cy="1116.6" r="8.7"/><circle cx="826.2" cy="1216.5" r="8.7"/><circle cx="810" cy="1162" r="8.7"/><circle cx="805.7" cy="1064.2" r="8.7"/><circle cx="810" cy="1205.3" r="8.7"/>
<circle cx="792.8" cy="1231.5" r="8.7"/><circle cx="875.3" cy="1115.2" r="8.7"/><circle cx="815.1" cy="1215.6" r="8.7"/><circle cx="818.3" cy="1156.2" r="8.7"/><circle cx="831.2" cy="1173.6" r="8.7"/><circle cx="845.8" cy="1139.9" r="8.7"/>
<circle cx="858.7" cy="1214.3" r="8.7"/><circle cx="849.1" cy="1186.7" r="8.7"/><circle cx="886.8" cy="1067.7" r="8.7"/><circle cx="837.7" cy="1184.5" r="8.7"/><circle cx="801.6" cy="1123.1" r="8.7"/><circle cx="804.3" cy="1148.9" r="8.7"/>
<circle cx="855.7" cy="1219.8" r="8.7"/><circle cx="822.4" cy="1199.2" r="8.7"/><circle cx="838.1" cy="1215.7" r="8.7"/><circle cx="879.2" cy="1072.8" r="8.7"/><circle cx="1100.4" cy="1073.4" r="8.7"/><circle cx="1124" cy="1100.8" r="8.7"/>
<circle cx="1063.7" cy="1039.9" r="8.7"/><circle cx="1092.4" cy="1086.8" r="8.7"/><circle cx="1060.7" cy="1012.4" r="8.7"/><circle cx="1086.2" cy="1107.2" r="8.7"/><circle cx="1087.2" cy="923.6" r="8.7"/><circle cx="1154.2" cy="1000.9" r="8.7"/>
<circle cx="1094" cy="1149.5" r="8.7"/><circle cx="1135.6" cy="1006.3" r="8.7"/><circle cx="1010.5" cy="1042.7" r="8.7"/><circle cx="1076.6" cy="1160.4" r="8.7"/><circle cx="1148.4" cy="1030.6" r="8.7"/><circle cx="1058.2" cy="1070.6" r="8.7"/>
<circle cx="1034.1" cy="943.7" r="8.7"/><circle cx="1141.4" cy="1044.9" r="8.7"/><circle cx="1088.9" cy="1035.1" r="8.7"/><circle cx="1097.3" cy="974" r="8.7"/><circle cx="1109" cy="1071.7" r="8.7"/><circle cx="1134" cy="1115.1" r="8.7"/>
<circle cx="1088.3" cy="954" r="8.7"/><circle cx="1053.5" cy="1159.9" r="8.7"/><circle cx="1063.1" cy="1066.5" r="8.7"/><circle cx="1029.4" cy="1017.4" r="8.7"/><circle cx="1123.8" cy="1064.4" r="8.7"/><circle cx="1100" cy="1160.8" r="8.7"/>
<circle cx="1132.4" cy="1062.9" r="8.7"/><circle cx="1142.2" cy="1050" r="8.7"/><circle cx="1088" cy="1084.6" r="8.7"/><circle cx="1151.9" cy="1077.5" r="8.7"/><circle cx="1102.8" cy="1023.5" r="8.7"/><circle cx="1100.3" cy="1010.5" r="8.7"/>
<circle cx="1095.4" cy="1132.2" r="8.7"/><circle cx="1133.3" cy="1080.1" r="8.7"/><circle cx="1112" cy="1042.8" r="8.7"/><circle cx="1126.6" cy="986.8" r="8.7"/><circle cx="1110.5" cy="1162.8" r="8.7"/><circle cx="1128.8" cy="1056.1" r="8.7"/>
<circle cx="1095.5" cy="1103.6" r="8.7"/><circle cx="1056.1" cy="1096.1" r="8.7"/><circle cx="1070.4" cy="1074.7" r="8.7"/><circle cx="1049.4" cy="1109.9" r="8.7"/><circle cx="1093.6" cy="1136.2" r="8.7"/><circle cx="1165.7" cy="954.1" r="8.7"/>
<circle cx="1096.9" cy="1032.9" r="8.7"/><circle cx="1112.6" cy="1133" r="8.7"/><circle cx="1118.2" cy="1061" r="8.7"/><circle cx="1102.8" cy="913.1" r="8.7"/><circle cx="1085.8" cy="1126.8" r="8.7"/><circle cx="1137.5" cy="964.9" r="8.7"/>
<circle cx="1114.9" cy="995.8" r="8.7"/><circle cx="1054.8" cy="1059.4" r="8.7"/><circle cx="1160.4" cy="936.9" r="8.7"/><circle cx="1111.7" cy="1051" r="8.7"/><circle cx="1135.8" cy="973.7" r="8.7"/><circle cx="1136.9" cy="1033.5" r="8.7"/>
<circle cx="1023" cy="976.5" r="8.7"/><circle cx="1132.8" cy="1079.6" r="8.7"/><circle cx="1106.1" cy="1024.5" r="8.7"/><circle cx="1170.5" cy="1030.8" r="8.7"/><circle cx="1082.5" cy="1134.5" r="8.7"/><circle cx="1134.6" cy="1039.2" r="8.7"/>
<circle cx="1062.3" cy="1013.1" r="8.7"/><circle cx="1107.6" cy="1084.8" r="8.7"/><circle cx="1145.3" cy="1012.9" r="8.7"/><circle cx="1101.4" cy="1117.1" r="8.7"/><circle cx="1107.7" cy="1078" r="8.7"/><circle cx="1127.6" cy="1032.4" r="8.7"/>
<circle cx="1104.6" cy="1116.3" r="8.7"/><circle cx="1145" cy="1060.9" r="8.7"/><circle cx="1105.3" cy="1126.4" r="8.7"/><circle cx="1146.2" cy="1089.3" r="8.7"/><circle cx="1062" cy="1032.2" r="8.7"/><circle cx="1108.3" cy="1009.8" r="8.7"/>
<circle cx="1016.8" cy="1175.3" r="8.7"/><circle cx="1100.1" cy="1066.4" r="8.7"/><circle cx="1109.3" cy="1102.8" r="8.7"/><circle cx="1080.4" cy="1107.5" r="8.7"/><circle cx="1145.1" cy="1040.2" r="8.7"/><circle cx="1070.4" cy="880.8" r="8.7"/>
<circle cx="1206.2" cy="772.3" r="8.7"/><circle cx="1156" cy="791" r="8.7"/><circle cx="1110.3" cy="807" r="8.7"/><circle cx="1172.9" cy="818.4" r="8.7"/><circle cx="1077" cy="830.8" r="8.7"/><circle cx="1049.6" cy="849.9" r="8.7"/>
<circle cx="1120.4" cy="842.2" r="8.7"/><circle cx="1144.6" cy="839" r="8.7"/><circle cx="1147.8" cy="852.2" r="8.7"/><circle cx="1173.8" cy="848.1" r="8.7"/><circle cx="1104.4" cy="855" r="8.7"/><circle cx="1176.1" cy="865" r="8.7"/>
<circle cx="1135.5" cy="869.6" r="8.7"/><circle cx="1159.2" cy="867.3" r="8.7"/><circle cx="1156" cy="876.4" r="8.7"/><circle cx="1186.6" cy="883.3" r="8.7"/><circle cx="1154.6" cy="893.8" r="8.7"/><circle cx="1240.5" cy="901.5" r="8.7"/>
<circle cx="1287.1" cy="909.8" r="8.7"/><circle cx="1180.7" cy="916.6" r="8.7"/><circle cx="1208.5" cy="942.6" r="8.7"/><circle cx="1212.6" cy="992.9" r="8.7"/><circle cx="1220.8" cy="1002" r="8.7"/><circle cx="1193.5" cy="1053.6" r="8.7"/>
<circle cx="1251.9" cy="1102.4" r="8.7"/><circle cx="1200.3" cy="1123" r="8.7"/><circle cx="1180.7" cy="1107.9" r="8.7"/><circle cx="1182.9" cy="1145.8" r="8.7"/><circle cx="1191.2" cy="1167.7" r="8.7"/><circle cx="1169.3" cy="1174.6" r="8.7"/>
<circle cx="1208.1" cy="1197" r="8.7"/><circle cx="1143.2" cy="1182.4" r="8.7"/><circle cx="1151.4" cy="1196.1" r="8.7"/><circle cx="1162.4" cy="1206.6" r="8.7"/><circle cx="1118.1" cy="1186" r="8.7"/><circle cx="1088.4" cy="1196.1" r="8.7"/>
<circle cx="1091.6" cy="1202" r="8.7"/><circle cx="1101.2" cy="1234.9" r="8.7"/><circle cx="1103.5" cy="1249.9" r="8.7"/><circle cx="1121.3" cy="1245.4" r="8.7"/><circle cx="1188.9" cy="1260.9" r="8.7"/><circle cx="1140" cy="1275.1" r="8.7"/>
<circle cx="1229.1" cy="1296.5" r="8.7"/><circle cx="1067.9" cy="1263.2" r="8.7"/><circle cx="1042.8" cy="1271.4" r="8.7"/><circle cx="1041.9" cy="1257.7" r="8.7"/><circle cx="1017.7" cy="1262.3" r="8.7"/><circle cx="988" cy="1260" r="8.7"/>
<circle cx="965.1" cy="1255.4" r="8.7"/><circle cx="918.1" cy="885.6" r="8.7"/><circle cx="815.4" cy="967.7" r="8.7"/><circle cx="877" cy="968.7" r="8.7"/><circle cx="894.4" cy="946.3" r="8.7"/><circle cx="927.7" cy="953.1" r="8.7"/>
<circle cx="840.9" cy="1017.1" r="8.7"/><circle cx="856.9" cy="1000.6" r="8.7"/><circle cx="797.6" cy="1072.8" r="8.7"/><circle cx="825" cy="1051.3" r="8.7"/><circle cx="836.4" cy="1053.6" r="8.7"/><circle cx="789.3" cy="1090.1" r="8.7"/>
<circle cx="782.5" cy="1113.9" r="8.7"/><circle cx="775.6" cy="1139" r="8.7"/><circle cx="743.7" cy="1181" r="8.7"/><circle cx="772.4" cy="1215.7" r="8.7"/><circle cx="787.1" cy="1209.8" r="8.7"/><circle cx="800.8" cy="1278.2" r="8.7"/>
<circle cx="782.5" cy="1308.8" r="8.7"/><circle cx="847.8" cy="1287.4" r="8.7"/><circle cx="899.8" cy="1283.7" r="8.7"/><circle cx="862.4" cy="1266.8" r="8.7"/><circle cx="871.5" cy="1271.4" r="8.7"/><circle cx="798.5" cy="1259.1" r="8.7"/>
<circle cx="808.5" cy="1247.7" r="8.7"/><circle cx="1163.8" cy="1088.7" r="8.7"/><circle cx="1172.9" cy="967.7" r="8.7"/><circle cx="1168.3" cy="956.3" r="8.7"/><circle cx="1184.3" cy="944.9" r="8.7"/><circle cx="1145.5" cy="1125.3" r="8.7"/>
<circle cx="1163.8" cy="1022.5" r="8.7"/>
</g>
<polygon points="743.8,1175.4 757.4,1169.9 770.9,1164.3 784.5,1158.8 798.1,1153.2 811.7,1147.6 825.2,1142.1 838.8,1136.5 852.4,1130.9 866,1125.2 879.5,1119.6 893.1,1113.9 906.7,1108.2 920.2,1102.5 933.8,1096.6 947.4,1090.7 961,1084.8 974.5,1078.7 988.1,1072.5 1001.7,1066.3 1015.2,1059.9 1028.8,1053.5 1042.4,1047 1056,1040.4 1069.5,1033.8 1083.1,1027.2 1096.7,1020.6 1110.3,1013.9 1123.8,1007.2 1137.4,1000.5 1151,993.8 1164.5,987.1 1178.1,980.4 1191.7,973.6 1205.3,966.9 1218.8,960.2 1232.4,953.4 1246,946.7 1259.6,939.9 1273.1,933.2 1286.7,926.4 1286.7,956.8 1273.1,962.3 1259.6,967.8 1246,973.4 1232.4,978.9 1218.8,984.4 1205.3,990 1191.7,995.5 1178.1,1001.1 1164.5,1006.6 1151,1012.2 1137.4,1017.8 1123.8,1023.3 1110.3,1028.9 1096.7,1034.5 1083.1,1040.2 1069.5,1045.8 1056,1051.5 1042.4,1057.3 1028.8,1063 1015.2,1068.9 1001.7,1074.8 988.1,1080.8 974.5,1086.9 961,1093.2 947.4,1099.5 933.8,1105.8 920.2,1112.3 906.7,1118.8 893.1,1125.4 879.5,1132 866,1138.6 852.4,1145.3 838.8,1152 825.2,1158.7 811.7,1165.4 798.1,1172.1 784.5,1178.8 770.9,1185.5 757.4,1192.3 743.8,1199" fill="#999" fill-opacity="0.4"/>
<line x1="743.8" y1="1187.2" x2="1286.7" y2="941.6" stroke="#4e79a7" stroke-width="7.3"/>
</g>
<text class="an"><tspan x="745.6" y="818" class="i">R</tspan><tspan x="782.4" y="822.8" font-size="44px">=</tspan><tspan x="817.7" y="818">0.45,</tspan><tspan x="921.4" y="818" class="i">p</tspan><tspan x="951" y="823.8" font-size="48px">&lt;</tspan><tspan x="986.3" y="818">2.2e−16</tspan></text>
<rect x="717.7" y="746.9" width="595.5" height="588.4" fill="none" stroke="#333" stroke-width="2.1"/>
<rect x="717.7" y="679.2" width="595.5" height="65.8" fill="#d9d9d9" stroke="#333" stroke-width="2.1"/>
<text class="st" x="1015.5" y="724.7" text-anchor="middle">TP4</text>
<text class="tk" x="721.6" y="1381.7" text-anchor="middle">1</text>
<text class="tk" x="849.6" y="1381.7" text-anchor="middle">2</text>
<text class="tk" x="977.6" y="1381.7" text-anchor="middle">3</text>
<text class="tk" x="1105.6" y="1381.7" text-anchor="middle">4</text>
<text class="tk" x="1233.6" y="1381.7" text-anchor="middle">5</text>
<path d="M721.6 1336.2v11M849.6 1336.2v11M977.6 1336.2v11M1105.6 1336.2v11M1233.6 1336.2v11" stroke="#333" stroke-width="4.2" fill="none"/>
</g>
<text class="ti" x="707" y="1426.4" text-anchor="middle" letter-spacing="0.4">Log<tspan font-size="29px" dy="10.3">10</tspan><tspan dy="-10.3">(TPM)</tspan></text>
<text class="ti" transform="translate(32.5 702) rotate(-90)" text-anchor="middle">Log<tspan font-size="29px" dy="10.3">10</tspan><tspan dy="-10.3">(Protein Abundance)</tspan></text>
</svg>
</body></html>
